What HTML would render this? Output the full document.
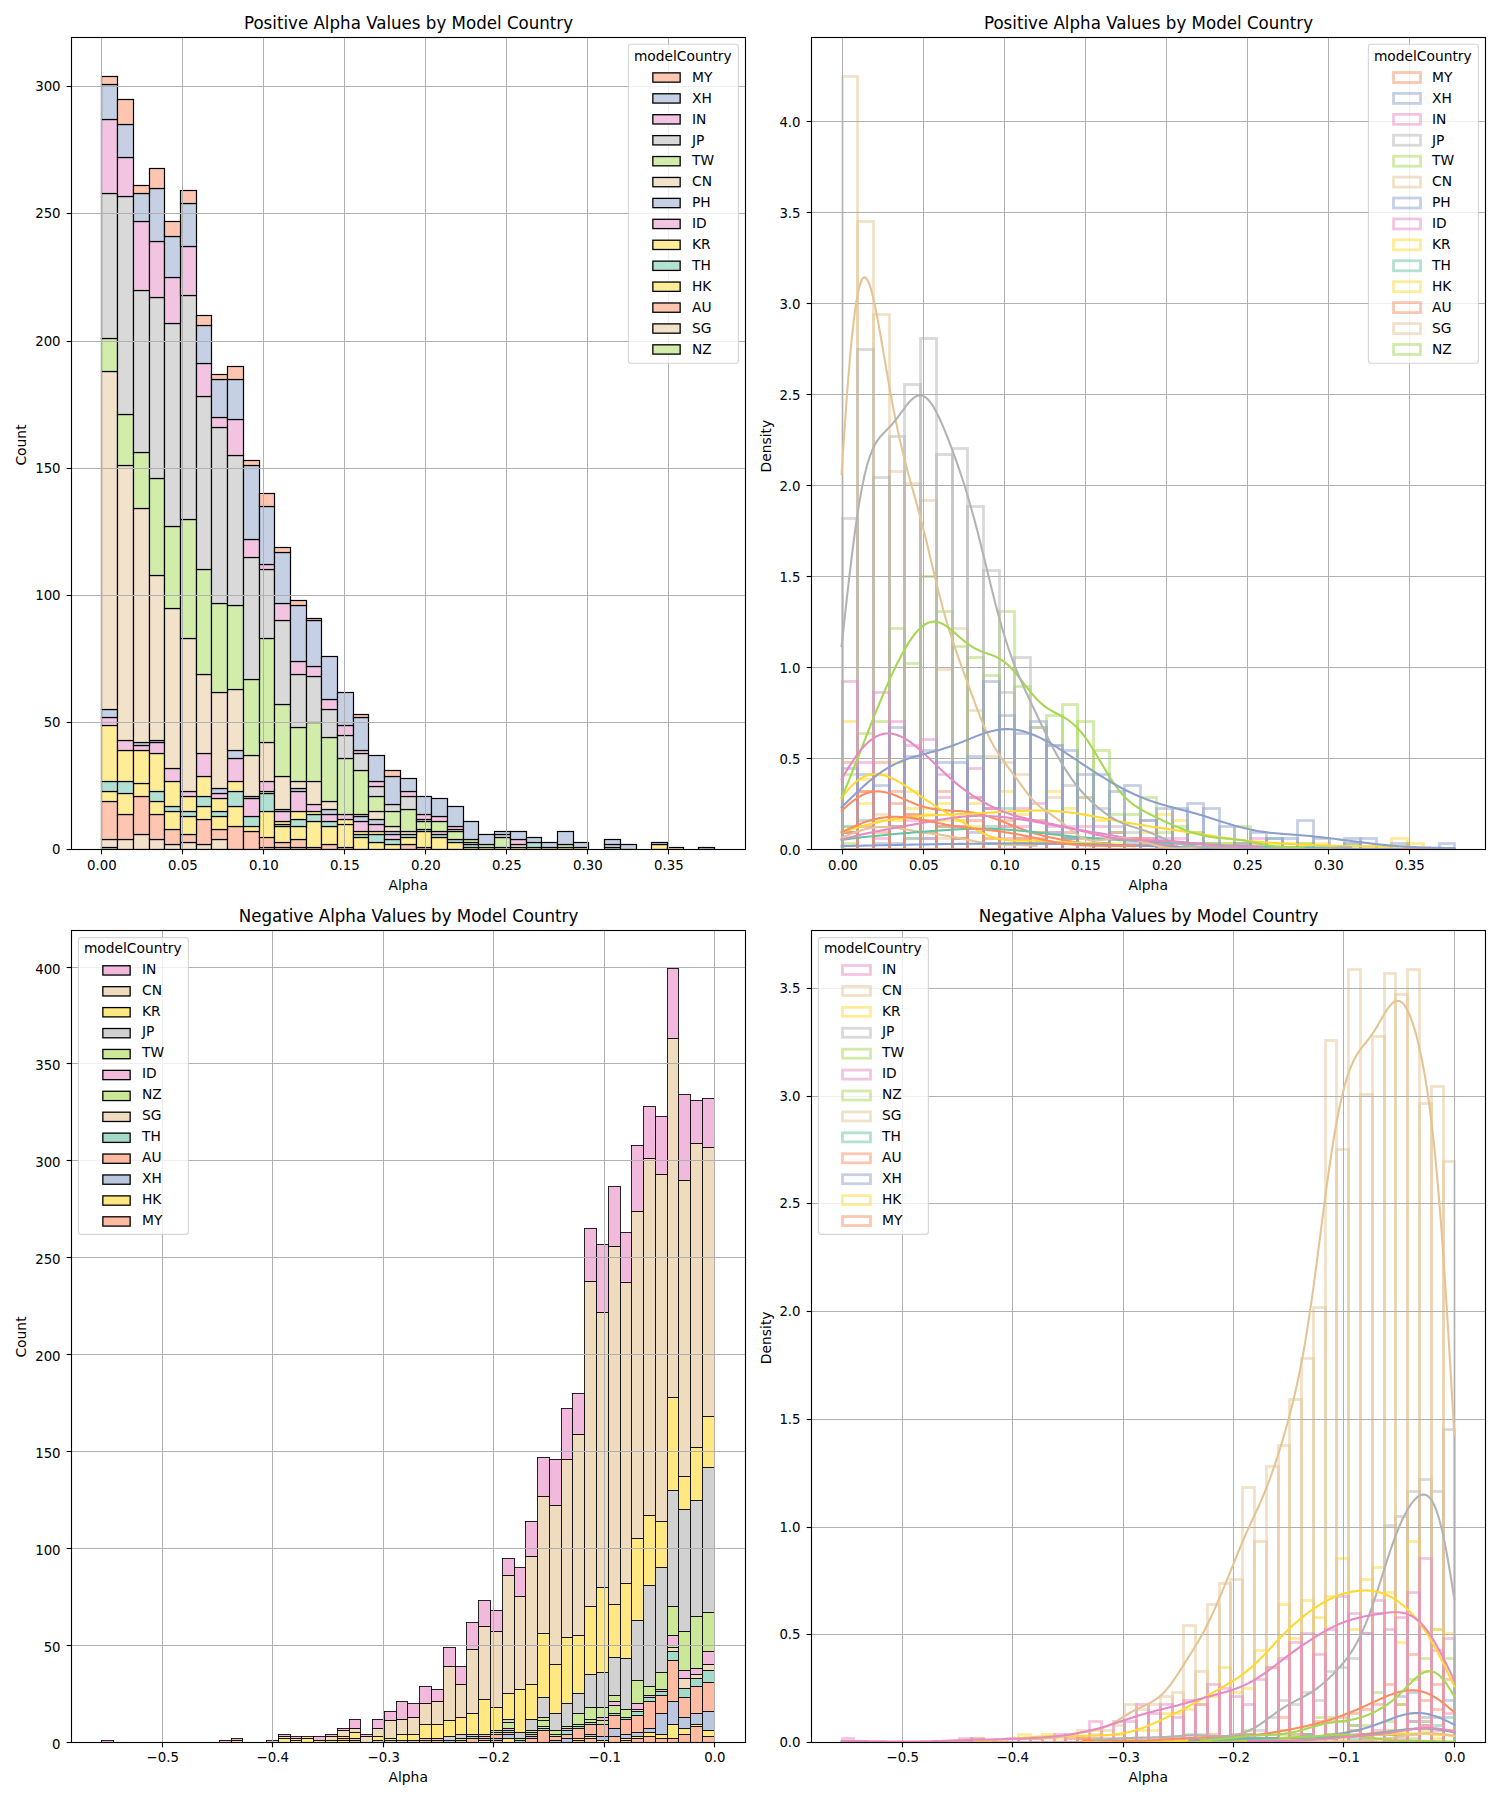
<!DOCTYPE html><html><head><meta charset="utf-8"><title>Alpha Values by Model Country</title><style>html,body{margin:0;padding:0;background:#fff}svg{display:block}</style></head><body><svg width="1500" height="1800" viewBox="0 0 1500 1800"><rect width="1500" height="1800" fill="#fff"/><clipPath id="clipTL"><rect x="71.5" y="37.5" width="674.0" height="812.0"/></clipPath>
<g clip-path="url(#clipTL)">
<g stroke="#000" stroke-width="1.2" stroke-linejoin="miter">
<g fill="#d2ecaa"><rect x="101.5" y="847.5" width="16" height="2"/><rect x="117.5" y="849.5" width="16" height="0"/><rect x="133.5" y="849.5" width="16" height="0"/><rect x="149.5" y="849.5" width="15" height="0"/><rect x="164.5" y="849.5" width="16" height="0"/><rect x="180.5" y="849.5" width="16" height="0"/><rect x="196.5" y="849.5" width="15" height="0"/><rect x="211.5" y="849.5" width="16" height="0"/><rect x="227.5" y="849.5" width="16" height="0"/><rect x="243.5" y="849.5" width="16" height="0"/><rect x="259.5" y="849.5" width="15" height="0"/><rect x="274.5" y="849.5" width="16" height="0"/><rect x="290.5" y="849.5" width="16" height="0"/><rect x="306.5" y="849.5" width="15" height="0"/><rect x="321.5" y="849.5" width="16" height="0"/><rect x="337.5" y="849.5" width="16" height="0"/><rect x="353.5" y="849.5" width="15" height="0"/><rect x="368.5" y="849.5" width="16" height="0"/><rect x="384.5" y="849.5" width="16" height="0"/><rect x="400.5" y="849.5" width="16" height="0"/><rect x="416.5" y="849.5" width="15" height="0"/><rect x="431.5" y="849.5" width="16" height="0"/><rect x="447.5" y="849.5" width="16" height="0"/><rect x="463.5" y="849.5" width="15" height="0"/><rect x="478.5" y="849.5" width="16" height="0"/><rect x="494.5" y="849.5" width="16" height="0"/><rect x="510.5" y="849.5" width="16" height="0"/><rect x="526.5" y="849.5" width="15" height="0"/><rect x="541.5" y="849.5" width="16" height="0"/><rect x="557.5" y="849.5" width="16" height="0"/><rect x="573.5" y="849.5" width="15" height="0"/><rect x="588.5" y="849.5" width="16" height="0"/><rect x="604.5" y="849.5" width="16" height="0"/><rect x="620.5" y="849.5" width="16" height="0"/><rect x="636.5" y="849.5" width="15" height="0"/><rect x="651.5" y="849.5" width="16" height="0"/><rect x="667.5" y="849.5" width="16" height="0"/><rect x="683.5" y="849.5" width="15" height="0"/><rect x="698.5" y="849.5" width="16" height="0"/></g>
<g fill="#f2e2ca"><rect x="101.5" y="839.5" width="16" height="8"/><rect x="117.5" y="839.5" width="16" height="10"/><rect x="133.5" y="834.5" width="16" height="15"/><rect x="149.5" y="839.5" width="15" height="10"/><rect x="164.5" y="844.5" width="16" height="5"/><rect x="180.5" y="842.5" width="16" height="7"/><rect x="196.5" y="844.5" width="15" height="5"/><rect x="211.5" y="839.5" width="16" height="10"/><rect x="227.5" y="849.5" width="16" height="0"/><rect x="243.5" y="849.5" width="16" height="0"/><rect x="259.5" y="847.5" width="15" height="2"/><rect x="274.5" y="847.5" width="16" height="2"/><rect x="290.5" y="847.5" width="16" height="2"/><rect x="306.5" y="849.5" width="15" height="0"/><rect x="321.5" y="849.5" width="16" height="0"/><rect x="337.5" y="849.5" width="16" height="0"/><rect x="353.5" y="849.5" width="15" height="0"/><rect x="368.5" y="849.5" width="16" height="0"/><rect x="384.5" y="849.5" width="16" height="0"/><rect x="400.5" y="849.5" width="16" height="0"/><rect x="416.5" y="849.5" width="15" height="0"/><rect x="431.5" y="849.5" width="16" height="0"/><rect x="447.5" y="849.5" width="16" height="0"/><rect x="463.5" y="849.5" width="15" height="0"/><rect x="478.5" y="849.5" width="16" height="0"/><rect x="494.5" y="849.5" width="16" height="0"/><rect x="510.5" y="849.5" width="16" height="0"/><rect x="526.5" y="849.5" width="15" height="0"/><rect x="541.5" y="849.5" width="16" height="0"/><rect x="557.5" y="849.5" width="16" height="0"/><rect x="573.5" y="849.5" width="15" height="0"/><rect x="588.5" y="849.5" width="16" height="0"/><rect x="604.5" y="849.5" width="16" height="0"/><rect x="620.5" y="849.5" width="16" height="0"/><rect x="636.5" y="849.5" width="15" height="0"/><rect x="651.5" y="849.5" width="16" height="0"/><rect x="667.5" y="849.5" width="16" height="0"/><rect x="683.5" y="849.5" width="15" height="0"/><rect x="698.5" y="849.5" width="16" height="0"/></g>
<g fill="#fec6b0"><rect x="101.5" y="801.5" width="16" height="38"/><rect x="117.5" y="814.5" width="16" height="25"/><rect x="133.5" y="796.5" width="16" height="38"/><rect x="149.5" y="814.5" width="15" height="25"/><rect x="164.5" y="829.5" width="16" height="15"/><rect x="180.5" y="834.5" width="16" height="8"/><rect x="196.5" y="819.5" width="15" height="25"/><rect x="211.5" y="829.5" width="16" height="10"/><rect x="227.5" y="826.5" width="16" height="23"/><rect x="243.5" y="831.5" width="16" height="18"/><rect x="259.5" y="837.5" width="15" height="10"/><rect x="274.5" y="842.5" width="16" height="5"/><rect x="290.5" y="839.5" width="16" height="8"/><rect x="306.5" y="847.5" width="15" height="2"/><rect x="321.5" y="844.5" width="16" height="5"/><rect x="337.5" y="847.5" width="16" height="2"/><rect x="353.5" y="849.5" width="15" height="0"/><rect x="368.5" y="849.5" width="16" height="0"/><rect x="384.5" y="849.5" width="16" height="0"/><rect x="400.5" y="844.5" width="16" height="5"/><rect x="416.5" y="847.5" width="15" height="2"/><rect x="431.5" y="849.5" width="16" height="0"/><rect x="447.5" y="849.5" width="16" height="0"/><rect x="463.5" y="849.5" width="15" height="0"/><rect x="478.5" y="849.5" width="16" height="0"/><rect x="494.5" y="849.5" width="16" height="0"/><rect x="510.5" y="849.5" width="16" height="0"/><rect x="526.5" y="849.5" width="15" height="0"/><rect x="541.5" y="849.5" width="16" height="0"/><rect x="557.5" y="849.5" width="16" height="0"/><rect x="573.5" y="849.5" width="15" height="0"/><rect x="588.5" y="849.5" width="16" height="0"/><rect x="604.5" y="849.5" width="16" height="0"/><rect x="620.5" y="849.5" width="16" height="0"/><rect x="636.5" y="849.5" width="15" height="0"/><rect x="651.5" y="849.5" width="16" height="0"/><rect x="667.5" y="849.5" width="16" height="0"/><rect x="683.5" y="849.5" width="15" height="0"/><rect x="698.5" y="849.5" width="16" height="0"/></g>
<g fill="#ffec97"><rect x="101.5" y="791.5" width="16" height="10"/><rect x="117.5" y="793.5" width="16" height="21"/><rect x="133.5" y="783.5" width="16" height="13"/><rect x="149.5" y="801.5" width="15" height="13"/><rect x="164.5" y="811.5" width="16" height="18"/><rect x="180.5" y="816.5" width="16" height="18"/><rect x="196.5" y="806.5" width="15" height="13"/><rect x="211.5" y="816.5" width="16" height="13"/><rect x="227.5" y="806.5" width="16" height="20"/><rect x="243.5" y="826.5" width="16" height="5"/><rect x="259.5" y="811.5" width="15" height="26"/><rect x="274.5" y="826.5" width="16" height="16"/><rect x="290.5" y="826.5" width="16" height="13"/><rect x="306.5" y="821.5" width="15" height="26"/><rect x="321.5" y="826.5" width="16" height="18"/><rect x="337.5" y="824.5" width="16" height="23"/><rect x="353.5" y="837.5" width="15" height="12"/><rect x="368.5" y="842.5" width="16" height="7"/><rect x="384.5" y="844.5" width="16" height="5"/><rect x="400.5" y="837.5" width="16" height="7"/><rect x="416.5" y="831.5" width="15" height="16"/><rect x="431.5" y="837.5" width="16" height="12"/><rect x="447.5" y="842.5" width="16" height="7"/><rect x="463.5" y="847.5" width="15" height="2"/><rect x="478.5" y="847.5" width="16" height="2"/><rect x="494.5" y="847.5" width="16" height="2"/><rect x="510.5" y="847.5" width="16" height="2"/><rect x="526.5" y="847.5" width="15" height="2"/><rect x="541.5" y="847.5" width="16" height="2"/><rect x="557.5" y="847.5" width="16" height="2"/><rect x="573.5" y="847.5" width="15" height="2"/><rect x="588.5" y="849.5" width="16" height="0"/><rect x="604.5" y="849.5" width="16" height="0"/><rect x="620.5" y="849.5" width="16" height="0"/><rect x="636.5" y="849.5" width="15" height="0"/><rect x="651.5" y="844.5" width="16" height="5"/><rect x="667.5" y="847.5" width="16" height="2"/><rect x="683.5" y="849.5" width="15" height="0"/><rect x="698.5" y="849.5" width="16" height="0"/></g>
<g fill="#b2e0d2"><rect x="101.5" y="781.5" width="16" height="10"/><rect x="117.5" y="781.5" width="16" height="12"/><rect x="133.5" y="783.5" width="16" height="0"/><rect x="149.5" y="791.5" width="15" height="10"/><rect x="164.5" y="806.5" width="16" height="5"/><rect x="180.5" y="811.5" width="16" height="5"/><rect x="196.5" y="796.5" width="15" height="10"/><rect x="211.5" y="811.5" width="16" height="5"/><rect x="227.5" y="791.5" width="16" height="15"/><rect x="243.5" y="816.5" width="16" height="10"/><rect x="259.5" y="793.5" width="15" height="18"/><rect x="274.5" y="824.5" width="16" height="2"/><rect x="290.5" y="819.5" width="16" height="7"/><rect x="306.5" y="814.5" width="15" height="7"/><rect x="321.5" y="821.5" width="16" height="5"/><rect x="337.5" y="824.5" width="16" height="0"/><rect x="353.5" y="834.5" width="15" height="3"/><rect x="368.5" y="834.5" width="16" height="8"/><rect x="384.5" y="839.5" width="16" height="5"/><rect x="400.5" y="834.5" width="16" height="3"/><rect x="416.5" y="829.5" width="15" height="2"/><rect x="431.5" y="834.5" width="16" height="3"/><rect x="447.5" y="839.5" width="16" height="3"/><rect x="463.5" y="844.5" width="15" height="3"/><rect x="478.5" y="847.5" width="16" height="0"/><rect x="494.5" y="847.5" width="16" height="0"/><rect x="510.5" y="847.5" width="16" height="0"/><rect x="526.5" y="842.5" width="15" height="5"/><rect x="541.5" y="847.5" width="16" height="0"/><rect x="557.5" y="847.5" width="16" height="0"/><rect x="573.5" y="847.5" width="15" height="0"/><rect x="588.5" y="849.5" width="16" height="0"/><rect x="604.5" y="847.5" width="16" height="2"/><rect x="620.5" y="849.5" width="16" height="0"/><rect x="636.5" y="849.5" width="15" height="0"/><rect x="651.5" y="844.5" width="16" height="0"/><rect x="667.5" y="847.5" width="16" height="0"/><rect x="683.5" y="849.5" width="15" height="0"/><rect x="698.5" y="849.5" width="16" height="0"/></g>
<g fill="#ffec97"><rect x="101.5" y="725.5" width="16" height="56"/><rect x="117.5" y="750.5" width="16" height="31"/><rect x="133.5" y="750.5" width="16" height="33"/><rect x="149.5" y="753.5" width="15" height="38"/><rect x="164.5" y="781.5" width="16" height="25"/><rect x="180.5" y="796.5" width="16" height="15"/><rect x="196.5" y="776.5" width="15" height="20"/><rect x="211.5" y="798.5" width="16" height="13"/><rect x="227.5" y="781.5" width="16" height="10"/><rect x="243.5" y="816.5" width="16" height="0"/><rect x="259.5" y="791.5" width="15" height="2"/><rect x="274.5" y="821.5" width="16" height="3"/><rect x="290.5" y="811.5" width="16" height="8"/><rect x="306.5" y="811.5" width="15" height="3"/><rect x="321.5" y="821.5" width="16" height="0"/><rect x="337.5" y="819.5" width="16" height="5"/><rect x="353.5" y="831.5" width="15" height="3"/><rect x="368.5" y="831.5" width="16" height="3"/><rect x="384.5" y="839.5" width="16" height="0"/><rect x="400.5" y="834.5" width="16" height="0"/><rect x="416.5" y="829.5" width="15" height="0"/><rect x="431.5" y="834.5" width="16" height="0"/><rect x="447.5" y="839.5" width="16" height="0"/><rect x="463.5" y="844.5" width="15" height="0"/><rect x="478.5" y="847.5" width="16" height="0"/><rect x="494.5" y="847.5" width="16" height="0"/><rect x="510.5" y="847.5" width="16" height="0"/><rect x="526.5" y="842.5" width="15" height="0"/><rect x="541.5" y="847.5" width="16" height="0"/><rect x="557.5" y="847.5" width="16" height="0"/><rect x="573.5" y="847.5" width="15" height="0"/><rect x="588.5" y="849.5" width="16" height="0"/><rect x="604.5" y="847.5" width="16" height="0"/><rect x="620.5" y="849.5" width="16" height="0"/><rect x="636.5" y="849.5" width="15" height="0"/><rect x="651.5" y="844.5" width="16" height="0"/><rect x="667.5" y="847.5" width="16" height="0"/><rect x="683.5" y="849.5" width="15" height="0"/><rect x="698.5" y="849.5" width="16" height="0"/></g>
<g fill="#f3c4e1"><rect x="101.5" y="717.5" width="16" height="8"/><rect x="117.5" y="740.5" width="16" height="10"/><rect x="133.5" y="745.5" width="16" height="5"/><rect x="149.5" y="742.5" width="15" height="11"/><rect x="164.5" y="768.5" width="16" height="13"/><rect x="180.5" y="791.5" width="16" height="5"/><rect x="196.5" y="753.5" width="15" height="23"/><rect x="211.5" y="793.5" width="16" height="5"/><rect x="227.5" y="758.5" width="16" height="23"/><rect x="243.5" y="798.5" width="16" height="18"/><rect x="259.5" y="781.5" width="15" height="10"/><rect x="274.5" y="811.5" width="16" height="10"/><rect x="290.5" y="791.5" width="16" height="20"/><rect x="306.5" y="804.5" width="15" height="7"/><rect x="321.5" y="814.5" width="16" height="7"/><rect x="337.5" y="814.5" width="16" height="5"/><rect x="353.5" y="821.5" width="15" height="10"/><rect x="368.5" y="824.5" width="16" height="7"/><rect x="384.5" y="834.5" width="16" height="5"/><rect x="400.5" y="834.5" width="16" height="0"/><rect x="416.5" y="829.5" width="15" height="0"/><rect x="431.5" y="831.5" width="16" height="3"/><rect x="447.5" y="839.5" width="16" height="0"/><rect x="463.5" y="844.5" width="15" height="0"/><rect x="478.5" y="847.5" width="16" height="0"/><rect x="494.5" y="847.5" width="16" height="0"/><rect x="510.5" y="847.5" width="16" height="0"/><rect x="526.5" y="842.5" width="15" height="0"/><rect x="541.5" y="847.5" width="16" height="0"/><rect x="557.5" y="847.5" width="16" height="0"/><rect x="573.5" y="847.5" width="15" height="0"/><rect x="588.5" y="849.5" width="16" height="0"/><rect x="604.5" y="847.5" width="16" height="0"/><rect x="620.5" y="849.5" width="16" height="0"/><rect x="636.5" y="849.5" width="15" height="0"/><rect x="651.5" y="844.5" width="16" height="0"/><rect x="667.5" y="847.5" width="16" height="0"/><rect x="683.5" y="849.5" width="15" height="0"/><rect x="698.5" y="849.5" width="16" height="0"/></g>
<g fill="#c6d0e5"><rect x="101.5" y="709.5" width="16" height="8"/><rect x="117.5" y="740.5" width="16" height="0"/><rect x="133.5" y="742.5" width="16" height="3"/><rect x="149.5" y="740.5" width="15" height="2"/><rect x="164.5" y="768.5" width="16" height="0"/><rect x="180.5" y="791.5" width="16" height="0"/><rect x="196.5" y="753.5" width="15" height="0"/><rect x="211.5" y="788.5" width="16" height="5"/><rect x="227.5" y="750.5" width="16" height="8"/><rect x="243.5" y="796.5" width="16" height="2"/><rect x="259.5" y="781.5" width="15" height="0"/><rect x="274.5" y="809.5" width="16" height="2"/><rect x="290.5" y="788.5" width="16" height="3"/><rect x="306.5" y="804.5" width="15" height="0"/><rect x="321.5" y="809.5" width="16" height="5"/><rect x="337.5" y="814.5" width="16" height="0"/><rect x="353.5" y="816.5" width="15" height="5"/><rect x="368.5" y="819.5" width="16" height="5"/><rect x="384.5" y="831.5" width="16" height="3"/><rect x="400.5" y="834.5" width="16" height="0"/><rect x="416.5" y="829.5" width="15" height="0"/><rect x="431.5" y="831.5" width="16" height="0"/><rect x="447.5" y="839.5" width="16" height="0"/><rect x="463.5" y="844.5" width="15" height="0"/><rect x="478.5" y="847.5" width="16" height="0"/><rect x="494.5" y="847.5" width="16" height="0"/><rect x="510.5" y="847.5" width="16" height="0"/><rect x="526.5" y="842.5" width="15" height="0"/><rect x="541.5" y="847.5" width="16" height="0"/><rect x="557.5" y="847.5" width="16" height="0"/><rect x="573.5" y="847.5" width="15" height="0"/><rect x="588.5" y="849.5" width="16" height="0"/><rect x="604.5" y="847.5" width="16" height="0"/><rect x="620.5" y="849.5" width="16" height="0"/><rect x="636.5" y="849.5" width="15" height="0"/><rect x="651.5" y="842.5" width="16" height="2"/><rect x="667.5" y="847.5" width="16" height="0"/><rect x="683.5" y="849.5" width="15" height="0"/><rect x="698.5" y="849.5" width="16" height="0"/></g>
<g fill="#f2e2ca"><rect x="101.5" y="371.5" width="16" height="338"/><rect x="117.5" y="465.5" width="16" height="275"/><rect x="133.5" y="508.5" width="16" height="234"/><rect x="149.5" y="575.5" width="15" height="165"/><rect x="164.5" y="608.5" width="16" height="160"/><rect x="180.5" y="638.5" width="16" height="153"/><rect x="196.5" y="674.5" width="15" height="79"/><rect x="211.5" y="692.5" width="16" height="96"/><rect x="227.5" y="689.5" width="16" height="61"/><rect x="243.5" y="755.5" width="16" height="41"/><rect x="259.5" y="742.5" width="15" height="39"/><rect x="274.5" y="776.5" width="16" height="33"/><rect x="290.5" y="781.5" width="16" height="7"/><rect x="306.5" y="781.5" width="15" height="23"/><rect x="321.5" y="801.5" width="16" height="8"/><rect x="337.5" y="814.5" width="16" height="0"/><rect x="353.5" y="814.5" width="15" height="2"/><rect x="368.5" y="811.5" width="16" height="8"/><rect x="384.5" y="826.5" width="16" height="5"/><rect x="400.5" y="831.5" width="16" height="3"/><rect x="416.5" y="829.5" width="15" height="0"/><rect x="431.5" y="831.5" width="16" height="0"/><rect x="447.5" y="839.5" width="16" height="0"/><rect x="463.5" y="842.5" width="15" height="2"/><rect x="478.5" y="847.5" width="16" height="0"/><rect x="494.5" y="847.5" width="16" height="0"/><rect x="510.5" y="844.5" width="16" height="3"/><rect x="526.5" y="842.5" width="15" height="0"/><rect x="541.5" y="847.5" width="16" height="0"/><rect x="557.5" y="847.5" width="16" height="0"/><rect x="573.5" y="847.5" width="15" height="0"/><rect x="588.5" y="849.5" width="16" height="0"/><rect x="604.5" y="847.5" width="16" height="0"/><rect x="620.5" y="849.5" width="16" height="0"/><rect x="636.5" y="849.5" width="15" height="0"/><rect x="651.5" y="842.5" width="16" height="0"/><rect x="667.5" y="847.5" width="16" height="0"/><rect x="683.5" y="849.5" width="15" height="0"/><rect x="698.5" y="849.5" width="16" height="0"/></g>
<g fill="#d2ecaa"><rect x="101.5" y="338.5" width="16" height="33"/><rect x="117.5" y="414.5" width="16" height="51"/><rect x="133.5" y="452.5" width="16" height="56"/><rect x="149.5" y="478.5" width="15" height="97"/><rect x="164.5" y="526.5" width="16" height="82"/><rect x="180.5" y="519.5" width="16" height="119"/><rect x="196.5" y="569.5" width="15" height="105"/><rect x="211.5" y="603.5" width="16" height="89"/><rect x="227.5" y="605.5" width="16" height="84"/><rect x="243.5" y="679.5" width="16" height="76"/><rect x="259.5" y="638.5" width="15" height="104"/><rect x="274.5" y="704.5" width="16" height="72"/><rect x="290.5" y="727.5" width="16" height="54"/><rect x="306.5" y="722.5" width="15" height="59"/><rect x="321.5" y="737.5" width="16" height="64"/><rect x="337.5" y="758.5" width="16" height="56"/><rect x="353.5" y="770.5" width="15" height="44"/><rect x="368.5" y="796.5" width="16" height="15"/><rect x="384.5" y="811.5" width="16" height="15"/><rect x="400.5" y="809.5" width="16" height="22"/><rect x="416.5" y="821.5" width="15" height="8"/><rect x="431.5" y="821.5" width="16" height="10"/><rect x="447.5" y="831.5" width="16" height="8"/><rect x="463.5" y="839.5" width="15" height="3"/><rect x="478.5" y="844.5" width="16" height="3"/><rect x="494.5" y="837.5" width="16" height="10"/><rect x="510.5" y="844.5" width="16" height="0"/><rect x="526.5" y="842.5" width="15" height="0"/><rect x="541.5" y="847.5" width="16" height="0"/><rect x="557.5" y="844.5" width="16" height="3"/><rect x="573.5" y="847.5" width="15" height="0"/><rect x="588.5" y="849.5" width="16" height="0"/><rect x="604.5" y="847.5" width="16" height="0"/><rect x="620.5" y="849.5" width="16" height="0"/><rect x="636.5" y="849.5" width="15" height="0"/><rect x="651.5" y="842.5" width="16" height="0"/><rect x="667.5" y="847.5" width="16" height="0"/><rect x="683.5" y="849.5" width="15" height="0"/><rect x="698.5" y="849.5" width="16" height="0"/></g>
<g fill="#d9d9d9"><rect x="101.5" y="193.5" width="16" height="145"/><rect x="117.5" y="196.5" width="16" height="218"/><rect x="133.5" y="290.5" width="16" height="162"/><rect x="149.5" y="297.5" width="15" height="181"/><rect x="164.5" y="323.5" width="16" height="203"/><rect x="180.5" y="295.5" width="16" height="224"/><rect x="196.5" y="396.5" width="15" height="173"/><rect x="211.5" y="427.5" width="16" height="176"/><rect x="227.5" y="455.5" width="16" height="150"/><rect x="243.5" y="557.5" width="16" height="122"/><rect x="259.5" y="569.5" width="15" height="69"/><rect x="274.5" y="620.5" width="16" height="84"/><rect x="290.5" y="674.5" width="16" height="53"/><rect x="306.5" y="676.5" width="15" height="46"/><rect x="321.5" y="709.5" width="16" height="28"/><rect x="337.5" y="735.5" width="16" height="23"/><rect x="353.5" y="753.5" width="15" height="17"/><rect x="368.5" y="786.5" width="16" height="10"/><rect x="384.5" y="804.5" width="16" height="7"/><rect x="400.5" y="796.5" width="16" height="13"/><rect x="416.5" y="819.5" width="15" height="2"/><rect x="431.5" y="821.5" width="16" height="0"/><rect x="447.5" y="829.5" width="16" height="2"/><rect x="463.5" y="839.5" width="15" height="0"/><rect x="478.5" y="844.5" width="16" height="0"/><rect x="494.5" y="834.5" width="16" height="3"/><rect x="510.5" y="844.5" width="16" height="0"/><rect x="526.5" y="842.5" width="15" height="0"/><rect x="541.5" y="847.5" width="16" height="0"/><rect x="557.5" y="844.5" width="16" height="0"/><rect x="573.5" y="847.5" width="15" height="0"/><rect x="588.5" y="849.5" width="16" height="0"/><rect x="604.5" y="844.5" width="16" height="3"/><rect x="620.5" y="849.5" width="16" height="0"/><rect x="636.5" y="849.5" width="15" height="0"/><rect x="651.5" y="842.5" width="16" height="0"/><rect x="667.5" y="847.5" width="16" height="0"/><rect x="683.5" y="849.5" width="15" height="0"/><rect x="698.5" y="849.5" width="16" height="0"/></g>
<g fill="#f3c4e1"><rect x="101.5" y="119.5" width="16" height="74"/><rect x="117.5" y="157.5" width="16" height="39"/><rect x="133.5" y="221.5" width="16" height="69"/><rect x="149.5" y="241.5" width="15" height="56"/><rect x="164.5" y="277.5" width="16" height="46"/><rect x="180.5" y="246.5" width="16" height="49"/><rect x="196.5" y="363.5" width="15" height="33"/><rect x="211.5" y="417.5" width="16" height="10"/><rect x="227.5" y="419.5" width="16" height="36"/><rect x="243.5" y="539.5" width="16" height="18"/><rect x="259.5" y="564.5" width="15" height="5"/><rect x="274.5" y="603.5" width="16" height="17"/><rect x="290.5" y="661.5" width="16" height="13"/><rect x="306.5" y="666.5" width="15" height="10"/><rect x="321.5" y="699.5" width="16" height="10"/><rect x="337.5" y="725.5" width="16" height="10"/><rect x="353.5" y="750.5" width="15" height="3"/><rect x="368.5" y="781.5" width="16" height="5"/><rect x="384.5" y="804.5" width="16" height="0"/><rect x="400.5" y="791.5" width="16" height="5"/><rect x="416.5" y="814.5" width="15" height="5"/><rect x="431.5" y="816.5" width="16" height="5"/><rect x="447.5" y="826.5" width="16" height="3"/><rect x="463.5" y="839.5" width="15" height="0"/><rect x="478.5" y="844.5" width="16" height="0"/><rect x="494.5" y="834.5" width="16" height="0"/><rect x="510.5" y="839.5" width="16" height="5"/><rect x="526.5" y="842.5" width="15" height="0"/><rect x="541.5" y="847.5" width="16" height="0"/><rect x="557.5" y="844.5" width="16" height="0"/><rect x="573.5" y="847.5" width="15" height="0"/><rect x="588.5" y="849.5" width="16" height="0"/><rect x="604.5" y="844.5" width="16" height="0"/><rect x="620.5" y="849.5" width="16" height="0"/><rect x="636.5" y="849.5" width="15" height="0"/><rect x="651.5" y="842.5" width="16" height="0"/><rect x="667.5" y="847.5" width="16" height="0"/><rect x="683.5" y="849.5" width="15" height="0"/><rect x="698.5" y="849.5" width="16" height="0"/></g>
<g fill="#c6d0e5"><rect x="101.5" y="84.5" width="16" height="35"/><rect x="117.5" y="124.5" width="16" height="33"/><rect x="133.5" y="193.5" width="16" height="28"/><rect x="149.5" y="188.5" width="15" height="53"/><rect x="164.5" y="236.5" width="16" height="41"/><rect x="180.5" y="203.5" width="16" height="43"/><rect x="196.5" y="325.5" width="15" height="38"/><rect x="211.5" y="379.5" width="16" height="38"/><rect x="227.5" y="379.5" width="16" height="40"/><rect x="243.5" y="465.5" width="16" height="74"/><rect x="259.5" y="506.5" width="15" height="58"/><rect x="274.5" y="552.5" width="16" height="51"/><rect x="290.5" y="605.5" width="16" height="56"/><rect x="306.5" y="620.5" width="15" height="46"/><rect x="321.5" y="656.5" width="16" height="43"/><rect x="337.5" y="692.5" width="16" height="33"/><rect x="353.5" y="717.5" width="15" height="33"/><rect x="368.5" y="755.5" width="16" height="26"/><rect x="384.5" y="776.5" width="16" height="28"/><rect x="400.5" y="778.5" width="16" height="13"/><rect x="416.5" y="796.5" width="15" height="18"/><rect x="431.5" y="798.5" width="16" height="18"/><rect x="447.5" y="806.5" width="16" height="20"/><rect x="463.5" y="821.5" width="15" height="18"/><rect x="478.5" y="834.5" width="16" height="10"/><rect x="494.5" y="831.5" width="16" height="3"/><rect x="510.5" y="831.5" width="16" height="8"/><rect x="526.5" y="837.5" width="15" height="5"/><rect x="541.5" y="842.5" width="16" height="5"/><rect x="557.5" y="831.5" width="16" height="13"/><rect x="573.5" y="842.5" width="15" height="5"/><rect x="588.5" y="849.5" width="16" height="0"/><rect x="604.5" y="839.5" width="16" height="5"/><rect x="620.5" y="844.5" width="16" height="5"/><rect x="636.5" y="849.5" width="15" height="0"/><rect x="651.5" y="842.5" width="16" height="0"/><rect x="667.5" y="847.5" width="16" height="0"/><rect x="683.5" y="849.5" width="15" height="0"/><rect x="698.5" y="847.5" width="16" height="2"/></g>
<g fill="#fec6b0"><rect x="101.5" y="76.5" width="16" height="8"/><rect x="117.5" y="99.5" width="16" height="25"/><rect x="133.5" y="185.5" width="16" height="8"/><rect x="149.5" y="168.5" width="15" height="20"/><rect x="164.5" y="221.5" width="16" height="15"/><rect x="180.5" y="190.5" width="16" height="13"/><rect x="196.5" y="315.5" width="15" height="10"/><rect x="211.5" y="374.5" width="16" height="5"/><rect x="227.5" y="366.5" width="16" height="13"/><rect x="243.5" y="460.5" width="16" height="5"/><rect x="259.5" y="493.5" width="15" height="13"/><rect x="274.5" y="547.5" width="16" height="5"/><rect x="290.5" y="600.5" width="16" height="5"/><rect x="306.5" y="618.5" width="15" height="2"/><rect x="321.5" y="656.5" width="16" height="0"/><rect x="337.5" y="692.5" width="16" height="0"/><rect x="353.5" y="714.5" width="15" height="3"/><rect x="368.5" y="755.5" width="16" height="0"/><rect x="384.5" y="770.5" width="16" height="6"/><rect x="400.5" y="778.5" width="16" height="0"/><rect x="416.5" y="796.5" width="15" height="0"/><rect x="431.5" y="798.5" width="16" height="0"/><rect x="447.5" y="806.5" width="16" height="0"/><rect x="463.5" y="821.5" width="15" height="0"/><rect x="478.5" y="834.5" width="16" height="0"/><rect x="494.5" y="831.5" width="16" height="0"/><rect x="510.5" y="831.5" width="16" height="0"/><rect x="526.5" y="837.5" width="15" height="0"/><rect x="541.5" y="842.5" width="16" height="0"/><rect x="557.5" y="831.5" width="16" height="0"/><rect x="573.5" y="842.5" width="15" height="0"/><rect x="588.5" y="849.5" width="16" height="0"/><rect x="604.5" y="839.5" width="16" height="0"/><rect x="620.5" y="844.5" width="16" height="0"/><rect x="636.5" y="849.5" width="15" height="0"/><rect x="651.5" y="842.5" width="16" height="0"/><rect x="667.5" y="847.5" width="16" height="0"/><rect x="683.5" y="849.5" width="15" height="0"/><rect x="698.5" y="847.5" width="16" height="0"/></g>
</g>
<g stroke="#b0b0b0" stroke-width="1">
<line x1="101.5" x2="101.5" y1="37.5" y2="849.5"/>
<line x1="182.5" x2="182.5" y1="37.5" y2="849.5"/>
<line x1="263.5" x2="263.5" y1="37.5" y2="849.5"/>
<line x1="344.5" x2="344.5" y1="37.5" y2="849.5"/>
<line x1="425.5" x2="425.5" y1="37.5" y2="849.5"/>
<line x1="506.5" x2="506.5" y1="37.5" y2="849.5"/>
<line x1="587.5" x2="587.5" y1="37.5" y2="849.5"/>
<line x1="668.5" x2="668.5" y1="37.5" y2="849.5"/>
<line x1="71.5" x2="745.5" y1="849.5" y2="849.5"/>
<line x1="71.5" x2="745.5" y1="722.5" y2="722.5"/>
<line x1="71.5" x2="745.5" y1="595.5" y2="595.5"/>
<line x1="71.5" x2="745.5" y1="468.5" y2="468.5"/>
<line x1="71.5" x2="745.5" y1="341.5" y2="341.5"/>
<line x1="71.5" x2="745.5" y1="213.5" y2="213.5"/>
<line x1="71.5" x2="745.5" y1="86.5" y2="86.5"/>
</g>
</g>
<rect x="71.5" y="37.5" width="674.0" height="812.0" fill="none" stroke="#000" stroke-width="1.11"/>
<g stroke="#000" stroke-width="1.11">
<line x1="101.5" x2="101.5" y1="849.5" y2="854.36"/>
<line x1="182.5" x2="182.5" y1="849.5" y2="854.36"/>
<line x1="263.5" x2="263.5" y1="849.5" y2="854.36"/>
<line x1="344.5" x2="344.5" y1="849.5" y2="854.36"/>
<line x1="425.5" x2="425.5" y1="849.5" y2="854.36"/>
<line x1="506.5" x2="506.5" y1="849.5" y2="854.36"/>
<line x1="587.5" x2="587.5" y1="849.5" y2="854.36"/>
<line x1="668.5" x2="668.5" y1="849.5" y2="854.36"/>
<line x1="66.64" x2="71.5" y1="849.5" y2="849.5"/>
<line x1="66.64" x2="71.5" y1="722.5" y2="722.5"/>
<line x1="66.64" x2="71.5" y1="595.5" y2="595.5"/>
<line x1="66.64" x2="71.5" y1="468.5" y2="468.5"/>
<line x1="66.64" x2="71.5" y1="341.5" y2="341.5"/>
<line x1="66.64" x2="71.5" y1="213.5" y2="213.5"/>
<line x1="66.64" x2="71.5" y1="86.5" y2="86.5"/>
</g>
<g font-family="'DejaVu Sans','Liberation Sans',sans-serif" font-size="13.89" fill="#000">
<text transform="translate(101.8,869.8) scale(0.96,1)" text-anchor="middle">0.00</text>
<text transform="translate(182.8,869.8) scale(0.96,1)" text-anchor="middle">0.05</text>
<text transform="translate(263.8,869.8) scale(0.96,1)" text-anchor="middle">0.10</text>
<text transform="translate(344.8,869.8) scale(0.96,1)" text-anchor="middle">0.15</text>
<text transform="translate(425.8,869.8) scale(0.96,1)" text-anchor="middle">0.20</text>
<text transform="translate(506.8,869.8) scale(0.96,1)" text-anchor="middle">0.25</text>
<text transform="translate(587.8,869.8) scale(0.96,1)" text-anchor="middle">0.30</text>
<text transform="translate(668.8,869.8) scale(0.96,1)" text-anchor="middle">0.35</text>
<text transform="translate(60.6,854.3) scale(0.96,1)" text-anchor="end">0</text>
<text transform="translate(60.6,727.3) scale(0.96,1)" text-anchor="end">50</text>
<text transform="translate(60.6,600.3) scale(0.96,1)" text-anchor="end">100</text>
<text transform="translate(60.6,473.3) scale(0.96,1)" text-anchor="end">150</text>
<text transform="translate(60.6,346.3) scale(0.96,1)" text-anchor="end">200</text>
<text transform="translate(60.6,218.3) scale(0.96,1)" text-anchor="end">250</text>
<text transform="translate(60.6,91.3) scale(0.96,1)" text-anchor="end">300</text>
<text x="408.2" y="889.5" text-anchor="middle">Alpha</text>
<text transform="translate(26,445.0) rotate(-90)" text-anchor="middle">Count</text>
</g>
<text transform="translate(408.5,29.2) scale(1,1.07)" text-anchor="middle" font-family="'DejaVu Sans','Liberation Sans',sans-serif" font-size="16.67" fill="#000">Positive Alpha Values by Model Country</text>
<rect x="628.4" y="44.3" width="110.0" height="319" rx="2.8" fill="#fff" fill-opacity="0.8" stroke="#ccc" stroke-opacity="0.8" stroke-width="1.11"/>
<g font-family="'DejaVu Sans','Liberation Sans',sans-serif" font-size="13.8" fill="#000">
<text x="633.9" y="60.9">modelCountry</text>
<rect x="652.85" y="72.85" width="27.3" height="9.3" fill="#fec6b0" stroke="#000" stroke-width="1.3"/>
<text x="692" y="81.8">MY</text>
<rect x="652.85" y="93.77" width="27.3" height="9.3" fill="#c6d0e5" stroke="#000" stroke-width="1.3"/>
<text x="692" y="102.72">XH</text>
<rect x="652.85" y="114.69" width="27.3" height="9.3" fill="#f3c4e1" stroke="#000" stroke-width="1.3"/>
<text x="692" y="123.64">IN</text>
<rect x="652.85" y="135.61" width="27.3" height="9.3" fill="#d9d9d9" stroke="#000" stroke-width="1.3"/>
<text x="692" y="144.56">JP</text>
<rect x="652.85" y="156.53" width="27.3" height="9.3" fill="#d2ecaa" stroke="#000" stroke-width="1.3"/>
<text x="692" y="165.48">TW</text>
<rect x="652.85" y="177.45" width="27.3" height="9.3" fill="#f2e2ca" stroke="#000" stroke-width="1.3"/>
<text x="692" y="186.4">CN</text>
<rect x="652.85" y="198.37" width="27.3" height="9.3" fill="#c6d0e5" stroke="#000" stroke-width="1.3"/>
<text x="692" y="207.32">PH</text>
<rect x="652.85" y="219.29" width="27.3" height="9.3" fill="#f3c4e1" stroke="#000" stroke-width="1.3"/>
<text x="692" y="228.24">ID</text>
<rect x="652.85" y="240.21" width="27.3" height="9.3" fill="#ffec97" stroke="#000" stroke-width="1.3"/>
<text x="692" y="249.16">KR</text>
<rect x="652.85" y="261.13" width="27.3" height="9.3" fill="#b2e0d2" stroke="#000" stroke-width="1.3"/>
<text x="692" y="270.08">TH</text>
<rect x="652.85" y="282.05" width="27.3" height="9.3" fill="#ffec97" stroke="#000" stroke-width="1.3"/>
<text x="692" y="291">HK</text>
<rect x="652.85" y="302.97" width="27.3" height="9.3" fill="#fec6b0" stroke="#000" stroke-width="1.3"/>
<text x="692" y="311.92">AU</text>
<rect x="652.85" y="323.89" width="27.3" height="9.3" fill="#f2e2ca" stroke="#000" stroke-width="1.3"/>
<text x="692" y="332.84">SG</text>
<rect x="652.85" y="344.81" width="27.3" height="9.3" fill="#d2ecaa" stroke="#000" stroke-width="1.3"/>
<text x="692" y="353.76">NZ</text>
</g>
<clipPath id="clipTR"><rect x="811.5" y="37.5" width="674.0" height="812.0"/></clipPath>
<g clip-path="url(#clipTR)">
<g fill="none" stroke-width="2.78" stroke-opacity="0.5">
<g stroke="#a6d854"><rect x="842.5" y="843.5" width="15" height="6"/><line x1="857.5" y1="849.5" x2="873.5" y2="849.5" stroke-linecap="square"/><line x1="873.5" y1="849.5" x2="889.5" y2="849.5" stroke-linecap="square"/><line x1="889.5" y1="849.5" x2="904.5" y2="849.5" stroke-linecap="square"/><line x1="904.5" y1="849.5" x2="920.5" y2="849.5" stroke-linecap="square"/><line x1="920.5" y1="849.5" x2="936.5" y2="849.5" stroke-linecap="square"/><line x1="936.5" y1="849.5" x2="952.5" y2="849.5" stroke-linecap="square"/><line x1="952.5" y1="849.5" x2="967.5" y2="849.5" stroke-linecap="square"/><line x1="967.5" y1="849.5" x2="983.5" y2="849.5" stroke-linecap="square"/><line x1="983.5" y1="849.5" x2="999.5" y2="849.5" stroke-linecap="square"/><line x1="999.5" y1="849.5" x2="1014.5" y2="849.5" stroke-linecap="square"/><line x1="1014.5" y1="849.5" x2="1030.5" y2="849.5" stroke-linecap="square"/><line x1="1030.5" y1="849.5" x2="1046.5" y2="849.5" stroke-linecap="square"/><line x1="1046.5" y1="849.5" x2="1062.5" y2="849.5" stroke-linecap="square"/><line x1="1062.5" y1="849.5" x2="1077.5" y2="849.5" stroke-linecap="square"/><line x1="1077.5" y1="849.5" x2="1093.5" y2="849.5" stroke-linecap="square"/><line x1="1093.5" y1="849.5" x2="1109.5" y2="849.5" stroke-linecap="square"/><line x1="1109.5" y1="849.5" x2="1124.5" y2="849.5" stroke-linecap="square"/><line x1="1124.5" y1="849.5" x2="1140.5" y2="849.5" stroke-linecap="square"/><line x1="1140.5" y1="849.5" x2="1156.5" y2="849.5" stroke-linecap="square"/><line x1="1156.5" y1="849.5" x2="1172.5" y2="849.5" stroke-linecap="square"/><line x1="1172.5" y1="849.5" x2="1187.5" y2="849.5" stroke-linecap="square"/><line x1="1187.5" y1="849.5" x2="1203.5" y2="849.5" stroke-linecap="square"/><line x1="1203.5" y1="849.5" x2="1219.5" y2="849.5" stroke-linecap="square"/><line x1="1219.5" y1="849.5" x2="1234.5" y2="849.5" stroke-linecap="square"/><line x1="1234.5" y1="849.5" x2="1250.5" y2="849.5" stroke-linecap="square"/><line x1="1250.5" y1="849.5" x2="1266.5" y2="849.5" stroke-linecap="square"/><line x1="1266.5" y1="849.5" x2="1282.5" y2="849.5" stroke-linecap="square"/><line x1="1282.5" y1="849.5" x2="1297.5" y2="849.5" stroke-linecap="square"/><line x1="1297.5" y1="849.5" x2="1313.5" y2="849.5" stroke-linecap="square"/><line x1="1313.5" y1="849.5" x2="1329.5" y2="849.5" stroke-linecap="square"/><line x1="1329.5" y1="849.5" x2="1344.5" y2="849.5" stroke-linecap="square"/><line x1="1344.5" y1="849.5" x2="1360.5" y2="849.5" stroke-linecap="square"/><line x1="1360.5" y1="849.5" x2="1376.5" y2="849.5" stroke-linecap="square"/><line x1="1376.5" y1="849.5" x2="1391.5" y2="849.5" stroke-linecap="square"/><line x1="1391.5" y1="849.5" x2="1407.5" y2="849.5" stroke-linecap="square"/><line x1="1407.5" y1="849.5" x2="1423.5" y2="849.5" stroke-linecap="square"/><line x1="1423.5" y1="849.5" x2="1439.5" y2="849.5" stroke-linecap="square"/><line x1="1439.5" y1="849.5" x2="1454.5" y2="849.5" stroke-linecap="square"/></g>
<g stroke="#e5c494"><rect x="842.5" y="832.5" width="15" height="17"/><rect x="857.5" y="826.5" width="16" height="23"/><rect x="873.5" y="814.5" width="16" height="35"/><rect x="889.5" y="826.5" width="15" height="23"/><rect x="904.5" y="838.5" width="16" height="11"/><rect x="920.5" y="832.5" width="16" height="17"/><rect x="936.5" y="838.5" width="16" height="11"/><rect x="952.5" y="826.5" width="15" height="23"/><line x1="967.5" y1="849.5" x2="983.5" y2="849.5" stroke-linecap="square"/><line x1="983.5" y1="849.5" x2="999.5" y2="849.5" stroke-linecap="square"/><rect x="999.5" y="843.5" width="15" height="6"/><rect x="1014.5" y="843.5" width="16" height="6"/><rect x="1030.5" y="843.5" width="16" height="6"/><line x1="1046.5" y1="849.5" x2="1062.5" y2="849.5" stroke-linecap="square"/><line x1="1062.5" y1="849.5" x2="1077.5" y2="849.5" stroke-linecap="square"/><line x1="1077.5" y1="849.5" x2="1093.5" y2="849.5" stroke-linecap="square"/><line x1="1093.5" y1="849.5" x2="1109.5" y2="849.5" stroke-linecap="square"/><line x1="1109.5" y1="849.5" x2="1124.5" y2="849.5" stroke-linecap="square"/><line x1="1124.5" y1="849.5" x2="1140.5" y2="849.5" stroke-linecap="square"/><line x1="1140.5" y1="849.5" x2="1156.5" y2="849.5" stroke-linecap="square"/><line x1="1156.5" y1="849.5" x2="1172.5" y2="849.5" stroke-linecap="square"/><line x1="1172.5" y1="849.5" x2="1187.5" y2="849.5" stroke-linecap="square"/><line x1="1187.5" y1="849.5" x2="1203.5" y2="849.5" stroke-linecap="square"/><line x1="1203.5" y1="849.5" x2="1219.5" y2="849.5" stroke-linecap="square"/><line x1="1219.5" y1="849.5" x2="1234.5" y2="849.5" stroke-linecap="square"/><line x1="1234.5" y1="849.5" x2="1250.5" y2="849.5" stroke-linecap="square"/><line x1="1250.5" y1="849.5" x2="1266.5" y2="849.5" stroke-linecap="square"/><line x1="1266.5" y1="849.5" x2="1282.5" y2="849.5" stroke-linecap="square"/><line x1="1282.5" y1="849.5" x2="1297.5" y2="849.5" stroke-linecap="square"/><line x1="1297.5" y1="849.5" x2="1313.5" y2="849.5" stroke-linecap="square"/><line x1="1313.5" y1="849.5" x2="1329.5" y2="849.5" stroke-linecap="square"/><line x1="1329.5" y1="849.5" x2="1344.5" y2="849.5" stroke-linecap="square"/><line x1="1344.5" y1="849.5" x2="1360.5" y2="849.5" stroke-linecap="square"/><line x1="1360.5" y1="849.5" x2="1376.5" y2="849.5" stroke-linecap="square"/><line x1="1376.5" y1="849.5" x2="1391.5" y2="849.5" stroke-linecap="square"/><line x1="1391.5" y1="849.5" x2="1407.5" y2="849.5" stroke-linecap="square"/><line x1="1407.5" y1="849.5" x2="1423.5" y2="849.5" stroke-linecap="square"/><line x1="1423.5" y1="849.5" x2="1439.5" y2="849.5" stroke-linecap="square"/><line x1="1439.5" y1="849.5" x2="1454.5" y2="849.5" stroke-linecap="square"/></g>
<g stroke="#fc8d62"><rect x="842.5" y="762.5" width="15" height="87"/><rect x="857.5" y="791.5" width="16" height="58"/><rect x="873.5" y="762.5" width="16" height="87"/><rect x="889.5" y="791.5" width="15" height="58"/><rect x="904.5" y="814.5" width="16" height="35"/><rect x="920.5" y="832.5" width="16" height="17"/><rect x="936.5" y="791.5" width="16" height="58"/><rect x="952.5" y="826.5" width="15" height="23"/><rect x="967.5" y="797.5" width="16" height="52"/><rect x="983.5" y="808.5" width="16" height="41"/><rect x="999.5" y="826.5" width="15" height="23"/><rect x="1014.5" y="838.5" width="16" height="11"/><rect x="1030.5" y="832.5" width="16" height="17"/><rect x="1046.5" y="843.5" width="16" height="6"/><rect x="1062.5" y="838.5" width="15" height="11"/><rect x="1077.5" y="843.5" width="16" height="6"/><line x1="1093.5" y1="849.5" x2="1109.5" y2="849.5" stroke-linecap="square"/><line x1="1109.5" y1="849.5" x2="1124.5" y2="849.5" stroke-linecap="square"/><line x1="1124.5" y1="849.5" x2="1140.5" y2="849.5" stroke-linecap="square"/><rect x="1140.5" y="838.5" width="16" height="11"/><rect x="1156.5" y="843.5" width="16" height="6"/><line x1="1172.5" y1="849.5" x2="1187.5" y2="849.5" stroke-linecap="square"/><line x1="1187.5" y1="849.5" x2="1203.5" y2="849.5" stroke-linecap="square"/><line x1="1203.5" y1="849.5" x2="1219.5" y2="849.5" stroke-linecap="square"/><line x1="1219.5" y1="849.5" x2="1234.5" y2="849.5" stroke-linecap="square"/><line x1="1234.5" y1="849.5" x2="1250.5" y2="849.5" stroke-linecap="square"/><line x1="1250.5" y1="849.5" x2="1266.5" y2="849.5" stroke-linecap="square"/><line x1="1266.5" y1="849.5" x2="1282.5" y2="849.5" stroke-linecap="square"/><line x1="1282.5" y1="849.5" x2="1297.5" y2="849.5" stroke-linecap="square"/><line x1="1297.5" y1="849.5" x2="1313.5" y2="849.5" stroke-linecap="square"/><line x1="1313.5" y1="849.5" x2="1329.5" y2="849.5" stroke-linecap="square"/><line x1="1329.5" y1="849.5" x2="1344.5" y2="849.5" stroke-linecap="square"/><line x1="1344.5" y1="849.5" x2="1360.5" y2="849.5" stroke-linecap="square"/><line x1="1360.5" y1="849.5" x2="1376.5" y2="849.5" stroke-linecap="square"/><line x1="1376.5" y1="849.5" x2="1391.5" y2="849.5" stroke-linecap="square"/><line x1="1391.5" y1="849.5" x2="1407.5" y2="849.5" stroke-linecap="square"/><line x1="1407.5" y1="849.5" x2="1423.5" y2="849.5" stroke-linecap="square"/><line x1="1423.5" y1="849.5" x2="1439.5" y2="849.5" stroke-linecap="square"/><line x1="1439.5" y1="849.5" x2="1454.5" y2="849.5" stroke-linecap="square"/></g>
<g stroke="#ffd92f"><rect x="842.5" y="826.5" width="15" height="23"/><rect x="857.5" y="803.5" width="16" height="46"/><rect x="873.5" y="820.5" width="16" height="29"/><rect x="889.5" y="820.5" width="15" height="29"/><rect x="904.5" y="808.5" width="16" height="41"/><rect x="920.5" y="808.5" width="16" height="41"/><rect x="936.5" y="820.5" width="16" height="29"/><rect x="952.5" y="820.5" width="15" height="29"/><rect x="967.5" y="803.5" width="16" height="46"/><rect x="983.5" y="838.5" width="16" height="11"/><rect x="999.5" y="791.5" width="15" height="58"/><rect x="1014.5" y="814.5" width="16" height="35"/><rect x="1030.5" y="820.5" width="16" height="29"/><rect x="1046.5" y="791.5" width="16" height="58"/><rect x="1062.5" y="808.5" width="15" height="41"/><rect x="1077.5" y="797.5" width="16" height="52"/><rect x="1093.5" y="820.5" width="16" height="29"/><rect x="1109.5" y="832.5" width="15" height="17"/><rect x="1124.5" y="838.5" width="16" height="11"/><rect x="1140.5" y="832.5" width="16" height="17"/><rect x="1156.5" y="814.5" width="16" height="35"/><rect x="1172.5" y="820.5" width="15" height="29"/><rect x="1187.5" y="832.5" width="16" height="17"/><rect x="1203.5" y="843.5" width="16" height="6"/><rect x="1219.5" y="843.5" width="15" height="6"/><rect x="1234.5" y="843.5" width="16" height="6"/><rect x="1250.5" y="843.5" width="16" height="6"/><rect x="1266.5" y="843.5" width="16" height="6"/><rect x="1282.5" y="843.5" width="15" height="6"/><rect x="1297.5" y="843.5" width="16" height="6"/><rect x="1313.5" y="843.5" width="16" height="6"/><line x1="1329.5" y1="849.5" x2="1344.5" y2="849.5" stroke-linecap="square"/><line x1="1344.5" y1="849.5" x2="1360.5" y2="849.5" stroke-linecap="square"/><line x1="1360.5" y1="849.5" x2="1376.5" y2="849.5" stroke-linecap="square"/><line x1="1376.5" y1="849.5" x2="1391.5" y2="849.5" stroke-linecap="square"/><rect x="1391.5" y="838.5" width="16" height="11"/><rect x="1407.5" y="843.5" width="16" height="6"/><line x1="1423.5" y1="849.5" x2="1439.5" y2="849.5" stroke-linecap="square"/><line x1="1439.5" y1="849.5" x2="1454.5" y2="849.5" stroke-linecap="square"/></g>
<g stroke="#66c2a5"><rect x="842.5" y="826.5" width="15" height="23"/><rect x="857.5" y="820.5" width="16" height="29"/><line x1="873.5" y1="849.5" x2="889.5" y2="849.5" stroke-linecap="square"/><rect x="889.5" y="826.5" width="15" height="23"/><rect x="904.5" y="838.5" width="16" height="11"/><rect x="920.5" y="838.5" width="16" height="11"/><rect x="936.5" y="826.5" width="16" height="23"/><rect x="952.5" y="838.5" width="15" height="11"/><rect x="967.5" y="814.5" width="16" height="35"/><rect x="983.5" y="826.5" width="16" height="23"/><rect x="999.5" y="808.5" width="15" height="41"/><rect x="1014.5" y="843.5" width="16" height="6"/><rect x="1030.5" y="832.5" width="16" height="17"/><rect x="1046.5" y="832.5" width="16" height="17"/><rect x="1062.5" y="838.5" width="15" height="11"/><line x1="1077.5" y1="849.5" x2="1093.5" y2="849.5" stroke-linecap="square"/><rect x="1093.5" y="843.5" width="16" height="6"/><rect x="1109.5" y="832.5" width="15" height="17"/><rect x="1124.5" y="838.5" width="16" height="11"/><rect x="1140.5" y="843.5" width="16" height="6"/><rect x="1156.5" y="843.5" width="16" height="6"/><rect x="1172.5" y="843.5" width="15" height="6"/><rect x="1187.5" y="843.5" width="16" height="6"/><rect x="1203.5" y="843.5" width="16" height="6"/><line x1="1219.5" y1="849.5" x2="1234.5" y2="849.5" stroke-linecap="square"/><line x1="1234.5" y1="849.5" x2="1250.5" y2="849.5" stroke-linecap="square"/><line x1="1250.5" y1="849.5" x2="1266.5" y2="849.5" stroke-linecap="square"/><rect x="1266.5" y="838.5" width="16" height="11"/><line x1="1282.5" y1="849.5" x2="1297.5" y2="849.5" stroke-linecap="square"/><line x1="1297.5" y1="849.5" x2="1313.5" y2="849.5" stroke-linecap="square"/><line x1="1313.5" y1="849.5" x2="1329.5" y2="849.5" stroke-linecap="square"/><line x1="1329.5" y1="849.5" x2="1344.5" y2="849.5" stroke-linecap="square"/><rect x="1344.5" y="843.5" width="16" height="6"/><line x1="1360.5" y1="849.5" x2="1376.5" y2="849.5" stroke-linecap="square"/><line x1="1376.5" y1="849.5" x2="1391.5" y2="849.5" stroke-linecap="square"/><line x1="1391.5" y1="849.5" x2="1407.5" y2="849.5" stroke-linecap="square"/><line x1="1407.5" y1="849.5" x2="1423.5" y2="849.5" stroke-linecap="square"/><line x1="1423.5" y1="849.5" x2="1439.5" y2="849.5" stroke-linecap="square"/><line x1="1439.5" y1="849.5" x2="1454.5" y2="849.5" stroke-linecap="square"/></g>
<g stroke="#ffd92f"><rect x="842.5" y="721.5" width="15" height="128"/><rect x="857.5" y="779.5" width="16" height="70"/><rect x="873.5" y="774.5" width="16" height="75"/><rect x="889.5" y="762.5" width="15" height="87"/><rect x="904.5" y="791.5" width="16" height="58"/><rect x="920.5" y="814.5" width="16" height="35"/><rect x="936.5" y="803.5" width="16" height="46"/><rect x="952.5" y="820.5" width="15" height="29"/><rect x="967.5" y="826.5" width="16" height="23"/><line x1="983.5" y1="849.5" x2="999.5" y2="849.5" stroke-linecap="square"/><rect x="999.5" y="843.5" width="15" height="6"/><rect x="1014.5" y="843.5" width="16" height="6"/><rect x="1030.5" y="832.5" width="16" height="17"/><rect x="1046.5" y="843.5" width="16" height="6"/><line x1="1062.5" y1="849.5" x2="1077.5" y2="849.5" stroke-linecap="square"/><rect x="1077.5" y="838.5" width="16" height="11"/><rect x="1093.5" y="843.5" width="16" height="6"/><rect x="1109.5" y="843.5" width="15" height="6"/><line x1="1124.5" y1="849.5" x2="1140.5" y2="849.5" stroke-linecap="square"/><line x1="1140.5" y1="849.5" x2="1156.5" y2="849.5" stroke-linecap="square"/><line x1="1156.5" y1="849.5" x2="1172.5" y2="849.5" stroke-linecap="square"/><line x1="1172.5" y1="849.5" x2="1187.5" y2="849.5" stroke-linecap="square"/><line x1="1187.5" y1="849.5" x2="1203.5" y2="849.5" stroke-linecap="square"/><line x1="1203.5" y1="849.5" x2="1219.5" y2="849.5" stroke-linecap="square"/><line x1="1219.5" y1="849.5" x2="1234.5" y2="849.5" stroke-linecap="square"/><line x1="1234.5" y1="849.5" x2="1250.5" y2="849.5" stroke-linecap="square"/><line x1="1250.5" y1="849.5" x2="1266.5" y2="849.5" stroke-linecap="square"/><line x1="1266.5" y1="849.5" x2="1282.5" y2="849.5" stroke-linecap="square"/><line x1="1282.5" y1="849.5" x2="1297.5" y2="849.5" stroke-linecap="square"/><line x1="1297.5" y1="849.5" x2="1313.5" y2="849.5" stroke-linecap="square"/><line x1="1313.5" y1="849.5" x2="1329.5" y2="849.5" stroke-linecap="square"/><line x1="1329.5" y1="849.5" x2="1344.5" y2="849.5" stroke-linecap="square"/><line x1="1344.5" y1="849.5" x2="1360.5" y2="849.5" stroke-linecap="square"/><line x1="1360.5" y1="849.5" x2="1376.5" y2="849.5" stroke-linecap="square"/><line x1="1376.5" y1="849.5" x2="1391.5" y2="849.5" stroke-linecap="square"/><line x1="1391.5" y1="849.5" x2="1407.5" y2="849.5" stroke-linecap="square"/><line x1="1407.5" y1="849.5" x2="1423.5" y2="849.5" stroke-linecap="square"/><line x1="1423.5" y1="849.5" x2="1439.5" y2="849.5" stroke-linecap="square"/><line x1="1439.5" y1="849.5" x2="1454.5" y2="849.5" stroke-linecap="square"/></g>
<g stroke="#e78ac3"><rect x="842.5" y="832.5" width="15" height="17"/><rect x="857.5" y="826.5" width="16" height="23"/><rect x="873.5" y="838.5" width="16" height="11"/><rect x="889.5" y="826.5" width="15" height="23"/><rect x="904.5" y="820.5" width="16" height="29"/><rect x="920.5" y="838.5" width="16" height="11"/><rect x="936.5" y="797.5" width="16" height="52"/><rect x="952.5" y="838.5" width="15" height="11"/><rect x="967.5" y="797.5" width="16" height="52"/><rect x="983.5" y="808.5" width="16" height="41"/><rect x="999.5" y="826.5" width="15" height="23"/><rect x="1014.5" y="826.5" width="16" height="23"/><rect x="1030.5" y="803.5" width="16" height="46"/><rect x="1046.5" y="832.5" width="16" height="17"/><rect x="1062.5" y="832.5" width="15" height="17"/><rect x="1077.5" y="838.5" width="16" height="11"/><rect x="1093.5" y="826.5" width="16" height="23"/><rect x="1109.5" y="832.5" width="15" height="17"/><rect x="1124.5" y="838.5" width="16" height="11"/><line x1="1140.5" y1="849.5" x2="1156.5" y2="849.5" stroke-linecap="square"/><line x1="1156.5" y1="849.5" x2="1172.5" y2="849.5" stroke-linecap="square"/><rect x="1172.5" y="843.5" width="15" height="6"/><line x1="1187.5" y1="849.5" x2="1203.5" y2="849.5" stroke-linecap="square"/><line x1="1203.5" y1="849.5" x2="1219.5" y2="849.5" stroke-linecap="square"/><line x1="1219.5" y1="849.5" x2="1234.5" y2="849.5" stroke-linecap="square"/><line x1="1234.5" y1="849.5" x2="1250.5" y2="849.5" stroke-linecap="square"/><line x1="1250.5" y1="849.5" x2="1266.5" y2="849.5" stroke-linecap="square"/><line x1="1266.5" y1="849.5" x2="1282.5" y2="849.5" stroke-linecap="square"/><line x1="1282.5" y1="849.5" x2="1297.5" y2="849.5" stroke-linecap="square"/><line x1="1297.5" y1="849.5" x2="1313.5" y2="849.5" stroke-linecap="square"/><line x1="1313.5" y1="849.5" x2="1329.5" y2="849.5" stroke-linecap="square"/><line x1="1329.5" y1="849.5" x2="1344.5" y2="849.5" stroke-linecap="square"/><line x1="1344.5" y1="849.5" x2="1360.5" y2="849.5" stroke-linecap="square"/><line x1="1360.5" y1="849.5" x2="1376.5" y2="849.5" stroke-linecap="square"/><line x1="1376.5" y1="849.5" x2="1391.5" y2="849.5" stroke-linecap="square"/><line x1="1391.5" y1="849.5" x2="1407.5" y2="849.5" stroke-linecap="square"/><line x1="1407.5" y1="849.5" x2="1423.5" y2="849.5" stroke-linecap="square"/><line x1="1423.5" y1="849.5" x2="1439.5" y2="849.5" stroke-linecap="square"/><line x1="1439.5" y1="849.5" x2="1454.5" y2="849.5" stroke-linecap="square"/></g>
<g stroke="#8da0cb"><rect x="842.5" y="832.5" width="15" height="17"/><line x1="857.5" y1="849.5" x2="873.5" y2="849.5" stroke-linecap="square"/><rect x="873.5" y="843.5" width="16" height="6"/><rect x="889.5" y="843.5" width="15" height="6"/><line x1="904.5" y1="849.5" x2="920.5" y2="849.5" stroke-linecap="square"/><line x1="920.5" y1="849.5" x2="936.5" y2="849.5" stroke-linecap="square"/><line x1="936.5" y1="849.5" x2="952.5" y2="849.5" stroke-linecap="square"/><rect x="952.5" y="838.5" width="15" height="11"/><rect x="967.5" y="832.5" width="16" height="17"/><rect x="983.5" y="843.5" width="16" height="6"/><line x1="999.5" y1="849.5" x2="1014.5" y2="849.5" stroke-linecap="square"/><rect x="1014.5" y="843.5" width="16" height="6"/><rect x="1030.5" y="843.5" width="16" height="6"/><line x1="1046.5" y1="849.5" x2="1062.5" y2="849.5" stroke-linecap="square"/><rect x="1062.5" y="838.5" width="15" height="11"/><line x1="1077.5" y1="849.5" x2="1093.5" y2="849.5" stroke-linecap="square"/><rect x="1093.5" y="838.5" width="16" height="11"/><rect x="1109.5" y="838.5" width="15" height="11"/><rect x="1124.5" y="843.5" width="16" height="6"/><line x1="1140.5" y1="849.5" x2="1156.5" y2="849.5" stroke-linecap="square"/><line x1="1156.5" y1="849.5" x2="1172.5" y2="849.5" stroke-linecap="square"/><line x1="1172.5" y1="849.5" x2="1187.5" y2="849.5" stroke-linecap="square"/><line x1="1187.5" y1="849.5" x2="1203.5" y2="849.5" stroke-linecap="square"/><line x1="1203.5" y1="849.5" x2="1219.5" y2="849.5" stroke-linecap="square"/><line x1="1219.5" y1="849.5" x2="1234.5" y2="849.5" stroke-linecap="square"/><line x1="1234.5" y1="849.5" x2="1250.5" y2="849.5" stroke-linecap="square"/><line x1="1250.5" y1="849.5" x2="1266.5" y2="849.5" stroke-linecap="square"/><line x1="1266.5" y1="849.5" x2="1282.5" y2="849.5" stroke-linecap="square"/><line x1="1282.5" y1="849.5" x2="1297.5" y2="849.5" stroke-linecap="square"/><line x1="1297.5" y1="849.5" x2="1313.5" y2="849.5" stroke-linecap="square"/><line x1="1313.5" y1="849.5" x2="1329.5" y2="849.5" stroke-linecap="square"/><line x1="1329.5" y1="849.5" x2="1344.5" y2="849.5" stroke-linecap="square"/><line x1="1344.5" y1="849.5" x2="1360.5" y2="849.5" stroke-linecap="square"/><line x1="1360.5" y1="849.5" x2="1376.5" y2="849.5" stroke-linecap="square"/><line x1="1376.5" y1="849.5" x2="1391.5" y2="849.5" stroke-linecap="square"/><rect x="1391.5" y="843.5" width="16" height="6"/><line x1="1407.5" y1="849.5" x2="1423.5" y2="849.5" stroke-linecap="square"/><line x1="1423.5" y1="849.5" x2="1439.5" y2="849.5" stroke-linecap="square"/><line x1="1439.5" y1="849.5" x2="1454.5" y2="849.5" stroke-linecap="square"/></g>
<g stroke="#e5c494"><rect x="842.5" y="76.5" width="15" height="773"/><rect x="857.5" y="221.5" width="16" height="628"/><rect x="873.5" y="314.5" width="16" height="535"/><rect x="889.5" y="471.5" width="15" height="378"/><rect x="904.5" y="483.5" width="16" height="366"/><rect x="920.5" y="500.5" width="16" height="349"/><rect x="936.5" y="669.5" width="16" height="180"/><rect x="952.5" y="628.5" width="15" height="221"/><rect x="967.5" y="710.5" width="16" height="139"/><rect x="983.5" y="756.5" width="16" height="93"/><rect x="999.5" y="762.5" width="15" height="87"/><rect x="1014.5" y="774.5" width="16" height="75"/><rect x="1030.5" y="832.5" width="16" height="17"/><rect x="1046.5" y="797.5" width="16" height="52"/><rect x="1062.5" y="832.5" width="15" height="17"/><line x1="1077.5" y1="849.5" x2="1093.5" y2="849.5" stroke-linecap="square"/><rect x="1093.5" y="843.5" width="16" height="6"/><rect x="1109.5" y="832.5" width="15" height="17"/><rect x="1124.5" y="838.5" width="16" height="11"/><rect x="1140.5" y="843.5" width="16" height="6"/><line x1="1156.5" y1="849.5" x2="1172.5" y2="849.5" stroke-linecap="square"/><line x1="1172.5" y1="849.5" x2="1187.5" y2="849.5" stroke-linecap="square"/><line x1="1187.5" y1="849.5" x2="1203.5" y2="849.5" stroke-linecap="square"/><rect x="1203.5" y="843.5" width="16" height="6"/><line x1="1219.5" y1="849.5" x2="1234.5" y2="849.5" stroke-linecap="square"/><line x1="1234.5" y1="849.5" x2="1250.5" y2="849.5" stroke-linecap="square"/><rect x="1250.5" y="843.5" width="16" height="6"/><line x1="1266.5" y1="849.5" x2="1282.5" y2="849.5" stroke-linecap="square"/><line x1="1282.5" y1="849.5" x2="1297.5" y2="849.5" stroke-linecap="square"/><line x1="1297.5" y1="849.5" x2="1313.5" y2="849.5" stroke-linecap="square"/><line x1="1313.5" y1="849.5" x2="1329.5" y2="849.5" stroke-linecap="square"/><line x1="1329.5" y1="849.5" x2="1344.5" y2="849.5" stroke-linecap="square"/><line x1="1344.5" y1="849.5" x2="1360.5" y2="849.5" stroke-linecap="square"/><line x1="1360.5" y1="849.5" x2="1376.5" y2="849.5" stroke-linecap="square"/><line x1="1376.5" y1="849.5" x2="1391.5" y2="849.5" stroke-linecap="square"/><line x1="1391.5" y1="849.5" x2="1407.5" y2="849.5" stroke-linecap="square"/><line x1="1407.5" y1="849.5" x2="1423.5" y2="849.5" stroke-linecap="square"/><line x1="1423.5" y1="849.5" x2="1439.5" y2="849.5" stroke-linecap="square"/><line x1="1439.5" y1="849.5" x2="1454.5" y2="849.5" stroke-linecap="square"/></g>
<g stroke="#a6d854"><rect x="842.5" y="774.5" width="15" height="75"/><rect x="857.5" y="733.5" width="16" height="116"/><rect x="873.5" y="721.5" width="16" height="128"/><rect x="889.5" y="628.5" width="15" height="221"/><rect x="904.5" y="663.5" width="16" height="186"/><rect x="920.5" y="576.5" width="16" height="273"/><rect x="936.5" y="611.5" width="16" height="238"/><rect x="952.5" y="646.5" width="15" height="203"/><rect x="967.5" y="657.5" width="16" height="192"/><rect x="983.5" y="675.5" width="16" height="174"/><rect x="999.5" y="611.5" width="15" height="238"/><rect x="1014.5" y="686.5" width="16" height="163"/><rect x="1030.5" y="727.5" width="16" height="122"/><rect x="1046.5" y="715.5" width="16" height="134"/><rect x="1062.5" y="704.5" width="15" height="145"/><rect x="1077.5" y="721.5" width="16" height="128"/><rect x="1093.5" y="750.5" width="16" height="99"/><rect x="1109.5" y="814.5" width="15" height="35"/><rect x="1124.5" y="814.5" width="16" height="35"/><rect x="1140.5" y="797.5" width="16" height="52"/><rect x="1156.5" y="832.5" width="16" height="17"/><rect x="1172.5" y="826.5" width="15" height="23"/><rect x="1187.5" y="832.5" width="16" height="17"/><rect x="1203.5" y="843.5" width="16" height="6"/><rect x="1219.5" y="843.5" width="15" height="6"/><rect x="1234.5" y="826.5" width="16" height="23"/><line x1="1250.5" y1="849.5" x2="1266.5" y2="849.5" stroke-linecap="square"/><line x1="1266.5" y1="849.5" x2="1282.5" y2="849.5" stroke-linecap="square"/><line x1="1282.5" y1="849.5" x2="1297.5" y2="849.5" stroke-linecap="square"/><rect x="1297.5" y="843.5" width="16" height="6"/><line x1="1313.5" y1="849.5" x2="1329.5" y2="849.5" stroke-linecap="square"/><line x1="1329.5" y1="849.5" x2="1344.5" y2="849.5" stroke-linecap="square"/><line x1="1344.5" y1="849.5" x2="1360.5" y2="849.5" stroke-linecap="square"/><line x1="1360.5" y1="849.5" x2="1376.5" y2="849.5" stroke-linecap="square"/><line x1="1376.5" y1="849.5" x2="1391.5" y2="849.5" stroke-linecap="square"/><line x1="1391.5" y1="849.5" x2="1407.5" y2="849.5" stroke-linecap="square"/><line x1="1407.5" y1="849.5" x2="1423.5" y2="849.5" stroke-linecap="square"/><line x1="1423.5" y1="849.5" x2="1439.5" y2="849.5" stroke-linecap="square"/><line x1="1439.5" y1="849.5" x2="1454.5" y2="849.5" stroke-linecap="square"/></g>
<g stroke="#b3b3b3"><rect x="842.5" y="518.5" width="15" height="331"/><rect x="857.5" y="349.5" width="16" height="500"/><rect x="873.5" y="477.5" width="16" height="372"/><rect x="889.5" y="436.5" width="15" height="413"/><rect x="904.5" y="384.5" width="16" height="465"/><rect x="920.5" y="338.5" width="16" height="511"/><rect x="936.5" y="454.5" width="16" height="395"/><rect x="952.5" y="448.5" width="15" height="401"/><rect x="967.5" y="506.5" width="16" height="343"/><rect x="983.5" y="570.5" width="16" height="279"/><rect x="999.5" y="692.5" width="15" height="157"/><rect x="1014.5" y="657.5" width="16" height="192"/><rect x="1030.5" y="727.5" width="16" height="122"/><rect x="1046.5" y="745.5" width="16" height="104"/><rect x="1062.5" y="785.5" width="15" height="64"/><rect x="1077.5" y="797.5" width="16" height="52"/><rect x="1093.5" y="808.5" width="16" height="41"/><rect x="1109.5" y="826.5" width="15" height="23"/><rect x="1124.5" y="832.5" width="16" height="17"/><rect x="1140.5" y="820.5" width="16" height="29"/><rect x="1156.5" y="843.5" width="16" height="6"/><line x1="1172.5" y1="849.5" x2="1187.5" y2="849.5" stroke-linecap="square"/><rect x="1187.5" y="843.5" width="16" height="6"/><line x1="1203.5" y1="849.5" x2="1219.5" y2="849.5" stroke-linecap="square"/><line x1="1219.5" y1="849.5" x2="1234.5" y2="849.5" stroke-linecap="square"/><rect x="1234.5" y="843.5" width="16" height="6"/><line x1="1250.5" y1="849.5" x2="1266.5" y2="849.5" stroke-linecap="square"/><line x1="1266.5" y1="849.5" x2="1282.5" y2="849.5" stroke-linecap="square"/><line x1="1282.5" y1="849.5" x2="1297.5" y2="849.5" stroke-linecap="square"/><line x1="1297.5" y1="849.5" x2="1313.5" y2="849.5" stroke-linecap="square"/><line x1="1313.5" y1="849.5" x2="1329.5" y2="849.5" stroke-linecap="square"/><line x1="1329.5" y1="849.5" x2="1344.5" y2="849.5" stroke-linecap="square"/><rect x="1344.5" y="843.5" width="16" height="6"/><line x1="1360.5" y1="849.5" x2="1376.5" y2="849.5" stroke-linecap="square"/><line x1="1376.5" y1="849.5" x2="1391.5" y2="849.5" stroke-linecap="square"/><line x1="1391.5" y1="849.5" x2="1407.5" y2="849.5" stroke-linecap="square"/><line x1="1407.5" y1="849.5" x2="1423.5" y2="849.5" stroke-linecap="square"/><line x1="1423.5" y1="849.5" x2="1439.5" y2="849.5" stroke-linecap="square"/><line x1="1439.5" y1="849.5" x2="1454.5" y2="849.5" stroke-linecap="square"/></g>
<g stroke="#e78ac3"><rect x="842.5" y="681.5" width="15" height="168"/><rect x="857.5" y="762.5" width="16" height="87"/><rect x="873.5" y="692.5" width="16" height="157"/><rect x="889.5" y="721.5" width="15" height="128"/><rect x="904.5" y="745.5" width="16" height="104"/><rect x="920.5" y="739.5" width="16" height="110"/><rect x="936.5" y="774.5" width="16" height="75"/><rect x="952.5" y="826.5" width="15" height="23"/><rect x="967.5" y="768.5" width="16" height="81"/><rect x="983.5" y="808.5" width="16" height="41"/><rect x="999.5" y="838.5" width="15" height="11"/><rect x="1014.5" y="808.5" width="16" height="41"/><rect x="1030.5" y="820.5" width="16" height="29"/><rect x="1046.5" y="826.5" width="16" height="23"/><rect x="1062.5" y="826.5" width="15" height="23"/><rect x="1077.5" y="826.5" width="16" height="23"/><rect x="1093.5" y="843.5" width="16" height="6"/><rect x="1109.5" y="838.5" width="15" height="11"/><line x1="1124.5" y1="849.5" x2="1140.5" y2="849.5" stroke-linecap="square"/><rect x="1140.5" y="838.5" width="16" height="11"/><rect x="1156.5" y="838.5" width="16" height="11"/><rect x="1172.5" y="838.5" width="15" height="11"/><rect x="1187.5" y="843.5" width="16" height="6"/><line x1="1203.5" y1="849.5" x2="1219.5" y2="849.5" stroke-linecap="square"/><line x1="1219.5" y1="849.5" x2="1234.5" y2="849.5" stroke-linecap="square"/><line x1="1234.5" y1="849.5" x2="1250.5" y2="849.5" stroke-linecap="square"/><rect x="1250.5" y="838.5" width="16" height="11"/><line x1="1266.5" y1="849.5" x2="1282.5" y2="849.5" stroke-linecap="square"/><line x1="1282.5" y1="849.5" x2="1297.5" y2="849.5" stroke-linecap="square"/><line x1="1297.5" y1="849.5" x2="1313.5" y2="849.5" stroke-linecap="square"/><line x1="1313.5" y1="849.5" x2="1329.5" y2="849.5" stroke-linecap="square"/><line x1="1329.5" y1="849.5" x2="1344.5" y2="849.5" stroke-linecap="square"/><line x1="1344.5" y1="849.5" x2="1360.5" y2="849.5" stroke-linecap="square"/><line x1="1360.5" y1="849.5" x2="1376.5" y2="849.5" stroke-linecap="square"/><line x1="1376.5" y1="849.5" x2="1391.5" y2="849.5" stroke-linecap="square"/><line x1="1391.5" y1="849.5" x2="1407.5" y2="849.5" stroke-linecap="square"/><line x1="1407.5" y1="849.5" x2="1423.5" y2="849.5" stroke-linecap="square"/><line x1="1423.5" y1="849.5" x2="1439.5" y2="849.5" stroke-linecap="square"/><line x1="1439.5" y1="849.5" x2="1454.5" y2="849.5" stroke-linecap="square"/></g>
<g stroke="#8da0cb"><rect x="842.5" y="768.5" width="15" height="81"/><rect x="857.5" y="774.5" width="16" height="75"/><rect x="873.5" y="785.5" width="16" height="64"/><rect x="889.5" y="727.5" width="15" height="122"/><rect x="904.5" y="756.5" width="16" height="93"/><rect x="920.5" y="750.5" width="16" height="99"/><rect x="936.5" y="762.5" width="16" height="87"/><rect x="952.5" y="762.5" width="15" height="87"/><rect x="967.5" y="756.5" width="16" height="93"/><rect x="983.5" y="681.5" width="16" height="168"/><rect x="999.5" y="715.5" width="15" height="134"/><rect x="1014.5" y="733.5" width="16" height="116"/><rect x="1030.5" y="721.5" width="16" height="128"/><rect x="1046.5" y="745.5" width="16" height="104"/><rect x="1062.5" y="750.5" width="15" height="99"/><rect x="1077.5" y="774.5" width="16" height="75"/><rect x="1093.5" y="774.5" width="16" height="75"/><rect x="1109.5" y="791.5" width="15" height="58"/><rect x="1124.5" y="785.5" width="16" height="64"/><rect x="1140.5" y="820.5" width="16" height="29"/><rect x="1156.5" y="808.5" width="16" height="41"/><rect x="1172.5" y="808.5" width="15" height="41"/><rect x="1187.5" y="803.5" width="16" height="46"/><rect x="1203.5" y="808.5" width="16" height="41"/><rect x="1219.5" y="826.5" width="15" height="23"/><rect x="1234.5" y="843.5" width="16" height="6"/><rect x="1250.5" y="832.5" width="16" height="17"/><rect x="1266.5" y="838.5" width="16" height="11"/><rect x="1282.5" y="838.5" width="15" height="11"/><rect x="1297.5" y="820.5" width="16" height="29"/><rect x="1313.5" y="838.5" width="16" height="11"/><line x1="1329.5" y1="849.5" x2="1344.5" y2="849.5" stroke-linecap="square"/><rect x="1344.5" y="838.5" width="16" height="11"/><rect x="1360.5" y="838.5" width="16" height="11"/><line x1="1376.5" y1="849.5" x2="1391.5" y2="849.5" stroke-linecap="square"/><line x1="1391.5" y1="849.5" x2="1407.5" y2="849.5" stroke-linecap="square"/><line x1="1407.5" y1="849.5" x2="1423.5" y2="849.5" stroke-linecap="square"/><line x1="1423.5" y1="849.5" x2="1439.5" y2="849.5" stroke-linecap="square"/><rect x="1439.5" y="843.5" width="15" height="6"/></g>
<g stroke="#fc8d62"><rect x="842.5" y="832.5" width="15" height="17"/><rect x="857.5" y="791.5" width="16" height="58"/><rect x="873.5" y="832.5" width="16" height="17"/><rect x="889.5" y="803.5" width="15" height="46"/><rect x="904.5" y="814.5" width="16" height="35"/><rect x="920.5" y="820.5" width="16" height="29"/><rect x="936.5" y="826.5" width="16" height="23"/><rect x="952.5" y="838.5" width="15" height="11"/><rect x="967.5" y="820.5" width="16" height="29"/><rect x="983.5" y="838.5" width="16" height="11"/><rect x="999.5" y="820.5" width="15" height="29"/><rect x="1014.5" y="838.5" width="16" height="11"/><rect x="1030.5" y="838.5" width="16" height="11"/><rect x="1046.5" y="843.5" width="16" height="6"/><line x1="1062.5" y1="849.5" x2="1077.5" y2="849.5" stroke-linecap="square"/><line x1="1077.5" y1="849.5" x2="1093.5" y2="849.5" stroke-linecap="square"/><rect x="1093.5" y="843.5" width="16" height="6"/><line x1="1109.5" y1="849.5" x2="1124.5" y2="849.5" stroke-linecap="square"/><rect x="1124.5" y="838.5" width="16" height="11"/><line x1="1140.5" y1="849.5" x2="1156.5" y2="849.5" stroke-linecap="square"/><line x1="1156.5" y1="849.5" x2="1172.5" y2="849.5" stroke-linecap="square"/><line x1="1172.5" y1="849.5" x2="1187.5" y2="849.5" stroke-linecap="square"/><line x1="1187.5" y1="849.5" x2="1203.5" y2="849.5" stroke-linecap="square"/><line x1="1203.5" y1="849.5" x2="1219.5" y2="849.5" stroke-linecap="square"/><line x1="1219.5" y1="849.5" x2="1234.5" y2="849.5" stroke-linecap="square"/><line x1="1234.5" y1="849.5" x2="1250.5" y2="849.5" stroke-linecap="square"/><line x1="1250.5" y1="849.5" x2="1266.5" y2="849.5" stroke-linecap="square"/><line x1="1266.5" y1="849.5" x2="1282.5" y2="849.5" stroke-linecap="square"/><line x1="1282.5" y1="849.5" x2="1297.5" y2="849.5" stroke-linecap="square"/><line x1="1297.5" y1="849.5" x2="1313.5" y2="849.5" stroke-linecap="square"/><line x1="1313.5" y1="849.5" x2="1329.5" y2="849.5" stroke-linecap="square"/><line x1="1329.5" y1="849.5" x2="1344.5" y2="849.5" stroke-linecap="square"/><line x1="1344.5" y1="849.5" x2="1360.5" y2="849.5" stroke-linecap="square"/><line x1="1360.5" y1="849.5" x2="1376.5" y2="849.5" stroke-linecap="square"/><line x1="1376.5" y1="849.5" x2="1391.5" y2="849.5" stroke-linecap="square"/><line x1="1391.5" y1="849.5" x2="1407.5" y2="849.5" stroke-linecap="square"/><line x1="1407.5" y1="849.5" x2="1423.5" y2="849.5" stroke-linecap="square"/><line x1="1423.5" y1="849.5" x2="1439.5" y2="849.5" stroke-linecap="square"/><line x1="1439.5" y1="849.5" x2="1454.5" y2="849.5" stroke-linecap="square"/></g>
</g>
<g stroke="#b0b0b0" stroke-width="1">
<line x1="842.5" x2="842.5" y1="37.5" y2="849.5"/>
<line x1="923.5" x2="923.5" y1="37.5" y2="849.5"/>
<line x1="1004.5" x2="1004.5" y1="37.5" y2="849.5"/>
<line x1="1085.5" x2="1085.5" y1="37.5" y2="849.5"/>
<line x1="1166.5" x2="1166.5" y1="37.5" y2="849.5"/>
<line x1="1247.5" x2="1247.5" y1="37.5" y2="849.5"/>
<line x1="1328.5" x2="1328.5" y1="37.5" y2="849.5"/>
<line x1="1409.5" x2="1409.5" y1="37.5" y2="849.5"/>
<line x1="811.5" x2="1485.5" y1="849.5" y2="849.5"/>
<line x1="811.5" x2="1485.5" y1="758.5" y2="758.5"/>
<line x1="811.5" x2="1485.5" y1="667.5" y2="667.5"/>
<line x1="811.5" x2="1485.5" y1="576.5" y2="576.5"/>
<line x1="811.5" x2="1485.5" y1="485.5" y2="485.5"/>
<line x1="811.5" x2="1485.5" y1="394.5" y2="394.5"/>
<line x1="811.5" x2="1485.5" y1="303.5" y2="303.5"/>
<line x1="811.5" x2="1485.5" y1="212.5" y2="212.5"/>
<line x1="811.5" x2="1485.5" y1="121.5" y2="121.5"/>
</g>
<g fill="none" stroke-width="2.08" stroke-linecap="square" stroke-linejoin="round">
<polyline stroke="#e5c494" points="841.6,837.68 842.58,837.29 843.56,836.9 844.53,836.51 845.51,836.12 846.49,835.73 847.47,835.34 848.45,834.95 849.43,834.56 850.41,834.18 851.39,833.8 852.37,833.42 853.35,833.05 854.33,832.69 855.31,832.33 856.29,831.98 857.27,831.64 858.25,831.3 859.23,830.98 860.21,830.66 861.19,830.36 862.16,830.06 863.14,829.78 864.12,829.5 865.1,829.24 866.08,829 867.06,828.76 868.04,828.54 869.02,828.33 870,828.14 870.98,827.95 871.96,827.79 872.94,827.64 873.92,827.5 874.9,827.37 875.88,827.27 876.86,827.17 877.84,827.09 878.82,827.02 879.8,826.97 880.77,826.94 881.75,826.91 882.73,826.9 883.71,826.9 884.69,826.92 885.67,826.95 886.65,826.99 887.63,827.04 888.61,827.1 889.59,827.18 890.57,827.26 891.55,827.35 892.53,827.46 893.51,827.57 894.49,827.69 895.47,827.81 896.45,827.95 897.43,828.09 898.4,828.23 899.38,828.38 900.36,828.54 901.34,828.7 902.32,828.86 903.3,829.02 904.28,829.19 905.26,829.36 906.24,829.53 907.22,829.7 908.2,829.88 909.18,830.05 910.16,830.22 911.14,830.39 912.12,830.56 913.1,830.73 914.08,830.9 915.06,831.07 916.04,831.23 917.01,831.4 917.99,831.56 918.97,831.71 919.95,831.87 920.93,832.03 921.91,832.18 922.89,832.33 923.87,832.47 924.85,832.62 925.83,832.76 926.81,832.91 927.79,833.05 928.77,833.19 929.75,833.32 930.73,833.46 931.71,833.6 932.69,833.74 933.67,833.87 934.64,834.01 935.62,834.15 936.6,834.28 937.58,834.42 938.56,834.56 939.54,834.7 940.52,834.85 941.5,834.99 942.48,835.14 943.46,835.29 944.44,835.44 945.42,835.6 946.4,835.75 947.38,835.91 948.36,836.08 949.34,836.25 950.32,836.42 951.3,836.59 952.28,836.77 953.25,836.95 954.23,837.13 955.21,837.32 956.19,837.51 957.17,837.7 958.15,837.89 959.13,838.09 960.11,838.29 961.09,838.49 962.07,838.69 963.05,838.89 964.03,839.09 965.01,839.3 965.99,839.5 966.97,839.71 967.95,839.91 968.93,840.11 969.91,840.32 970.88,840.52 971.86,840.71 972.84,840.91 973.82,841.1 974.8,841.29 975.78,841.48 976.76,841.66 977.74,841.84 978.72,842.01 979.7,842.18 980.68,842.34 981.66,842.5 982.64,842.65 983.62,842.8 984.6,842.94 985.58,843.08 986.56,843.21 987.54,843.33 988.52,843.45 989.49,843.56 990.47,843.67 991.45,843.77 992.43,843.86 993.41,843.95 994.39,844.03 995.37,844.11 996.35,844.18 997.33,844.24 998.31,844.31 999.29,844.36 1000.27,844.42 1001.25,844.46 1002.23,844.51 1003.21,844.55 1004.19,844.59 1005.17,844.62 1006.15,844.66 1007.12,844.69 1008.1,844.72 1009.08,844.74 1010.06,844.77 1011.04,844.8 1012.02,844.82 1013,844.84 1013.98,844.87 1014.96,844.89 1015.94,844.92 1016.92,844.94 1017.9,844.97 1018.88,845 1019.86,845.03 1020.84,845.06 1021.82,845.09 1022.8,845.13 1023.78,845.16 1024.75,845.2 1025.73,845.24 1026.71,845.29 1027.69,845.33 1028.67,845.38 1029.65,845.43 1030.63,845.48 1031.61,845.54 1032.59,845.6 1033.57,845.66 1034.55,845.72 1035.53,845.78 1036.51,845.85"/>
<polyline stroke="#fc8d62" points="841.6,810.91 843.21,809.39 844.82,807.9 846.43,806.45 848.04,805.03 849.65,803.66 851.26,802.34 852.87,801.08 854.48,799.88 856.1,798.75 857.71,797.69 859.32,796.7 860.93,795.8 862.54,794.97 864.15,794.23 865.76,793.57 867.37,792.99 868.98,792.51 870.6,792.11 872.21,791.8 873.82,791.57 875.43,791.43 877.04,791.37 878.65,791.39 880.26,791.49 881.87,791.67 883.48,791.91 885.09,792.22 886.71,792.59 888.32,793.02 889.93,793.5 891.54,794.03 893.15,794.59 894.76,795.2 896.37,795.84 897.98,796.5 899.59,797.18 901.21,797.88 902.82,798.59 904.43,799.3 906.04,800.02 907.65,800.72 909.26,801.42 910.87,802.11 912.48,802.78 914.09,803.42 915.7,804.05 917.32,804.65 918.93,805.22 920.54,805.76 922.15,806.27 923.76,806.75 925.37,807.2 926.98,807.61 928.59,807.99 930.2,808.34 931.82,808.65 933.43,808.94 935.04,809.2 936.65,809.43 938.26,809.64 939.87,809.82 941.48,809.98 943.09,810.12 944.7,810.25 946.31,810.37 947.93,810.47 949.54,810.57 951.15,810.66 952.76,810.76 954.37,810.85 955.98,810.94 957.59,811.04 959.2,811.15 960.81,811.27 962.43,811.4 964.04,811.55 965.65,811.71 967.26,811.89 968.87,812.09 970.48,812.32 972.09,812.56 973.7,812.83 975.31,813.13 976.92,813.45 978.54,813.79 980.15,814.16 981.76,814.55 983.37,814.97 984.98,815.42 986.59,815.88 988.2,816.37 989.81,816.89 991.42,817.42 993.04,817.97 994.65,818.54 996.26,819.13 997.87,819.73 999.48,820.34 1001.09,820.96 1002.7,821.59 1004.31,822.23 1005.92,822.87 1007.53,823.52 1009.15,824.16 1010.76,824.81 1012.37,825.45 1013.98,826.08 1015.59,826.72 1017.2,827.34 1018.81,827.96 1020.42,828.56 1022.03,829.15 1023.65,829.74 1025.26,830.31 1026.87,830.86 1028.48,831.4 1030.09,831.93 1031.7,832.44 1033.31,832.94 1034.92,833.43 1036.53,833.9 1038.14,834.35 1039.76,834.79 1041.37,835.22 1042.98,835.64 1044.59,836.04 1046.2,836.43 1047.81,836.81 1049.42,837.18 1051.03,837.54 1052.64,837.89 1054.26,838.23 1055.87,838.56 1057.48,838.88 1059.09,839.2 1060.7,839.51 1062.31,839.81 1063.92,840.11 1065.53,840.41 1067.14,840.69 1068.75,840.97 1070.37,841.25 1071.98,841.52 1073.59,841.79 1075.2,842.05 1076.81,842.31 1078.42,842.56 1080.03,842.81 1081.64,843.04 1083.25,843.28 1084.87,843.5 1086.48,843.72 1088.09,843.93 1089.7,844.13 1091.31,844.33 1092.92,844.51 1094.53,844.68 1096.14,844.85 1097.75,845 1099.37,845.14 1100.98,845.27 1102.59,845.39 1104.2,845.5 1105.81,845.59 1107.42,845.67 1109.03,845.74 1110.64,845.8 1112.25,845.85 1113.86,845.88 1115.48,845.9 1117.09,845.92 1118.7,845.92 1120.31,845.92 1121.92,845.9 1123.53,845.88 1125.14,845.85 1126.75,845.82 1128.36,845.78 1129.98,845.74 1131.59,845.7 1133.2,845.65 1134.81,845.61 1136.42,845.57 1138.03,845.53 1139.64,845.49 1141.25,845.46 1142.86,845.43 1144.47,845.4 1146.09,845.39 1147.7,845.38 1149.31,845.38 1150.92,845.39 1152.53,845.4 1154.14,845.43 1155.75,845.46 1157.36,845.5 1158.97,845.55 1160.59,845.61 1162.2,845.68"/>
<polyline stroke="#ffd92f" points="841.6,832.25 844.47,831.39 847.34,830.52 850.22,829.66 853.09,828.8 855.97,827.96 858.84,827.13 861.72,826.32 864.59,825.53 867.46,824.77 870.34,824.03 873.21,823.31 876.09,822.62 878.96,821.97 881.84,821.34 884.71,820.75 887.58,820.19 890.46,819.67 893.33,819.17 896.21,818.71 899.08,818.29 901.96,817.89 904.83,817.52 907.7,817.19 910.58,816.88 913.45,816.59 916.33,816.34 919.2,816.1 922.08,815.89 924.95,815.69 927.82,815.51 930.7,815.35 933.57,815.2 936.45,815.06 939.32,814.93 942.19,814.81 945.07,814.69 947.94,814.58 950.82,814.47 953.69,814.36 956.57,814.24 959.44,814.13 962.31,814.01 965.19,813.89 968.06,813.76 970.94,813.63 973.81,813.49 976.69,813.35 979.56,813.2 982.43,813.04 985.31,812.88 988.18,812.71 991.06,812.54 993.93,812.37 996.81,812.19 999.68,812.02 1002.55,811.84 1005.43,811.67 1008.3,811.5 1011.18,811.34 1014.05,811.18 1016.93,811.04 1019.8,810.91 1022.67,810.79 1025.55,810.69 1028.42,810.6 1031.3,810.54 1034.17,810.5 1037.05,810.49 1039.92,810.5 1042.79,810.54 1045.67,810.61 1048.54,810.71 1051.42,810.84 1054.29,811.01 1057.16,811.2 1060.04,811.44 1062.91,811.7 1065.79,812 1068.66,812.32 1071.54,812.68 1074.41,813.07 1077.28,813.49 1080.16,813.93 1083.03,814.39 1085.91,814.88 1088.78,815.39 1091.66,815.91 1094.53,816.44 1097.4,816.99 1100.28,817.54 1103.15,818.1 1106.03,818.66 1108.9,819.22 1111.78,819.77 1114.65,820.33 1117.52,820.87 1120.4,821.41 1123.27,821.94 1126.15,822.46 1129.02,822.97 1131.9,823.47 1134.77,823.95 1137.64,824.43 1140.52,824.9 1143.39,825.36 1146.27,825.8 1149.14,826.25 1152.01,826.68 1154.89,827.12 1157.76,827.54 1160.64,827.97 1163.51,828.4 1166.39,828.83 1169.26,829.25 1172.13,829.69 1175.01,830.12 1177.88,830.56 1180.76,831 1183.63,831.45 1186.51,831.91 1189.38,832.36 1192.25,832.82 1195.13,833.28 1198,833.75 1200.88,834.21 1203.75,834.68 1206.63,835.14 1209.5,835.6 1212.37,836.05 1215.25,836.5 1218.12,836.94 1221,837.38 1223.87,837.8 1226.75,838.21 1229.62,838.61 1232.49,839 1235.37,839.37 1238.24,839.73 1241.12,840.07 1243.99,840.4 1246.87,840.72 1249.74,841.02 1252.61,841.31 1255.49,841.58 1258.36,841.84 1261.24,842.09 1264.11,842.32 1266.98,842.55 1269.86,842.76 1272.73,842.96 1275.61,843.16 1278.48,843.34 1281.36,843.52 1284.23,843.69 1287.1,843.85 1289.98,844.01 1292.85,844.16 1295.73,844.31 1298.6,844.45 1301.48,844.59 1304.35,844.72 1307.22,844.85 1310.1,844.98 1312.97,845.1 1315.85,845.21 1318.72,845.32 1321.6,845.43 1324.47,845.53 1327.34,845.63 1330.22,845.72 1333.09,845.8 1335.97,845.88 1338.84,845.95 1341.72,846.02 1344.59,846.08 1347.46,846.13 1350.34,846.18 1353.21,846.22 1356.09,846.26 1358.96,846.29 1361.83,846.31 1364.71,846.34 1367.58,846.35 1370.46,846.37 1373.33,846.38 1376.21,846.39 1379.08,846.41 1381.95,846.42 1384.83,846.43 1387.7,846.44 1390.58,846.46 1393.45,846.48 1396.33,846.5 1399.2,846.53 1402.07,846.56 1404.95,846.6 1407.82,846.64 1410.7,846.69 1413.57,846.74"/>
<polyline stroke="#66c2a5" points="841.6,839.83 844.15,839.5 846.71,839.17 849.27,838.85 851.83,838.53 854.39,838.22 856.95,837.91 859.51,837.61 862.06,837.31 864.62,837.02 867.18,836.74 869.74,836.47 872.3,836.19 874.86,835.93 877.41,835.67 879.97,835.42 882.53,835.17 885.09,834.93 887.65,834.7 890.21,834.47 892.77,834.24 895.32,834.01 897.88,833.79 900.44,833.58 903,833.36 905.56,833.15 908.12,832.94 910.67,832.73 913.23,832.52 915.79,832.32 918.35,832.11 920.91,831.91 923.47,831.7 926.03,831.5 928.58,831.31 931.14,831.11 933.7,830.92 936.26,830.73 938.82,830.54 941.38,830.36 943.93,830.18 946.49,830.01 949.05,829.85 951.61,829.69 954.17,829.55 956.73,829.41 959.28,829.28 961.84,829.16 964.4,829.06 966.96,828.97 969.52,828.89 972.08,828.83 974.64,828.78 977.19,828.74 979.75,828.73 982.31,828.73 984.87,828.75 987.43,828.78 989.99,828.83 992.54,828.9 995.1,828.99 997.66,829.1 1000.22,829.22 1002.78,829.36 1005.34,829.51 1007.9,829.69 1010.45,829.87 1013.01,830.08 1015.57,830.29 1018.13,830.52 1020.69,830.76 1023.25,831.01 1025.8,831.27 1028.36,831.54 1030.92,831.82 1033.48,832.1 1036.04,832.39 1038.6,832.69 1041.16,832.98 1043.71,833.28 1046.27,833.58 1048.83,833.88 1051.39,834.18 1053.95,834.48 1056.51,834.77 1059.06,835.06 1061.62,835.35 1064.18,835.63 1066.74,835.9 1069.3,836.17 1071.86,836.43 1074.42,836.69 1076.97,836.93 1079.53,837.17 1082.09,837.41 1084.65,837.63 1087.21,837.85 1089.77,838.06 1092.32,838.26 1094.88,838.45 1097.44,838.64 1100,838.82 1102.56,839 1105.12,839.17 1107.67,839.33 1110.23,839.49 1112.79,839.65 1115.35,839.8 1117.91,839.95 1120.47,840.09 1123.03,840.24 1125.58,840.38 1128.14,840.52 1130.7,840.65 1133.26,840.79 1135.82,840.93 1138.38,841.06 1140.93,841.2 1143.49,841.33 1146.05,841.47 1148.61,841.6 1151.17,841.74 1153.73,841.88 1156.29,842.01 1158.84,842.15 1161.4,842.29 1163.96,842.43 1166.52,842.57 1169.08,842.71 1171.64,842.85 1174.19,842.99 1176.75,843.13 1179.31,843.26 1181.87,843.4 1184.43,843.54 1186.99,843.68 1189.55,843.81 1192.1,843.94 1194.66,844.07 1197.22,844.2 1199.78,844.33 1202.34,844.46 1204.9,844.58 1207.45,844.7 1210.01,844.81 1212.57,844.93 1215.13,845.04 1217.69,845.14 1220.25,845.25 1222.81,845.35 1225.36,845.45 1227.92,845.54 1230.48,845.63 1233.04,845.72 1235.6,845.8 1238.16,845.88 1240.71,845.96 1243.27,846.04 1245.83,846.11 1248.39,846.18 1250.95,846.25 1253.51,846.31 1256.06,846.37 1258.62,846.44 1261.18,846.49 1263.74,846.55 1266.3,846.61 1268.86,846.66 1271.42,846.71 1273.97,846.76 1276.53,846.81 1279.09,846.86 1281.65,846.91 1284.21,846.95 1286.77,847 1289.32,847.05 1291.88,847.09 1294.44,847.14 1297,847.18 1299.56,847.22 1302.12,847.27 1304.68,847.31 1307.23,847.35 1309.79,847.39 1312.35,847.43 1314.91,847.47 1317.47,847.51 1320.03,847.55 1322.58,847.59 1325.14,847.63 1327.7,847.67 1330.26,847.71 1332.82,847.75 1335.38,847.79 1337.94,847.83 1340.49,847.87 1343.05,847.91 1345.61,847.94 1348.17,847.98 1350.73,848.02"/>
<polyline stroke="#ffd92f" points="841.6,798.13 842.97,796.28 844.34,794.48 845.72,792.73 847.09,791.04 848.47,789.42 849.84,787.86 851.22,786.38 852.59,784.98 853.96,783.66 855.34,782.43 856.71,781.28 858.09,780.21 859.46,779.24 860.84,778.36 862.21,777.56 863.58,776.85 864.96,776.23 866.33,775.7 867.71,775.24 869.08,774.87 870.45,774.58 871.83,774.36 873.2,774.22 874.58,774.14 875.95,774.14 877.33,774.2 878.7,774.33 880.07,774.51 881.45,774.75 882.82,775.05 884.2,775.4 885.57,775.8 886.95,776.25 888.32,776.74 889.69,777.28 891.07,777.86 892.44,778.47 893.82,779.13 895.19,779.82 896.56,780.54 897.94,781.3 899.31,782.08 900.69,782.89 902.06,783.72 903.44,784.58 904.81,785.45 906.18,786.34 907.56,787.25 908.93,788.17 910.31,789.11 911.68,790.05 913.06,790.99 914.43,791.95 915.8,792.9 917.18,793.85 918.55,794.81 919.93,795.76 921.3,796.7 922.67,797.64 924.05,798.57 925.42,799.5 926.8,800.42 928.17,801.33 929.55,802.22 930.92,803.11 932.29,804 933.67,804.87 935.04,805.73 936.42,806.58 937.79,807.43 939.16,808.27 940.54,809.1 941.91,809.93 943.29,810.75 944.66,811.57 946.04,812.39 947.41,813.2 948.78,814.02 950.16,814.83 951.53,815.64 952.91,816.45 954.28,817.26 955.66,818.08 957.03,818.89 958.4,819.7 959.78,820.52 961.15,821.33 962.53,822.14 963.9,822.95 965.27,823.75 966.65,824.55 968.02,825.35 969.4,826.14 970.77,826.92 972.15,827.69 973.52,828.45 974.89,829.2 976.27,829.94 977.64,830.65 979.02,831.35 980.39,832.03 981.77,832.69 983.14,833.33 984.51,833.95 985.89,834.54 987.26,835.1 988.64,835.64 990.01,836.15 991.38,836.63 992.76,837.08 994.13,837.5 995.51,837.9 996.88,838.26 998.26,838.59 999.63,838.9 1001,839.18 1002.38,839.43 1003.75,839.65 1005.13,839.85 1006.5,840.02 1007.88,840.17 1009.25,840.3 1010.62,840.41 1012,840.5 1013.37,840.57 1014.75,840.63 1016.12,840.68 1017.49,840.71 1018.87,840.74 1020.24,840.75 1021.62,840.76 1022.99,840.77 1024.37,840.77 1025.74,840.77 1027.11,840.77 1028.49,840.77 1029.86,840.78 1031.24,840.79 1032.61,840.8 1033.99,840.81 1035.36,840.83 1036.73,840.86 1038.11,840.9 1039.48,840.94 1040.86,840.98 1042.23,841.03 1043.6,841.09 1044.98,841.15 1046.35,841.22 1047.73,841.29 1049.1,841.37 1050.48,841.45 1051.85,841.53 1053.22,841.61 1054.6,841.7 1055.97,841.78 1057.35,841.86 1058.72,841.94 1060.1,842.02 1061.47,842.1 1062.84,842.17 1064.22,842.24 1065.59,842.31 1066.97,842.38 1068.34,842.44 1069.71,842.49 1071.09,842.55 1072.46,842.59 1073.84,842.64 1075.21,842.68 1076.59,842.73 1077.96,842.77 1079.33,842.8 1080.71,842.84 1082.08,842.88 1083.46,842.92 1084.83,842.96 1086.2,843 1087.58,843.05 1088.95,843.1 1090.33,843.15 1091.7,843.2 1093.08,843.27 1094.45,843.33 1095.82,843.41 1097.2,843.49 1098.57,843.57 1099.95,843.66 1101.32,843.76 1102.7,843.87 1104.07,843.98 1105.44,844.1 1106.82,844.22 1108.19,844.35 1109.57,844.48 1110.94,844.62 1112.31,844.76 1113.69,844.91 1115.06,845.06"/>
<polyline stroke="#e78ac3" points="841.6,839.39 843.29,838.98 844.98,838.56 846.67,838.15 848.36,837.73 850.05,837.32 851.74,836.91 853.43,836.5 855.12,836.09 856.81,835.69 858.5,835.29 860.19,834.9 861.88,834.51 863.57,834.13 865.26,833.75 866.95,833.38 868.64,833.01 870.33,832.65 872.02,832.3 873.71,831.95 875.4,831.6 877.09,831.26 878.78,830.93 880.47,830.6 882.16,830.27 883.85,829.95 885.54,829.63 887.23,829.31 888.92,829 890.61,828.69 892.3,828.38 893.99,828.07 895.68,827.77 897.37,827.46 899.06,827.15 900.75,826.85 902.44,826.54 904.13,826.24 905.82,825.93 907.51,825.62 909.2,825.32 910.89,825.01 912.58,824.7 914.27,824.39 915.96,824.08 917.65,823.77 919.34,823.45 921.03,823.14 922.72,822.83 924.41,822.52 926.1,822.21 927.79,821.9 929.48,821.59 931.17,821.28 932.86,820.98 934.55,820.67 936.24,820.37 937.93,820.08 939.62,819.79 941.31,819.5 943,819.23 944.69,818.95 946.38,818.69 948.07,818.43 949.76,818.18 951.45,817.94 953.14,817.71 954.83,817.49 956.52,817.28 958.21,817.09 959.9,816.9 961.59,816.73 963.28,816.58 964.97,816.43 966.66,816.31 968.35,816.19 970.04,816.09 971.73,816.01 973.42,815.94 975.11,815.89 976.8,815.85 978.49,815.83 980.18,815.83 981.87,815.84 983.56,815.86 985.25,815.9 986.94,815.96 988.63,816.02 990.32,816.1 992.01,816.2 993.7,816.31 995.39,816.43 997.08,816.56 998.77,816.7 1000.46,816.85 1002.15,817.02 1003.84,817.19 1005.53,817.37 1007.22,817.56 1008.91,817.76 1010.6,817.97 1012.29,818.19 1013.98,818.41 1015.67,818.64 1017.36,818.88 1019.05,819.12 1020.74,819.37 1022.43,819.63 1024.12,819.89 1025.81,820.16 1027.5,820.43 1029.19,820.71 1030.88,821 1032.57,821.29 1034.26,821.58 1035.95,821.89 1037.64,822.19 1039.33,822.5 1041.02,822.81 1042.71,823.13 1044.4,823.45 1046.09,823.77 1047.78,824.1 1049.47,824.42 1051.16,824.75 1052.85,825.08 1054.54,825.41 1056.23,825.73 1057.92,826.06 1059.61,826.38 1061.3,826.71 1062.99,827.03 1064.68,827.34 1066.37,827.66 1068.06,827.97 1069.75,828.27 1071.44,828.58 1073.13,828.87 1074.82,829.17 1076.51,829.46 1078.2,829.75 1079.89,830.03 1081.58,830.31 1083.27,830.59 1084.96,830.87 1086.65,831.14 1088.34,831.41 1090.03,831.68 1091.72,831.95 1093.41,832.22 1095.1,832.5 1096.79,832.77 1098.48,833.05 1100.17,833.32 1101.86,833.6 1103.55,833.89 1105.24,834.18 1106.93,834.47 1108.62,834.77 1110.31,835.07 1112,835.38 1113.69,835.69 1115.38,836 1117.07,836.32 1118.76,836.65 1120.45,836.98 1122.14,837.31 1123.83,837.64 1125.52,837.98 1127.21,838.32 1128.9,838.66 1130.59,839 1132.28,839.35 1133.97,839.69 1135.66,840.03 1137.35,840.36 1139.04,840.7 1140.73,841.03 1142.42,841.35 1144.11,841.68 1145.8,841.99 1147.49,842.3 1149.18,842.6 1150.87,842.9 1152.56,843.18 1154.25,843.46 1155.94,843.73 1157.63,843.99 1159.32,844.24 1161.01,844.49 1162.7,844.72 1164.39,844.94 1166.08,845.16 1167.77,845.36 1169.46,845.56 1171.15,845.75 1172.84,845.93 1174.53,846.1 1176.22,846.27 1177.91,846.42"/>
<polyline stroke="#8da0cb" points="841.6,846.19 844.39,846.12 847.19,846.05 849.98,845.97 852.78,845.9 855.57,845.83 858.37,845.76 861.16,845.7 863.96,845.63 866.75,845.56 869.55,845.5 872.34,845.43 875.14,845.37 877.94,845.31 880.73,845.25 883.53,845.19 886.32,845.13 889.12,845.07 891.91,845.01 894.71,844.95 897.5,844.9 900.3,844.84 903.09,844.79 905.89,844.74 908.68,844.68 911.48,844.63 914.27,844.58 917.07,844.53 919.86,844.48 922.66,844.43 925.46,844.39 928.25,844.34 931.05,844.29 933.84,844.25 936.64,844.21 939.43,844.16 942.23,844.12 945.02,844.08 947.82,844.04 950.61,844.01 953.41,843.97 956.2,843.93 959,843.9 961.79,843.87 964.59,843.84 967.38,843.81 970.18,843.78 972.98,843.75 975.77,843.73 978.57,843.7 981.36,843.68 984.16,843.66 986.95,843.64 989.75,843.63 992.54,843.61 995.34,843.6 998.13,843.59 1000.93,843.58 1003.72,843.57 1006.52,843.56 1009.31,843.56 1012.11,843.55 1014.9,843.55 1017.7,843.55 1020.5,843.55 1023.29,843.56 1026.09,843.56 1028.88,843.57 1031.68,843.58 1034.47,843.59 1037.27,843.6 1040.06,843.62 1042.86,843.64 1045.65,843.66 1048.45,843.68 1051.24,843.7 1054.04,843.73 1056.83,843.75 1059.63,843.78 1062.42,843.82 1065.22,843.85 1068.02,843.89 1070.81,843.93 1073.61,843.97 1076.4,844.01 1079.2,844.06 1081.99,844.11 1084.79,844.17 1087.58,844.22 1090.38,844.28 1093.17,844.34 1095.97,844.4 1098.76,844.47 1101.56,844.54 1104.35,844.61 1107.15,844.69 1109.94,844.76 1112.74,844.84 1115.54,844.93 1118.33,845.01 1121.13,845.1 1123.92,845.18 1126.72,845.27 1129.51,845.37 1132.31,845.46 1135.1,845.56 1137.9,845.65 1140.69,845.75 1143.49,845.85 1146.28,845.95 1149.08,846.05 1151.87,846.15 1154.67,846.25 1157.46,846.35 1160.26,846.45 1163.06,846.55 1165.85,846.65 1168.65,846.75 1171.44,846.85 1174.24,846.94 1177.03,847.04 1179.83,847.13 1182.62,847.22 1185.42,847.31 1188.21,847.4 1191.01,847.49 1193.8,847.57 1196.6,847.66 1199.39,847.74 1202.19,847.81 1204.98,847.89 1207.78,847.96 1210.58,848.03 1213.37,848.09 1216.17,848.16 1218.96,848.22 1221.76,848.28 1224.55,848.33 1227.35,848.39 1230.14,848.44 1232.94,848.48 1235.73,848.53 1238.53,848.57 1241.32,848.61 1244.12,848.64 1246.91,848.68 1249.71,848.71 1252.51,848.74 1255.3,848.77 1258.1,848.79 1260.89,848.81 1263.69,848.83 1266.48,848.85 1269.28,848.86 1272.07,848.88 1274.87,848.89 1277.66,848.9 1280.46,848.91 1283.25,848.91 1286.05,848.92 1288.84,848.92 1291.64,848.92 1294.43,848.93 1297.23,848.92 1300.03,848.92 1302.82,848.92 1305.62,848.92 1308.41,848.91 1311.21,848.91 1314,848.9 1316.8,848.89 1319.59,848.88 1322.39,848.88 1325.18,848.87 1327.98,848.86 1330.77,848.85 1333.57,848.84 1336.36,848.83 1339.16,848.82 1341.95,848.81 1344.75,848.8 1347.55,848.79 1350.34,848.78 1353.14,848.77 1355.93,848.76 1358.73,848.75 1361.52,848.74 1364.32,848.73 1367.11,848.72 1369.91,848.71 1372.7,848.71 1375.5,848.7 1378.29,848.7 1381.09,848.69 1383.88,848.69 1386.68,848.68 1389.47,848.68 1392.27,848.68 1395.07,848.68 1397.86,848.68"/>
<polyline stroke="#e5c494" points="841.6,474.07 843.68,442.02 845.77,411.72 847.85,383.71 849.94,358.47 852.02,336.4 854.1,317.74 856.19,302.65 858.27,291.16 860.36,283.2 862.44,278.6 864.53,277.14 866.61,278.51 868.7,282.4 870.78,288.45 872.87,296.3 874.95,305.63 877.04,316.09 879.12,327.38 881.21,339.24 883.29,351.4 885.38,363.65 887.46,375.81 889.55,387.72 891.63,399.26 893.72,410.34 895.8,420.9 897.88,430.91 899.97,440.37 902.05,449.31 904.14,457.79 906.22,465.87 908.31,473.65 910.39,481.22 912.48,488.68 914.56,496.13 916.65,503.65 918.73,511.31 920.82,519.16 922.9,527.24 924.99,535.53 927.07,544.02 929.16,552.66 931.24,561.4 933.33,570.15 935.41,578.84 937.49,587.38 939.58,595.71 941.66,603.76 943.75,611.5 945.83,618.89 947.92,625.95 950,632.69 952.09,639.15 954.17,645.36 956.26,651.39 958.34,657.28 960.43,663.08 962.51,668.85 964.6,674.6 966.68,680.35 968.77,686.11 970.85,691.87 972.94,697.59 975.02,703.25 977.11,708.82 979.19,714.25 981.27,719.5 983.36,724.53 985.44,729.34 987.53,733.88 989.61,738.17 991.7,742.18 993.78,745.95 995.87,749.48 997.95,752.81 1000.04,755.96 1002.12,758.98 1004.21,761.89 1006.29,764.74 1008.38,767.55 1010.46,770.35 1012.55,773.17 1014.63,776 1016.72,778.86 1018.8,781.73 1020.88,784.61 1022.97,787.46 1025.05,790.26 1027.14,792.99 1029.22,795.61 1031.31,798.1 1033.39,800.43 1035.48,802.6 1037.56,804.61 1039.65,806.45 1041.73,808.14 1043.82,809.71 1045.9,811.19 1047.99,812.6 1050.07,813.98 1052.16,815.37 1054.24,816.79 1056.33,818.25 1058.41,819.79 1060.5,821.38 1062.58,823.05 1064.66,824.76 1066.75,826.51 1068.83,828.26 1070.92,829.98 1073,831.65 1075.09,833.24 1077.17,834.71 1079.26,836.05 1081.34,837.23 1083.43,838.23 1085.51,839.06 1087.6,839.7 1089.68,840.16 1091.77,840.46 1093.85,840.6 1095.94,840.6 1098.02,840.49 1100.11,840.28 1102.19,840 1104.28,839.68 1106.36,839.34 1108.44,839 1110.53,838.68 1112.61,838.39 1114.7,838.16 1116.78,838 1118.87,837.91 1120.95,837.89 1123.04,837.96 1125.12,838.11 1127.21,838.33 1129.29,838.63 1131.38,838.99 1133.46,839.41 1135.55,839.89 1137.63,840.41 1139.72,840.96 1141.8,841.53 1143.89,842.13 1145.97,842.72 1148.05,843.32 1150.14,843.91 1152.22,844.48 1154.31,845.03 1156.39,845.55 1158.48,846.03 1160.56,846.47 1162.65,846.87 1164.73,847.23 1166.82,847.53 1168.9,847.79 1170.99,848 1173.07,848.17 1175.16,848.28 1177.24,848.35 1179.33,848.38 1181.41,848.37 1183.5,848.33 1185.58,848.25 1187.67,848.15 1189.75,848.02 1191.83,847.88 1193.92,847.73 1196,847.58 1198.09,847.43 1200.17,847.29 1202.26,847.17 1204.34,847.08 1206.43,847.01 1208.51,846.97 1210.6,846.96 1212.68,846.98 1214.77,847.02 1216.85,847.09 1218.94,847.17 1221.02,847.26 1223.11,847.35 1225.19,847.44 1227.28,847.51 1229.36,847.57 1231.44,847.6 1233.53,847.6 1235.61,847.58 1237.7,847.54 1239.78,847.47 1241.87,847.39 1243.95,847.3 1246.04,847.21 1248.12,847.12 1250.21,847.05 1252.29,846.99 1254.38,846.96 1256.46,846.96"/>
<polyline stroke="#a6d854" points="841.6,797.52 843.92,792.22 846.24,786.75 848.56,781.13 850.88,775.4 853.2,769.58 855.53,763.7 857.85,757.77 860.17,751.83 862.49,745.88 864.81,739.93 867.13,734 869.46,728.11 871.78,722.25 874.1,716.44 876.42,710.69 878.74,705 881.06,699.39 883.39,693.87 885.71,688.45 888.03,683.14 890.35,677.95 892.67,672.89 894.99,667.99 897.31,663.24 899.64,658.67 901.96,654.29 904.28,650.1 906.6,646.14 908.92,642.4 911.24,638.92 913.57,635.7 915.89,632.77 918.21,630.14 920.53,627.84 922.85,625.89 925.17,624.28 927.5,623.05 929.82,622.19 932.14,621.71 934.46,621.6 936.78,621.84 939.1,622.43 941.43,623.33 943.75,624.52 946.07,625.96 948.39,627.61 950.71,629.43 953.03,631.37 955.35,633.38 957.68,635.43 960,637.48 962.32,639.47 964.64,641.39 966.96,643.2 969.28,644.88 971.61,646.42 973.93,647.81 976.25,649.06 978.57,650.17 980.89,651.16 983.21,652.06 985.54,652.89 987.86,653.69 990.18,654.51 992.5,655.37 994.82,656.32 997.14,657.4 999.47,658.65 1001.79,660.08 1004.11,661.72 1006.43,663.59 1008.75,665.68 1011.07,668 1013.39,670.51 1015.72,673.2 1018.04,676.04 1020.36,678.99 1022.68,681.99 1025,685.02 1027.32,688.02 1029.65,690.94 1031.97,693.76 1034.29,696.44 1036.61,698.95 1038.93,701.27 1041.25,703.4 1043.58,705.34 1045.9,707.1 1048.22,708.69 1050.54,710.13 1052.86,711.46 1055.18,712.72 1057.51,713.93 1059.83,715.14 1062.15,716.38 1064.47,717.71 1066.79,719.14 1069.11,720.72 1071.43,722.48 1073.76,724.43 1076.08,726.6 1078.4,729 1080.72,731.63 1083.04,734.49 1085.36,737.57 1087.69,740.87 1090.01,744.35 1092.33,748 1094.65,751.78 1096.97,755.66 1099.29,759.61 1101.62,763.57 1103.94,767.52 1106.26,771.42 1108.58,775.22 1110.9,778.89 1113.22,782.41 1115.55,785.75 1117.87,788.89 1120.19,791.82 1122.51,794.53 1124.83,797.02 1127.15,799.31 1129.47,801.4 1131.8,803.3 1134.12,805.04 1136.44,806.64 1138.76,808.13 1141.08,809.51 1143.4,810.82 1145.73,812.07 1148.05,813.27 1150.37,814.45 1152.69,815.6 1155.01,816.74 1157.33,817.87 1159.66,818.99 1161.98,820.1 1164.3,821.19 1166.62,822.27 1168.94,823.34 1171.26,824.38 1173.59,825.39 1175.91,826.38 1178.23,827.34 1180.55,828.27 1182.87,829.17 1185.19,830.04 1187.51,830.87 1189.84,831.67 1192.16,832.44 1194.48,833.16 1196.8,833.85 1199.12,834.49 1201.44,835.08 1203.77,835.62 1206.09,836.12 1208.41,836.56 1210.73,836.96 1213.05,837.3 1215.37,837.6 1217.7,837.86 1220.02,838.08 1222.34,838.28 1224.66,838.46 1226.98,838.64 1229.3,838.81 1231.63,839 1233.95,839.22 1236.27,839.46 1238.59,839.73 1240.91,840.04 1243.23,840.4 1245.55,840.79 1247.88,841.22 1250.2,841.67 1252.52,842.16 1254.84,842.66 1257.16,843.16 1259.48,843.66 1261.81,844.15 1264.13,844.62 1266.45,845.06 1268.77,845.46 1271.09,845.83 1273.41,846.14 1275.74,846.42 1278.06,846.65 1280.38,846.83 1282.7,846.98 1285.02,847.09 1287.34,847.17 1289.67,847.22 1291.99,847.26 1294.31,847.29 1296.63,847.31 1298.95,847.33 1301.27,847.35 1303.59,847.39"/>
<polyline stroke="#b3b3b3" points="841.6,646.17 844.15,622.79 846.71,599.64 849.27,577.16 851.83,555.77 854.39,535.82 856.95,517.62 859.51,501.36 862.06,487.16 864.62,475.04 867.18,464.93 869.74,456.66 872.3,450.03 874.86,444.76 877.41,440.57 879.97,437.16 882.53,434.26 885.09,431.61 887.65,429.02 890.21,426.34 892.77,423.46 895.32,420.36 897.88,417.05 900.44,413.59 903,410.08 905.56,406.64 908.12,403.42 910.67,400.56 913.23,398.21 915.79,396.5 918.35,395.52 920.91,395.37 923.47,396.07 926.03,397.65 928.58,400.08 931.14,403.31 933.7,407.27 936.26,411.87 938.82,417.02 941.38,422.62 943.93,428.59 946.49,434.85 949.05,441.37 951.61,448.1 954.17,455.04 956.73,462.2 959.28,469.6 961.84,477.26 964.4,485.23 966.96,493.54 969.52,502.2 972.08,511.23 974.64,520.63 977.19,530.36 979.75,540.38 982.31,550.64 984.87,561.06 987.43,571.55 989.99,582 992.54,592.32 995.1,602.4 997.66,612.16 1000.22,621.53 1002.78,630.44 1005.34,638.86 1007.9,646.78 1010.45,654.23 1013.01,661.22 1015.57,667.82 1018.13,674.09 1020.69,680.08 1023.25,685.86 1025.8,691.5 1028.36,697.03 1030.92,702.5 1033.48,707.93 1036.04,713.32 1038.6,718.68 1041.16,724.01 1043.71,729.28 1046.27,734.49 1048.83,739.61 1051.39,744.62 1053.95,749.5 1056.51,754.25 1059.06,758.84 1061.62,763.26 1064.18,767.5 1066.74,771.56 1069.3,775.43 1071.86,779.1 1074.42,782.59 1076.97,785.89 1079.53,789.02 1082.09,791.98 1084.65,794.79 1087.21,797.47 1089.77,800.01 1092.32,802.45 1094.88,804.78 1097.44,807.01 1100,809.14 1102.56,811.17 1105.12,813.11 1107.67,814.94 1110.23,816.65 1112.79,818.25 1115.35,819.73 1117.91,821.08 1120.47,822.31 1123.03,823.42 1125.58,824.43 1128.14,825.35 1130.7,826.19 1133.26,826.99 1135.82,827.77 1138.38,828.55 1140.93,829.35 1143.49,830.19 1146.05,831.09 1148.61,832.04 1151.17,833.06 1153.73,834.13 1156.29,835.25 1158.84,836.38 1161.4,837.52 1163.96,838.64 1166.52,839.72 1169.08,840.74 1171.64,841.67 1174.19,842.52 1176.75,843.28 1179.31,843.94 1181.87,844.5 1184.43,844.98 1186.99,845.39 1189.55,845.74 1192.1,846.03 1194.66,846.29 1197.22,846.51 1199.78,846.71 1202.34,846.88 1204.9,847.03 1207.45,847.16 1210.01,847.27 1212.57,847.35 1215.13,847.4 1217.69,847.42 1220.25,847.42 1222.81,847.39 1225.36,847.35 1227.92,847.29 1230.48,847.24 1233.04,847.19 1235.6,847.15 1238.16,847.14 1240.71,847.15 1243.27,847.19 1245.83,847.26 1248.39,847.36 1250.95,847.49 1253.51,847.63 1256.06,847.79 1258.62,847.96 1261.18,848.13 1263.74,848.29 1266.3,848.44 1268.86,848.58 1271.42,848.7 1273.97,848.81 1276.53,848.9 1279.09,848.97 1281.65,849.03 1284.21,849.07 1286.77,849.11 1289.32,849.13 1291.88,849.15 1294.44,849.15 1297,849.15 1299.56,849.15 1302.12,849.13 1304.68,849.11 1307.23,849.07 1309.79,849.03 1312.35,848.97 1314.91,848.9 1317.47,848.81 1320.03,848.7 1322.58,848.58 1325.14,848.44 1327.7,848.29 1330.26,848.13 1332.82,847.97 1335.38,847.8 1337.94,847.65 1340.49,847.51 1343.05,847.39 1345.61,847.3 1348.17,847.24 1350.73,847.23"/>
<polyline stroke="#e78ac3" points="841.6,779.24 843.7,775.63 845.81,772.08 847.92,768.61 850.02,765.23 852.13,761.96 854.24,758.83 856.35,755.84 858.45,753 860.56,750.34 862.67,747.85 864.77,745.55 866.88,743.44 868.99,741.53 871.09,739.83 873.2,738.33 875.31,737.03 877.42,735.94 879.52,735.06 881.63,734.37 883.74,733.88 885.84,733.58 887.95,733.47 890.06,733.54 892.16,733.79 894.27,734.2 896.38,734.78 898.49,735.51 900.59,736.38 902.7,737.39 904.81,738.53 906.91,739.79 909.02,741.16 911.13,742.64 913.23,744.21 915.34,745.87 917.45,747.61 919.56,749.41 921.66,751.28 923.77,753.19 925.88,755.15 927.98,757.14 930.09,759.16 932.2,761.19 934.3,763.23 936.41,765.28 938.52,767.31 940.63,769.33 942.73,771.33 944.84,773.31 946.95,775.25 949.05,777.16 951.16,779.04 953.27,780.86 955.37,782.65 957.48,784.39 959.59,786.08 961.7,787.72 963.8,789.32 965.91,790.87 968.02,792.38 970.12,793.83 972.23,795.25 974.34,796.62 976.44,797.95 978.55,799.24 980.66,800.49 982.77,801.71 984.87,802.88 986.98,804.02 989.09,805.12 991.19,806.19 993.3,807.21 995.41,808.21 997.51,809.16 999.62,810.08 1001.73,810.96 1003.84,811.8 1005.94,812.6 1008.05,813.37 1010.16,814.1 1012.26,814.8 1014.37,815.46 1016.48,816.09 1018.58,816.69 1020.69,817.26 1022.8,817.81 1024.91,818.33 1027.01,818.83 1029.12,819.31 1031.23,819.77 1033.33,820.22 1035.44,820.66 1037.55,821.1 1039.65,821.52 1041.76,821.95 1043.87,822.37 1045.98,822.79 1048.08,823.22 1050.19,823.65 1052.3,824.08 1054.4,824.52 1056.51,824.97 1058.62,825.43 1060.72,825.9 1062.83,826.38 1064.94,826.86 1067.05,827.35 1069.15,827.85 1071.26,828.36 1073.37,828.88 1075.47,829.4 1077.58,829.93 1079.69,830.46 1081.79,831 1083.9,831.53 1086.01,832.06 1088.12,832.59 1090.22,833.12 1092.33,833.64 1094.44,834.15 1096.54,834.64 1098.65,835.13 1100.76,835.6 1102.86,836.05 1104.97,836.49 1107.08,836.9 1109.19,837.29 1111.29,837.66 1113.4,838.01 1115.51,838.33 1117.61,838.62 1119.72,838.89 1121.83,839.13 1123.93,839.34 1126.04,839.53 1128.15,839.7 1130.26,839.84 1132.36,839.97 1134.47,840.07 1136.58,840.16 1138.68,840.23 1140.79,840.28 1142.9,840.33 1145,840.37 1147.11,840.4 1149.22,840.43 1151.33,840.47 1153.43,840.5 1155.54,840.54 1157.65,840.58 1159.75,840.64 1161.86,840.71 1163.97,840.78 1166.07,840.88 1168.18,840.98 1170.29,841.11 1172.4,841.24 1174.5,841.4 1176.61,841.57 1178.72,841.75 1180.82,841.95 1182.93,842.15 1185.04,842.37 1187.14,842.6 1189.25,842.84 1191.36,843.08 1193.47,843.32 1195.57,843.57 1197.68,843.81 1199.79,844.05 1201.89,844.29 1204,844.51 1206.11,844.73 1208.22,844.94 1210.32,845.13 1212.43,845.31 1214.54,845.48 1216.64,845.63 1218.75,845.76 1220.86,845.88 1222.96,845.99 1225.07,846.07 1227.18,846.15 1229.29,846.21 1231.39,846.26 1233.5,846.3 1235.61,846.33 1237.71,846.35 1239.82,846.37 1241.93,846.39 1244.03,846.4 1246.14,846.41 1248.25,846.42 1250.36,846.44 1252.46,846.46 1254.57,846.49 1256.68,846.52 1258.78,846.56 1260.89,846.61"/>
<polyline stroke="#8da0cb" points="841.6,807.3 844.68,804.29 847.75,801.27 850.83,798.26 853.91,795.27 856.99,792.32 860.07,789.42 863.15,786.6 866.23,783.87 869.31,781.23 872.39,778.71 875.47,776.3 878.54,774.02 881.62,771.86 884.7,769.85 887.78,767.96 890.86,766.22 893.94,764.6 897.02,763.11 900.1,761.74 903.18,760.49 906.26,759.34 909.34,758.28 912.41,757.3 915.49,756.38 918.57,755.52 921.65,754.7 924.73,753.9 927.81,753.1 930.89,752.3 933.97,751.49 937.05,750.64 940.13,749.75 943.2,748.82 946.28,747.83 949.36,746.79 952.44,745.7 955.52,744.55 958.6,743.36 961.68,742.13 964.76,740.88 967.84,739.61 970.92,738.34 973.99,737.09 977.07,735.87 980.15,734.71 983.23,733.61 986.31,732.6 989.39,731.7 992.47,730.91 995.55,730.25 998.63,729.73 1001.71,729.36 1004.79,729.15 1007.86,729.1 1010.94,729.21 1014.02,729.49 1017.1,729.94 1020.18,730.54 1023.26,731.29 1026.34,732.2 1029.42,733.24 1032.5,734.42 1035.58,735.71 1038.65,737.13 1041.73,738.64 1044.81,740.25 1047.89,741.94 1050.97,743.7 1054.05,745.53 1057.13,747.42 1060.21,749.35 1063.29,751.32 1066.37,753.32 1069.44,755.34 1072.52,757.38 1075.6,759.43 1078.68,761.49 1081.76,763.54 1084.84,765.59 1087.92,767.62 1091,769.64 1094.08,771.64 1097.16,773.62 1100.24,775.56 1103.31,777.48 1106.39,779.36 1109.47,781.2 1112.55,783 1115.63,784.76 1118.71,786.47 1121.79,788.13 1124.87,789.73 1127.95,791.28 1131.03,792.77 1134.1,794.2 1137.18,795.57 1140.26,796.88 1143.34,798.13 1146.42,799.31 1149.5,800.44 1152.58,801.51 1155.66,802.52 1158.74,803.49 1161.82,804.42 1164.89,805.3 1167.97,806.16 1171.05,806.99 1174.13,807.8 1177.21,808.6 1180.29,809.4 1183.37,810.2 1186.45,811.01 1189.53,811.84 1192.61,812.68 1195.68,813.54 1198.76,814.43 1201.84,815.34 1204.92,816.28 1208,817.23 1211.08,818.2 1214.16,819.18 1217.24,820.17 1220.32,821.17 1223.4,822.15 1226.48,823.13 1229.55,824.08 1232.63,825.01 1235.71,825.91 1238.79,826.77 1241.87,827.59 1244.95,828.36 1248.03,829.07 1251.11,829.74 1254.19,830.35 1257.27,830.91 1260.34,831.42 1263.42,831.88 1266.5,832.29 1269.58,832.66 1272.66,833 1275.74,833.3 1278.82,833.58 1281.9,833.84 1284.98,834.08 1288.06,834.31 1291.13,834.54 1294.21,834.78 1297.29,835.01 1300.37,835.26 1303.45,835.51 1306.53,835.78 1309.61,836.07 1312.69,836.37 1315.77,836.68 1318.85,837.01 1321.93,837.36 1325,837.71 1328.08,838.08 1331.16,838.46 1334.24,838.84 1337.32,839.24 1340.4,839.63 1343.48,840.03 1346.56,840.43 1349.64,840.83 1352.72,841.23 1355.79,841.62 1358.87,842.01 1361.95,842.4 1365.03,842.78 1368.11,843.15 1371.19,843.51 1374.27,843.87 1377.35,844.21 1380.43,844.54 1383.51,844.86 1386.58,845.16 1389.66,845.45 1392.74,845.72 1395.82,845.98 1398.9,846.21 1401.98,846.43 1405.06,846.62 1408.14,846.8 1411.22,846.97 1414.3,847.11 1417.38,847.24 1420.45,847.35 1423.53,847.45 1426.61,847.54 1429.69,847.62 1432.77,847.69 1435.85,847.75 1438.93,847.81 1442.01,847.87 1445.09,847.92 1448.17,847.97 1451.24,848.02 1454.32,848.07"/>
<polyline stroke="#fc8d62" points="841.6,832.28 843.07,831.58 844.55,830.89 846.02,830.19 847.5,829.49 848.97,828.8 850.45,828.12 851.92,827.45 853.4,826.78 854.88,826.13 856.35,825.49 857.83,824.87 859.3,824.26 860.78,823.68 862.25,823.11 863.73,822.56 865.2,822.03 866.68,821.52 868.15,821.04 869.63,820.59 871.1,820.15 872.58,819.74 874.06,819.36 875.53,819.01 877.01,818.68 878.48,818.38 879.96,818.1 881.43,817.85 882.91,817.63 884.38,817.43 885.86,817.26 887.33,817.12 888.81,817 890.28,816.91 891.76,816.84 893.24,816.8 894.71,816.78 896.19,816.78 897.66,816.81 899.14,816.86 900.61,816.93 902.09,817.01 903.56,817.12 905.04,817.25 906.51,817.4 907.99,817.56 909.47,817.74 910.94,817.93 912.42,818.14 913.89,818.37 915.37,818.6 916.84,818.85 918.32,819.1 919.79,819.37 921.27,819.65 922.74,819.93 924.22,820.22 925.69,820.51 927.17,820.81 928.65,821.11 930.12,821.42 931.6,821.72 933.07,822.03 934.55,822.34 936.02,822.64 937.5,822.94 938.97,823.24 940.45,823.54 941.92,823.83 943.4,824.12 944.87,824.4 946.35,824.68 947.83,824.95 949.3,825.21 950.78,825.46 952.25,825.71 953.73,825.95 955.2,826.18 956.68,826.41 958.15,826.63 959.63,826.84 961.1,827.04 962.58,827.24 964.06,827.43 965.53,827.61 967.01,827.79 968.48,827.96 969.96,828.12 971.43,828.29 972.91,828.44 974.38,828.6 975.86,828.75 977.33,828.9 978.81,829.05 980.28,829.2 981.76,829.34 983.24,829.49 984.71,829.64 986.19,829.79 987.66,829.95 989.14,830.11 990.61,830.27 992.09,830.43 993.56,830.6 995.04,830.78 996.51,830.96 997.99,831.15 999.46,831.34 1000.94,831.54 1002.42,831.75 1003.89,831.96 1005.37,832.18 1006.84,832.41 1008.32,832.65 1009.79,832.89 1011.27,833.15 1012.74,833.41 1014.22,833.67 1015.69,833.94 1017.17,834.22 1018.65,834.51 1020.12,834.8 1021.6,835.1 1023.07,835.4 1024.55,835.71 1026.02,836.02 1027.5,836.34 1028.97,836.65 1030.45,836.98 1031.92,837.3 1033.4,837.62 1034.87,837.95 1036.35,838.27 1037.83,838.59 1039.3,838.92 1040.78,839.24 1042.25,839.55 1043.73,839.87 1045.2,840.18 1046.68,840.48 1048.15,840.78 1049.63,841.08 1051.1,841.36 1052.58,841.65 1054.06,841.92 1055.53,842.18 1057.01,842.44 1058.48,842.69 1059.96,842.93 1061.43,843.16 1062.91,843.38 1064.38,843.59 1065.86,843.79 1067.33,843.98 1068.81,844.16 1070.28,844.33 1071.76,844.49 1073.24,844.63 1074.71,844.77 1076.19,844.9 1077.66,845.02 1079.14,845.12 1080.61,845.22 1082.09,845.31 1083.56,845.39 1085.04,845.46 1086.51,845.52 1087.99,845.58 1089.46,845.62 1090.94,845.66 1092.42,845.7 1093.89,845.72 1095.37,845.75 1096.84,845.77 1098.32,845.78 1099.79,845.79 1101.27,845.8 1102.74,845.8 1104.22,845.8 1105.69,845.81 1107.17,845.81 1108.65,845.81 1110.12,845.81 1111.6,845.81 1113.07,845.81 1114.55,845.82 1116.02,845.82 1117.5,845.83 1118.97,845.85 1120.45,845.86 1121.92,845.88 1123.4,845.9 1124.87,845.93 1126.35,845.95 1127.83,845.99 1129.3,846.03 1130.78,846.07 1132.25,846.11 1133.73,846.16 1135.2,846.22"/>
</g>
</g>
<rect x="811.5" y="37.5" width="674.0" height="812.0" fill="none" stroke="#000" stroke-width="1.11"/>
<g stroke="#000" stroke-width="1.11">
<line x1="842.5" x2="842.5" y1="849.5" y2="854.36"/>
<line x1="923.5" x2="923.5" y1="849.5" y2="854.36"/>
<line x1="1004.5" x2="1004.5" y1="849.5" y2="854.36"/>
<line x1="1085.5" x2="1085.5" y1="849.5" y2="854.36"/>
<line x1="1166.5" x2="1166.5" y1="849.5" y2="854.36"/>
<line x1="1247.5" x2="1247.5" y1="849.5" y2="854.36"/>
<line x1="1328.5" x2="1328.5" y1="849.5" y2="854.36"/>
<line x1="1409.5" x2="1409.5" y1="849.5" y2="854.36"/>
<line x1="806.64" x2="811.5" y1="849.5" y2="849.5"/>
<line x1="806.64" x2="811.5" y1="758.5" y2="758.5"/>
<line x1="806.64" x2="811.5" y1="667.5" y2="667.5"/>
<line x1="806.64" x2="811.5" y1="576.5" y2="576.5"/>
<line x1="806.64" x2="811.5" y1="485.5" y2="485.5"/>
<line x1="806.64" x2="811.5" y1="394.5" y2="394.5"/>
<line x1="806.64" x2="811.5" y1="303.5" y2="303.5"/>
<line x1="806.64" x2="811.5" y1="212.5" y2="212.5"/>
<line x1="806.64" x2="811.5" y1="121.5" y2="121.5"/>
</g>
<g font-family="'DejaVu Sans','Liberation Sans',sans-serif" font-size="13.89" fill="#000">
<text transform="translate(842.8,869.8) scale(0.96,1)" text-anchor="middle">0.00</text>
<text transform="translate(923.8,869.8) scale(0.96,1)" text-anchor="middle">0.05</text>
<text transform="translate(1004.8,869.8) scale(0.96,1)" text-anchor="middle">0.10</text>
<text transform="translate(1085.8,869.8) scale(0.96,1)" text-anchor="middle">0.15</text>
<text transform="translate(1166.8,869.8) scale(0.96,1)" text-anchor="middle">0.20</text>
<text transform="translate(1247.8,869.8) scale(0.96,1)" text-anchor="middle">0.25</text>
<text transform="translate(1328.8,869.8) scale(0.96,1)" text-anchor="middle">0.30</text>
<text transform="translate(1409.8,869.8) scale(0.96,1)" text-anchor="middle">0.35</text>
<text transform="translate(800.6,855.4) scale(0.96,1)" text-anchor="end">0.0</text>
<text transform="translate(800.6,764.4) scale(0.96,1)" text-anchor="end">0.5</text>
<text transform="translate(800.6,673.4) scale(0.96,1)" text-anchor="end">1.0</text>
<text transform="translate(800.6,582.4) scale(0.96,1)" text-anchor="end">1.5</text>
<text transform="translate(800.6,491.4) scale(0.96,1)" text-anchor="end">2.0</text>
<text transform="translate(800.6,400.4) scale(0.96,1)" text-anchor="end">2.5</text>
<text transform="translate(800.6,309.4) scale(0.96,1)" text-anchor="end">3.0</text>
<text transform="translate(800.6,218.4) scale(0.96,1)" text-anchor="end">3.5</text>
<text transform="translate(800.6,127.4) scale(0.96,1)" text-anchor="end">4.0</text>
<text x="1148.2" y="889.5" text-anchor="middle">Alpha</text>
<text transform="translate(771,446.1) rotate(-90)" text-anchor="middle">Density</text>
</g>
<text transform="translate(1148.5,29.2) scale(1,1.07)" text-anchor="middle" font-family="'DejaVu Sans','Liberation Sans',sans-serif" font-size="16.67" fill="#000">Positive Alpha Values by Model Country</text>
<rect x="1368.4" y="44.3" width="110.0" height="319" rx="2.8" fill="#fff" fill-opacity="0.8" stroke="#ccc" stroke-opacity="0.8" stroke-width="1.11"/>
<g font-family="'DejaVu Sans','Liberation Sans',sans-serif" font-size="13.8" fill="#000">
<text x="1373.9" y="60.9">modelCountry</text>
<rect x="1393.5" y="72.5" width="27" height="10" fill="none" stroke="#fc8d62" stroke-opacity="0.5" stroke-width="2.78"/>
<text x="1432" y="81.8">MY</text>
<rect x="1393.5" y="93.42" width="27" height="10" fill="none" stroke="#8da0cb" stroke-opacity="0.5" stroke-width="2.78"/>
<text x="1432" y="102.72">XH</text>
<rect x="1393.5" y="114.34" width="27" height="10" fill="none" stroke="#e78ac3" stroke-opacity="0.5" stroke-width="2.78"/>
<text x="1432" y="123.64">IN</text>
<rect x="1393.5" y="135.26" width="27" height="10" fill="none" stroke="#b3b3b3" stroke-opacity="0.5" stroke-width="2.78"/>
<text x="1432" y="144.56">JP</text>
<rect x="1393.5" y="156.18" width="27" height="10" fill="none" stroke="#a6d854" stroke-opacity="0.5" stroke-width="2.78"/>
<text x="1432" y="165.48">TW</text>
<rect x="1393.5" y="177.1" width="27" height="10" fill="none" stroke="#e5c494" stroke-opacity="0.5" stroke-width="2.78"/>
<text x="1432" y="186.4">CN</text>
<rect x="1393.5" y="198.02" width="27" height="10" fill="none" stroke="#8da0cb" stroke-opacity="0.5" stroke-width="2.78"/>
<text x="1432" y="207.32">PH</text>
<rect x="1393.5" y="218.94" width="27" height="10" fill="none" stroke="#e78ac3" stroke-opacity="0.5" stroke-width="2.78"/>
<text x="1432" y="228.24">ID</text>
<rect x="1393.5" y="239.86" width="27" height="10" fill="none" stroke="#ffd92f" stroke-opacity="0.5" stroke-width="2.78"/>
<text x="1432" y="249.16">KR</text>
<rect x="1393.5" y="260.78" width="27" height="10" fill="none" stroke="#66c2a5" stroke-opacity="0.5" stroke-width="2.78"/>
<text x="1432" y="270.08">TH</text>
<rect x="1393.5" y="281.7" width="27" height="10" fill="none" stroke="#ffd92f" stroke-opacity="0.5" stroke-width="2.78"/>
<text x="1432" y="291">HK</text>
<rect x="1393.5" y="302.62" width="27" height="10" fill="none" stroke="#fc8d62" stroke-opacity="0.5" stroke-width="2.78"/>
<text x="1432" y="311.92">AU</text>
<rect x="1393.5" y="323.54" width="27" height="10" fill="none" stroke="#e5c494" stroke-opacity="0.5" stroke-width="2.78"/>
<text x="1432" y="332.84">SG</text>
<rect x="1393.5" y="344.46" width="27" height="10" fill="none" stroke="#a6d854" stroke-opacity="0.5" stroke-width="2.78"/>
<text x="1432" y="353.76">NZ</text>
</g>
<clipPath id="clipBL"><rect x="71.5" y="930.5" width="674.0" height="812.0"/></clipPath>
<g clip-path="url(#clipBL)">
<g stroke="#000" stroke-width="0.85" stroke-linejoin="miter">
<g fill="#fdbba1"><rect x="101.5" y="1742.5" width="12" height="0"/><rect x="113.5" y="1742.5" width="12" height="0"/><rect x="125.5" y="1742.5" width="11" height="0"/><rect x="136.5" y="1742.5" width="12" height="0"/><rect x="148.5" y="1742.5" width="12" height="0"/><rect x="160.5" y="1742.5" width="12" height="0"/><rect x="172.5" y="1742.5" width="12" height="0"/><rect x="184.5" y="1742.5" width="11" height="0"/><rect x="195.5" y="1742.5" width="12" height="0"/><rect x="207.5" y="1742.5" width="12" height="0"/><rect x="219.5" y="1742.5" width="12" height="0"/><rect x="231.5" y="1742.5" width="11" height="0"/><rect x="242.5" y="1742.5" width="12" height="0"/><rect x="254.5" y="1742.5" width="12" height="0"/><rect x="266.5" y="1742.5" width="12" height="0"/><rect x="278.5" y="1742.5" width="12" height="0"/><rect x="290.5" y="1742.5" width="11" height="0"/><rect x="301.5" y="1742.5" width="12" height="0"/><rect x="313.5" y="1742.5" width="12" height="0"/><rect x="325.5" y="1742.5" width="12" height="0"/><rect x="337.5" y="1742.5" width="12" height="0"/><rect x="349.5" y="1742.5" width="11" height="0"/><rect x="360.5" y="1742.5" width="12" height="0"/><rect x="372.5" y="1742.5" width="12" height="0"/><rect x="384.5" y="1742.5" width="12" height="0"/><rect x="396.5" y="1742.5" width="11" height="0"/><rect x="407.5" y="1742.5" width="12" height="0"/><rect x="419.5" y="1742.5" width="12" height="0"/><rect x="431.5" y="1742.5" width="12" height="0"/><rect x="443.5" y="1742.5" width="12" height="0"/><rect x="455.5" y="1742.5" width="11" height="0"/><rect x="466.5" y="1742.5" width="12" height="0"/><rect x="478.5" y="1742.5" width="12" height="0"/><rect x="490.5" y="1740.5" width="12" height="2"/><rect x="502.5" y="1742.5" width="12" height="0"/><rect x="514.5" y="1742.5" width="11" height="0"/><rect x="525.5" y="1738.5" width="12" height="4"/><rect x="537.5" y="1742.5" width="12" height="0"/><rect x="549.5" y="1742.5" width="12" height="0"/><rect x="561.5" y="1742.5" width="11" height="0"/><rect x="572.5" y="1740.5" width="12" height="2"/><rect x="584.5" y="1738.5" width="12" height="4"/><rect x="596.5" y="1742.5" width="12" height="0"/><rect x="608.5" y="1736.5" width="12" height="6"/><rect x="620.5" y="1740.5" width="11" height="2"/><rect x="631.5" y="1738.5" width="12" height="4"/><rect x="643.5" y="1736.5" width="12" height="6"/><rect x="655.5" y="1738.5" width="12" height="4"/><rect x="667.5" y="1738.5" width="11" height="4"/><rect x="678.5" y="1734.5" width="12" height="8"/><rect x="690.5" y="1726.5" width="12" height="16"/><rect x="702.5" y="1736.5" width="12" height="6"/></g>
<g fill="#ffe882"><rect x="101.5" y="1742.5" width="12" height="0"/><rect x="113.5" y="1742.5" width="12" height="0"/><rect x="125.5" y="1742.5" width="11" height="0"/><rect x="136.5" y="1742.5" width="12" height="0"/><rect x="148.5" y="1742.5" width="12" height="0"/><rect x="160.5" y="1742.5" width="12" height="0"/><rect x="172.5" y="1742.5" width="12" height="0"/><rect x="184.5" y="1742.5" width="11" height="0"/><rect x="195.5" y="1742.5" width="12" height="0"/><rect x="207.5" y="1742.5" width="12" height="0"/><rect x="219.5" y="1742.5" width="12" height="0"/><rect x="231.5" y="1742.5" width="11" height="0"/><rect x="242.5" y="1742.5" width="12" height="0"/><rect x="254.5" y="1742.5" width="12" height="0"/><rect x="266.5" y="1742.5" width="12" height="0"/><rect x="278.5" y="1742.5" width="12" height="0"/><rect x="290.5" y="1742.5" width="11" height="0"/><rect x="301.5" y="1742.5" width="12" height="0"/><rect x="313.5" y="1742.5" width="12" height="0"/><rect x="325.5" y="1742.5" width="12" height="0"/><rect x="337.5" y="1740.5" width="12" height="2"/><rect x="349.5" y="1742.5" width="11" height="0"/><rect x="360.5" y="1742.5" width="12" height="0"/><rect x="372.5" y="1742.5" width="12" height="0"/><rect x="384.5" y="1742.5" width="12" height="0"/><rect x="396.5" y="1742.5" width="11" height="0"/><rect x="407.5" y="1742.5" width="12" height="0"/><rect x="419.5" y="1742.5" width="12" height="0"/><rect x="431.5" y="1742.5" width="12" height="0"/><rect x="443.5" y="1742.5" width="12" height="0"/><rect x="455.5" y="1742.5" width="11" height="0"/><rect x="466.5" y="1742.5" width="12" height="0"/><rect x="478.5" y="1740.5" width="12" height="2"/><rect x="490.5" y="1740.5" width="12" height="0"/><rect x="502.5" y="1738.5" width="12" height="4"/><rect x="514.5" y="1742.5" width="11" height="0"/><rect x="525.5" y="1738.5" width="12" height="0"/><rect x="537.5" y="1742.5" width="12" height="0"/><rect x="549.5" y="1742.5" width="12" height="0"/><rect x="561.5" y="1742.5" width="11" height="0"/><rect x="572.5" y="1738.5" width="12" height="2"/><rect x="584.5" y="1736.5" width="12" height="2"/><rect x="596.5" y="1740.5" width="12" height="2"/><rect x="608.5" y="1736.5" width="12" height="0"/><rect x="620.5" y="1738.5" width="11" height="2"/><rect x="631.5" y="1736.5" width="12" height="2"/><rect x="643.5" y="1732.5" width="12" height="4"/><rect x="655.5" y="1734.5" width="12" height="4"/><rect x="667.5" y="1724.5" width="11" height="14"/><rect x="678.5" y="1728.5" width="12" height="6"/><rect x="690.5" y="1724.5" width="12" height="2"/><rect x="702.5" y="1730.5" width="12" height="6"/></g>
<g fill="#bbc6e0"><rect x="101.5" y="1742.5" width="12" height="0"/><rect x="113.5" y="1742.5" width="12" height="0"/><rect x="125.5" y="1742.5" width="11" height="0"/><rect x="136.5" y="1742.5" width="12" height="0"/><rect x="148.5" y="1742.5" width="12" height="0"/><rect x="160.5" y="1742.5" width="12" height="0"/><rect x="172.5" y="1742.5" width="12" height="0"/><rect x="184.5" y="1742.5" width="11" height="0"/><rect x="195.5" y="1742.5" width="12" height="0"/><rect x="207.5" y="1742.5" width="12" height="0"/><rect x="219.5" y="1742.5" width="12" height="0"/><rect x="231.5" y="1742.5" width="11" height="0"/><rect x="242.5" y="1742.5" width="12" height="0"/><rect x="254.5" y="1742.5" width="12" height="0"/><rect x="266.5" y="1742.5" width="12" height="0"/><rect x="278.5" y="1742.5" width="12" height="0"/><rect x="290.5" y="1742.5" width="11" height="0"/><rect x="301.5" y="1742.5" width="12" height="0"/><rect x="313.5" y="1742.5" width="12" height="0"/><rect x="325.5" y="1742.5" width="12" height="0"/><rect x="337.5" y="1740.5" width="12" height="0"/><rect x="349.5" y="1742.5" width="11" height="0"/><rect x="360.5" y="1742.5" width="12" height="0"/><rect x="372.5" y="1742.5" width="12" height="0"/><rect x="384.5" y="1742.5" width="12" height="0"/><rect x="396.5" y="1742.5" width="11" height="0"/><rect x="407.5" y="1742.5" width="12" height="0"/><rect x="419.5" y="1742.5" width="12" height="0"/><rect x="431.5" y="1742.5" width="12" height="0"/><rect x="443.5" y="1740.5" width="12" height="2"/><rect x="455.5" y="1742.5" width="11" height="0"/><rect x="466.5" y="1742.5" width="12" height="0"/><rect x="478.5" y="1738.5" width="12" height="2"/><rect x="490.5" y="1738.5" width="12" height="2"/><rect x="502.5" y="1734.5" width="12" height="4"/><rect x="514.5" y="1742.5" width="11" height="0"/><rect x="525.5" y="1736.5" width="12" height="2"/><rect x="537.5" y="1742.5" width="12" height="0"/><rect x="549.5" y="1740.5" width="12" height="2"/><rect x="561.5" y="1738.5" width="11" height="4"/><rect x="572.5" y="1738.5" width="12" height="0"/><rect x="584.5" y="1734.5" width="12" height="2"/><rect x="596.5" y="1736.5" width="12" height="4"/><rect x="608.5" y="1728.5" width="12" height="8"/><rect x="620.5" y="1734.5" width="11" height="4"/><rect x="631.5" y="1732.5" width="12" height="4"/><rect x="643.5" y="1728.5" width="12" height="4"/><rect x="655.5" y="1713.5" width="12" height="21"/><rect x="667.5" y="1701.5" width="11" height="23"/><rect x="678.5" y="1717.5" width="12" height="11"/><rect x="690.5" y="1713.5" width="12" height="11"/><rect x="702.5" y="1711.5" width="12" height="19"/></g>
<g fill="#fdbba1"><rect x="101.5" y="1742.5" width="12" height="0"/><rect x="113.5" y="1742.5" width="12" height="0"/><rect x="125.5" y="1742.5" width="11" height="0"/><rect x="136.5" y="1742.5" width="12" height="0"/><rect x="148.5" y="1742.5" width="12" height="0"/><rect x="160.5" y="1742.5" width="12" height="0"/><rect x="172.5" y="1742.5" width="12" height="0"/><rect x="184.5" y="1742.5" width="11" height="0"/><rect x="195.5" y="1742.5" width="12" height="0"/><rect x="207.5" y="1742.5" width="12" height="0"/><rect x="219.5" y="1742.5" width="12" height="0"/><rect x="231.5" y="1742.5" width="11" height="0"/><rect x="242.5" y="1742.5" width="12" height="0"/><rect x="254.5" y="1742.5" width="12" height="0"/><rect x="266.5" y="1742.5" width="12" height="0"/><rect x="278.5" y="1742.5" width="12" height="0"/><rect x="290.5" y="1742.5" width="11" height="0"/><rect x="301.5" y="1742.5" width="12" height="0"/><rect x="313.5" y="1742.5" width="12" height="0"/><rect x="325.5" y="1742.5" width="12" height="0"/><rect x="337.5" y="1738.5" width="12" height="2"/><rect x="349.5" y="1740.5" width="11" height="2"/><rect x="360.5" y="1742.5" width="12" height="0"/><rect x="372.5" y="1742.5" width="12" height="0"/><rect x="384.5" y="1742.5" width="12" height="0"/><rect x="396.5" y="1742.5" width="11" height="0"/><rect x="407.5" y="1742.5" width="12" height="0"/><rect x="419.5" y="1740.5" width="12" height="2"/><rect x="431.5" y="1740.5" width="12" height="2"/><rect x="443.5" y="1740.5" width="12" height="0"/><rect x="455.5" y="1740.5" width="11" height="2"/><rect x="466.5" y="1738.5" width="12" height="4"/><rect x="478.5" y="1736.5" width="12" height="2"/><rect x="490.5" y="1734.5" width="12" height="4"/><rect x="502.5" y="1732.5" width="12" height="2"/><rect x="514.5" y="1742.5" width="11" height="0"/><rect x="525.5" y="1734.5" width="12" height="2"/><rect x="537.5" y="1730.5" width="12" height="12"/><rect x="549.5" y="1736.5" width="12" height="4"/><rect x="561.5" y="1734.5" width="11" height="4"/><rect x="572.5" y="1728.5" width="12" height="10"/><rect x="584.5" y="1724.5" width="12" height="10"/><rect x="596.5" y="1724.5" width="12" height="12"/><rect x="608.5" y="1715.5" width="12" height="13"/><rect x="620.5" y="1719.5" width="11" height="15"/><rect x="631.5" y="1715.5" width="12" height="17"/><rect x="643.5" y="1701.5" width="12" height="27"/><rect x="655.5" y="1695.5" width="12" height="18"/><rect x="667.5" y="1660.5" width="11" height="41"/><rect x="678.5" y="1697.5" width="12" height="20"/><rect x="690.5" y="1686.5" width="12" height="27"/><rect x="702.5" y="1682.5" width="12" height="29"/></g>
<g fill="#a3dac9"><rect x="101.5" y="1742.5" width="12" height="0"/><rect x="113.5" y="1742.5" width="12" height="0"/><rect x="125.5" y="1742.5" width="11" height="0"/><rect x="136.5" y="1742.5" width="12" height="0"/><rect x="148.5" y="1742.5" width="12" height="0"/><rect x="160.5" y="1742.5" width="12" height="0"/><rect x="172.5" y="1742.5" width="12" height="0"/><rect x="184.5" y="1742.5" width="11" height="0"/><rect x="195.5" y="1742.5" width="12" height="0"/><rect x="207.5" y="1742.5" width="12" height="0"/><rect x="219.5" y="1742.5" width="12" height="0"/><rect x="231.5" y="1742.5" width="11" height="0"/><rect x="242.5" y="1742.5" width="12" height="0"/><rect x="254.5" y="1742.5" width="12" height="0"/><rect x="266.5" y="1742.5" width="12" height="0"/><rect x="278.5" y="1742.5" width="12" height="0"/><rect x="290.5" y="1742.5" width="11" height="0"/><rect x="301.5" y="1742.5" width="12" height="0"/><rect x="313.5" y="1742.5" width="12" height="0"/><rect x="325.5" y="1742.5" width="12" height="0"/><rect x="337.5" y="1738.5" width="12" height="0"/><rect x="349.5" y="1740.5" width="11" height="0"/><rect x="360.5" y="1742.5" width="12" height="0"/><rect x="372.5" y="1742.5" width="12" height="0"/><rect x="384.5" y="1742.5" width="12" height="0"/><rect x="396.5" y="1742.5" width="11" height="0"/><rect x="407.5" y="1742.5" width="12" height="0"/><rect x="419.5" y="1740.5" width="12" height="0"/><rect x="431.5" y="1740.5" width="12" height="0"/><rect x="443.5" y="1740.5" width="12" height="0"/><rect x="455.5" y="1740.5" width="11" height="0"/><rect x="466.5" y="1736.5" width="12" height="2"/><rect x="478.5" y="1736.5" width="12" height="0"/><rect x="490.5" y="1734.5" width="12" height="0"/><rect x="502.5" y="1730.5" width="12" height="2"/><rect x="514.5" y="1740.5" width="11" height="2"/><rect x="525.5" y="1732.5" width="12" height="2"/><rect x="537.5" y="1728.5" width="12" height="2"/><rect x="549.5" y="1736.5" width="12" height="0"/><rect x="561.5" y="1730.5" width="11" height="4"/><rect x="572.5" y="1726.5" width="12" height="2"/><rect x="584.5" y="1722.5" width="12" height="2"/><rect x="596.5" y="1724.5" width="12" height="0"/><rect x="608.5" y="1713.5" width="12" height="2"/><rect x="620.5" y="1717.5" width="11" height="2"/><rect x="631.5" y="1711.5" width="12" height="4"/><rect x="643.5" y="1697.5" width="12" height="4"/><rect x="655.5" y="1691.5" width="12" height="4"/><rect x="667.5" y="1651.5" width="11" height="9"/><rect x="678.5" y="1688.5" width="12" height="9"/><rect x="690.5" y="1678.5" width="12" height="8"/><rect x="702.5" y="1670.5" width="12" height="12"/></g>
<g fill="#efdcbf"><rect x="101.5" y="1742.5" width="12" height="0"/><rect x="113.5" y="1742.5" width="12" height="0"/><rect x="125.5" y="1742.5" width="11" height="0"/><rect x="136.5" y="1742.5" width="12" height="0"/><rect x="148.5" y="1742.5" width="12" height="0"/><rect x="160.5" y="1742.5" width="12" height="0"/><rect x="172.5" y="1742.5" width="12" height="0"/><rect x="184.5" y="1742.5" width="11" height="0"/><rect x="195.5" y="1742.5" width="12" height="0"/><rect x="207.5" y="1742.5" width="12" height="0"/><rect x="219.5" y="1742.5" width="12" height="0"/><rect x="231.5" y="1742.5" width="11" height="0"/><rect x="242.5" y="1742.5" width="12" height="0"/><rect x="254.5" y="1742.5" width="12" height="0"/><rect x="266.5" y="1742.5" width="12" height="0"/><rect x="278.5" y="1742.5" width="12" height="0"/><rect x="290.5" y="1742.5" width="11" height="0"/><rect x="301.5" y="1742.5" width="12" height="0"/><rect x="313.5" y="1742.5" width="12" height="0"/><rect x="325.5" y="1742.5" width="12" height="0"/><rect x="337.5" y="1738.5" width="12" height="0"/><rect x="349.5" y="1740.5" width="11" height="0"/><rect x="360.5" y="1742.5" width="12" height="0"/><rect x="372.5" y="1742.5" width="12" height="0"/><rect x="384.5" y="1742.5" width="12" height="0"/><rect x="396.5" y="1742.5" width="11" height="0"/><rect x="407.5" y="1742.5" width="12" height="0"/><rect x="419.5" y="1740.5" width="12" height="0"/><rect x="431.5" y="1740.5" width="12" height="0"/><rect x="443.5" y="1740.5" width="12" height="0"/><rect x="455.5" y="1740.5" width="11" height="0"/><rect x="466.5" y="1736.5" width="12" height="0"/><rect x="478.5" y="1736.5" width="12" height="0"/><rect x="490.5" y="1734.5" width="12" height="0"/><rect x="502.5" y="1730.5" width="12" height="0"/><rect x="514.5" y="1740.5" width="11" height="0"/><rect x="525.5" y="1732.5" width="12" height="0"/><rect x="537.5" y="1726.5" width="12" height="2"/><rect x="549.5" y="1736.5" width="12" height="0"/><rect x="561.5" y="1730.5" width="11" height="0"/><rect x="572.5" y="1726.5" width="12" height="0"/><rect x="584.5" y="1722.5" width="12" height="0"/><rect x="596.5" y="1724.5" width="12" height="0"/><rect x="608.5" y="1713.5" width="12" height="0"/><rect x="620.5" y="1717.5" width="11" height="0"/><rect x="631.5" y="1709.5" width="12" height="2"/><rect x="643.5" y="1697.5" width="12" height="0"/><rect x="655.5" y="1691.5" width="12" height="0"/><rect x="667.5" y="1647.5" width="11" height="4"/><rect x="678.5" y="1678.5" width="12" height="10"/><rect x="690.5" y="1674.5" width="12" height="4"/><rect x="702.5" y="1664.5" width="12" height="6"/></g>
<g fill="#cae898"><rect x="101.5" y="1742.5" width="12" height="0"/><rect x="113.5" y="1742.5" width="12" height="0"/><rect x="125.5" y="1742.5" width="11" height="0"/><rect x="136.5" y="1742.5" width="12" height="0"/><rect x="148.5" y="1742.5" width="12" height="0"/><rect x="160.5" y="1742.5" width="12" height="0"/><rect x="172.5" y="1742.5" width="12" height="0"/><rect x="184.5" y="1742.5" width="11" height="0"/><rect x="195.5" y="1742.5" width="12" height="0"/><rect x="207.5" y="1742.5" width="12" height="0"/><rect x="219.5" y="1742.5" width="12" height="0"/><rect x="231.5" y="1742.5" width="11" height="0"/><rect x="242.5" y="1742.5" width="12" height="0"/><rect x="254.5" y="1742.5" width="12" height="0"/><rect x="266.5" y="1742.5" width="12" height="0"/><rect x="278.5" y="1742.5" width="12" height="0"/><rect x="290.5" y="1742.5" width="11" height="0"/><rect x="301.5" y="1742.5" width="12" height="0"/><rect x="313.5" y="1742.5" width="12" height="0"/><rect x="325.5" y="1742.5" width="12" height="0"/><rect x="337.5" y="1738.5" width="12" height="0"/><rect x="349.5" y="1740.5" width="11" height="0"/><rect x="360.5" y="1742.5" width="12" height="0"/><rect x="372.5" y="1742.5" width="12" height="0"/><rect x="384.5" y="1742.5" width="12" height="0"/><rect x="396.5" y="1742.5" width="11" height="0"/><rect x="407.5" y="1742.5" width="12" height="0"/><rect x="419.5" y="1740.5" width="12" height="0"/><rect x="431.5" y="1740.5" width="12" height="0"/><rect x="443.5" y="1740.5" width="12" height="0"/><rect x="455.5" y="1740.5" width="11" height="0"/><rect x="466.5" y="1736.5" width="12" height="0"/><rect x="478.5" y="1736.5" width="12" height="0"/><rect x="490.5" y="1734.5" width="12" height="0"/><rect x="502.5" y="1730.5" width="12" height="0"/><rect x="514.5" y="1740.5" width="11" height="0"/><rect x="525.5" y="1732.5" width="12" height="0"/><rect x="537.5" y="1720.5" width="12" height="6"/><rect x="549.5" y="1734.5" width="12" height="2"/><rect x="561.5" y="1730.5" width="11" height="0"/><rect x="572.5" y="1724.5" width="12" height="2"/><rect x="584.5" y="1719.5" width="12" height="3"/><rect x="596.5" y="1720.5" width="12" height="4"/><rect x="608.5" y="1705.5" width="12" height="8"/><rect x="620.5" y="1717.5" width="11" height="0"/><rect x="631.5" y="1709.5" width="12" height="0"/><rect x="643.5" y="1697.5" width="12" height="0"/><rect x="655.5" y="1691.5" width="12" height="0"/><rect x="667.5" y="1645.5" width="11" height="2"/><rect x="678.5" y="1678.5" width="12" height="0"/><rect x="690.5" y="1674.5" width="12" height="0"/><rect x="702.5" y="1664.5" width="12" height="0"/></g>
<g fill="#f1b9db"><rect x="101.5" y="1742.5" width="12" height="0"/><rect x="113.5" y="1742.5" width="12" height="0"/><rect x="125.5" y="1742.5" width="11" height="0"/><rect x="136.5" y="1742.5" width="12" height="0"/><rect x="148.5" y="1742.5" width="12" height="0"/><rect x="160.5" y="1742.5" width="12" height="0"/><rect x="172.5" y="1742.5" width="12" height="0"/><rect x="184.5" y="1742.5" width="11" height="0"/><rect x="195.5" y="1742.5" width="12" height="0"/><rect x="207.5" y="1742.5" width="12" height="0"/><rect x="219.5" y="1742.5" width="12" height="0"/><rect x="231.5" y="1742.5" width="11" height="0"/><rect x="242.5" y="1742.5" width="12" height="0"/><rect x="254.5" y="1742.5" width="12" height="0"/><rect x="266.5" y="1742.5" width="12" height="0"/><rect x="278.5" y="1742.5" width="12" height="0"/><rect x="290.5" y="1742.5" width="11" height="0"/><rect x="301.5" y="1742.5" width="12" height="0"/><rect x="313.5" y="1742.5" width="12" height="0"/><rect x="325.5" y="1742.5" width="12" height="0"/><rect x="337.5" y="1738.5" width="12" height="0"/><rect x="349.5" y="1740.5" width="11" height="0"/><rect x="360.5" y="1742.5" width="12" height="0"/><rect x="372.5" y="1742.5" width="12" height="0"/><rect x="384.5" y="1742.5" width="12" height="0"/><rect x="396.5" y="1742.5" width="11" height="0"/><rect x="407.5" y="1742.5" width="12" height="0"/><rect x="419.5" y="1740.5" width="12" height="0"/><rect x="431.5" y="1740.5" width="12" height="0"/><rect x="443.5" y="1740.5" width="12" height="0"/><rect x="455.5" y="1740.5" width="11" height="0"/><rect x="466.5" y="1736.5" width="12" height="0"/><rect x="478.5" y="1736.5" width="12" height="0"/><rect x="490.5" y="1734.5" width="12" height="0"/><rect x="502.5" y="1728.5" width="12" height="2"/><rect x="514.5" y="1740.5" width="11" height="0"/><rect x="525.5" y="1732.5" width="12" height="0"/><rect x="537.5" y="1720.5" width="12" height="0"/><rect x="549.5" y="1734.5" width="12" height="0"/><rect x="561.5" y="1728.5" width="11" height="2"/><rect x="572.5" y="1724.5" width="12" height="0"/><rect x="584.5" y="1719.5" width="12" height="0"/><rect x="596.5" y="1717.5" width="12" height="3"/><rect x="608.5" y="1701.5" width="12" height="4"/><rect x="620.5" y="1717.5" width="11" height="0"/><rect x="631.5" y="1703.5" width="12" height="6"/><rect x="643.5" y="1695.5" width="12" height="2"/><rect x="655.5" y="1689.5" width="12" height="2"/><rect x="667.5" y="1635.5" width="11" height="10"/><rect x="678.5" y="1670.5" width="12" height="8"/><rect x="690.5" y="1668.5" width="12" height="6"/><rect x="702.5" y="1651.5" width="12" height="13"/></g>
<g fill="#cae898"><rect x="101.5" y="1742.5" width="12" height="0"/><rect x="113.5" y="1742.5" width="12" height="0"/><rect x="125.5" y="1742.5" width="11" height="0"/><rect x="136.5" y="1742.5" width="12" height="0"/><rect x="148.5" y="1742.5" width="12" height="0"/><rect x="160.5" y="1742.5" width="12" height="0"/><rect x="172.5" y="1742.5" width="12" height="0"/><rect x="184.5" y="1742.5" width="11" height="0"/><rect x="195.5" y="1742.5" width="12" height="0"/><rect x="207.5" y="1742.5" width="12" height="0"/><rect x="219.5" y="1742.5" width="12" height="0"/><rect x="231.5" y="1742.5" width="11" height="0"/><rect x="242.5" y="1742.5" width="12" height="0"/><rect x="254.5" y="1742.5" width="12" height="0"/><rect x="266.5" y="1742.5" width="12" height="0"/><rect x="278.5" y="1742.5" width="12" height="0"/><rect x="290.5" y="1742.5" width="11" height="0"/><rect x="301.5" y="1742.5" width="12" height="0"/><rect x="313.5" y="1742.5" width="12" height="0"/><rect x="325.5" y="1742.5" width="12" height="0"/><rect x="337.5" y="1738.5" width="12" height="0"/><rect x="349.5" y="1740.5" width="11" height="0"/><rect x="360.5" y="1742.5" width="12" height="0"/><rect x="372.5" y="1742.5" width="12" height="0"/><rect x="384.5" y="1742.5" width="12" height="0"/><rect x="396.5" y="1742.5" width="11" height="0"/><rect x="407.5" y="1742.5" width="12" height="0"/><rect x="419.5" y="1740.5" width="12" height="0"/><rect x="431.5" y="1740.5" width="12" height="0"/><rect x="443.5" y="1740.5" width="12" height="0"/><rect x="455.5" y="1738.5" width="11" height="2"/><rect x="466.5" y="1736.5" width="12" height="0"/><rect x="478.5" y="1736.5" width="12" height="0"/><rect x="490.5" y="1732.5" width="12" height="2"/><rect x="502.5" y="1722.5" width="12" height="6"/><rect x="514.5" y="1738.5" width="11" height="2"/><rect x="525.5" y="1730.5" width="12" height="2"/><rect x="537.5" y="1717.5" width="12" height="3"/><rect x="549.5" y="1730.5" width="12" height="4"/><rect x="561.5" y="1726.5" width="11" height="2"/><rect x="572.5" y="1713.5" width="12" height="11"/><rect x="584.5" y="1707.5" width="12" height="12"/><rect x="596.5" y="1707.5" width="12" height="10"/><rect x="608.5" y="1695.5" width="12" height="6"/><rect x="620.5" y="1709.5" width="11" height="8"/><rect x="631.5" y="1680.5" width="12" height="23"/><rect x="643.5" y="1686.5" width="12" height="9"/><rect x="655.5" y="1672.5" width="12" height="17"/><rect x="667.5" y="1606.5" width="11" height="29"/><rect x="678.5" y="1631.5" width="12" height="39"/><rect x="690.5" y="1616.5" width="12" height="52"/><rect x="702.5" y="1612.5" width="12" height="39"/></g>
<g fill="#d1d1d1"><rect x="101.5" y="1742.5" width="12" height="0"/><rect x="113.5" y="1742.5" width="12" height="0"/><rect x="125.5" y="1742.5" width="11" height="0"/><rect x="136.5" y="1742.5" width="12" height="0"/><rect x="148.5" y="1742.5" width="12" height="0"/><rect x="160.5" y="1742.5" width="12" height="0"/><rect x="172.5" y="1742.5" width="12" height="0"/><rect x="184.5" y="1742.5" width="11" height="0"/><rect x="195.5" y="1742.5" width="12" height="0"/><rect x="207.5" y="1742.5" width="12" height="0"/><rect x="219.5" y="1742.5" width="12" height="0"/><rect x="231.5" y="1742.5" width="11" height="0"/><rect x="242.5" y="1742.5" width="12" height="0"/><rect x="254.5" y="1742.5" width="12" height="0"/><rect x="266.5" y="1742.5" width="12" height="0"/><rect x="278.5" y="1742.5" width="12" height="0"/><rect x="290.5" y="1742.5" width="11" height="0"/><rect x="301.5" y="1742.5" width="12" height="0"/><rect x="313.5" y="1742.5" width="12" height="0"/><rect x="325.5" y="1742.5" width="12" height="0"/><rect x="337.5" y="1738.5" width="12" height="0"/><rect x="349.5" y="1738.5" width="11" height="2"/><rect x="360.5" y="1742.5" width="12" height="0"/><rect x="372.5" y="1740.5" width="12" height="2"/><rect x="384.5" y="1740.5" width="12" height="2"/><rect x="396.5" y="1740.5" width="11" height="2"/><rect x="407.5" y="1740.5" width="12" height="2"/><rect x="419.5" y="1738.5" width="12" height="2"/><rect x="431.5" y="1738.5" width="12" height="2"/><rect x="443.5" y="1736.5" width="12" height="4"/><rect x="455.5" y="1734.5" width="11" height="4"/><rect x="466.5" y="1734.5" width="12" height="2"/><rect x="478.5" y="1734.5" width="12" height="2"/><rect x="490.5" y="1730.5" width="12" height="2"/><rect x="502.5" y="1719.5" width="12" height="3"/><rect x="514.5" y="1732.5" width="11" height="6"/><rect x="525.5" y="1719.5" width="12" height="11"/><rect x="537.5" y="1697.5" width="12" height="20"/><rect x="549.5" y="1713.5" width="12" height="17"/><rect x="561.5" y="1703.5" width="11" height="23"/><rect x="572.5" y="1693.5" width="12" height="20"/><rect x="584.5" y="1674.5" width="12" height="33"/><rect x="596.5" y="1672.5" width="12" height="35"/><rect x="608.5" y="1657.5" width="12" height="38"/><rect x="620.5" y="1658.5" width="11" height="51"/><rect x="631.5" y="1620.5" width="12" height="60"/><rect x="643.5" y="1585.5" width="12" height="101"/><rect x="655.5" y="1567.5" width="12" height="105"/><rect x="667.5" y="1490.5" width="11" height="116"/><rect x="678.5" y="1509.5" width="12" height="122"/><rect x="690.5" y="1500.5" width="12" height="116"/><rect x="702.5" y="1467.5" width="12" height="145"/></g>
<g fill="#ffe882"><rect x="101.5" y="1742.5" width="12" height="0"/><rect x="113.5" y="1742.5" width="12" height="0"/><rect x="125.5" y="1742.5" width="11" height="0"/><rect x="136.5" y="1742.5" width="12" height="0"/><rect x="148.5" y="1742.5" width="12" height="0"/><rect x="160.5" y="1742.5" width="12" height="0"/><rect x="172.5" y="1742.5" width="12" height="0"/><rect x="184.5" y="1742.5" width="11" height="0"/><rect x="195.5" y="1742.5" width="12" height="0"/><rect x="207.5" y="1742.5" width="12" height="0"/><rect x="219.5" y="1742.5" width="12" height="0"/><rect x="231.5" y="1740.5" width="11" height="2"/><rect x="242.5" y="1742.5" width="12" height="0"/><rect x="254.5" y="1742.5" width="12" height="0"/><rect x="266.5" y="1742.5" width="12" height="0"/><rect x="278.5" y="1738.5" width="12" height="4"/><rect x="290.5" y="1740.5" width="11" height="2"/><rect x="301.5" y="1738.5" width="12" height="4"/><rect x="313.5" y="1740.5" width="12" height="2"/><rect x="325.5" y="1740.5" width="12" height="2"/><rect x="337.5" y="1736.5" width="12" height="2"/><rect x="349.5" y="1732.5" width="11" height="6"/><rect x="360.5" y="1742.5" width="12" height="0"/><rect x="372.5" y="1736.5" width="12" height="4"/><rect x="384.5" y="1738.5" width="12" height="2"/><rect x="396.5" y="1734.5" width="11" height="6"/><rect x="407.5" y="1734.5" width="12" height="6"/><rect x="419.5" y="1724.5" width="12" height="14"/><rect x="431.5" y="1724.5" width="12" height="14"/><rect x="443.5" y="1720.5" width="12" height="16"/><rect x="455.5" y="1717.5" width="11" height="17"/><rect x="466.5" y="1713.5" width="12" height="21"/><rect x="478.5" y="1699.5" width="12" height="35"/><rect x="490.5" y="1707.5" width="12" height="23"/><rect x="502.5" y="1693.5" width="12" height="26"/><rect x="514.5" y="1689.5" width="11" height="43"/><rect x="525.5" y="1684.5" width="12" height="35"/><rect x="537.5" y="1633.5" width="12" height="64"/><rect x="549.5" y="1664.5" width="12" height="49"/><rect x="561.5" y="1637.5" width="11" height="66"/><rect x="572.5" y="1635.5" width="12" height="58"/><rect x="584.5" y="1606.5" width="12" height="68"/><rect x="596.5" y="1587.5" width="12" height="85"/><rect x="608.5" y="1604.5" width="12" height="53"/><rect x="620.5" y="1583.5" width="11" height="75"/><rect x="631.5" y="1538.5" width="12" height="82"/><rect x="643.5" y="1515.5" width="12" height="70"/><rect x="655.5" y="1521.5" width="12" height="46"/><rect x="667.5" y="1397.5" width="11" height="93"/><rect x="678.5" y="1476.5" width="12" height="33"/><rect x="690.5" y="1447.5" width="12" height="53"/><rect x="702.5" y="1416.5" width="12" height="51"/></g>
<g fill="#efdcbf"><rect x="101.5" y="1742.5" width="12" height="0"/><rect x="113.5" y="1742.5" width="12" height="0"/><rect x="125.5" y="1742.5" width="11" height="0"/><rect x="136.5" y="1742.5" width="12" height="0"/><rect x="148.5" y="1742.5" width="12" height="0"/><rect x="160.5" y="1742.5" width="12" height="0"/><rect x="172.5" y="1742.5" width="12" height="0"/><rect x="184.5" y="1742.5" width="11" height="0"/><rect x="195.5" y="1742.5" width="12" height="0"/><rect x="207.5" y="1742.5" width="12" height="0"/><rect x="219.5" y="1742.5" width="12" height="0"/><rect x="231.5" y="1740.5" width="11" height="0"/><rect x="242.5" y="1742.5" width="12" height="0"/><rect x="254.5" y="1742.5" width="12" height="0"/><rect x="266.5" y="1742.5" width="12" height="0"/><rect x="278.5" y="1736.5" width="12" height="2"/><rect x="290.5" y="1738.5" width="11" height="2"/><rect x="301.5" y="1736.5" width="12" height="2"/><rect x="313.5" y="1740.5" width="12" height="0"/><rect x="325.5" y="1736.5" width="12" height="4"/><rect x="337.5" y="1730.5" width="12" height="6"/><rect x="349.5" y="1728.5" width="11" height="4"/><rect x="360.5" y="1736.5" width="12" height="6"/><rect x="372.5" y="1728.5" width="12" height="8"/><rect x="384.5" y="1720.5" width="12" height="18"/><rect x="396.5" y="1719.5" width="11" height="15"/><rect x="407.5" y="1717.5" width="12" height="17"/><rect x="419.5" y="1703.5" width="12" height="21"/><rect x="431.5" y="1701.5" width="12" height="23"/><rect x="443.5" y="1666.5" width="12" height="54"/><rect x="455.5" y="1684.5" width="11" height="33"/><rect x="466.5" y="1649.5" width="12" height="64"/><rect x="478.5" y="1626.5" width="12" height="73"/><rect x="490.5" y="1631.5" width="12" height="76"/><rect x="502.5" y="1575.5" width="12" height="118"/><rect x="514.5" y="1596.5" width="11" height="93"/><rect x="525.5" y="1556.5" width="12" height="128"/><rect x="537.5" y="1496.5" width="12" height="137"/><rect x="549.5" y="1505.5" width="12" height="159"/><rect x="561.5" y="1459.5" width="11" height="178"/><rect x="572.5" y="1434.5" width="12" height="201"/><rect x="584.5" y="1281.5" width="12" height="325"/><rect x="596.5" y="1312.5" width="12" height="275"/><rect x="608.5" y="1246.5" width="12" height="358"/><rect x="620.5" y="1282.5" width="11" height="301"/><rect x="631.5" y="1211.5" width="12" height="327"/><rect x="643.5" y="1158.5" width="12" height="357"/><rect x="655.5" y="1174.5" width="12" height="347"/><rect x="667.5" y="1038.5" width="11" height="359"/><rect x="678.5" y="1180.5" width="12" height="296"/><rect x="690.5" y="1143.5" width="12" height="304"/><rect x="702.5" y="1147.5" width="12" height="269"/></g>
<g fill="#f1b9db"><rect x="101.5" y="1740.5" width="12" height="2"/><rect x="113.5" y="1742.5" width="12" height="0"/><rect x="125.5" y="1742.5" width="11" height="0"/><rect x="136.5" y="1742.5" width="12" height="0"/><rect x="148.5" y="1742.5" width="12" height="0"/><rect x="160.5" y="1742.5" width="12" height="0"/><rect x="172.5" y="1742.5" width="12" height="0"/><rect x="184.5" y="1742.5" width="11" height="0"/><rect x="195.5" y="1742.5" width="12" height="0"/><rect x="207.5" y="1742.5" width="12" height="0"/><rect x="219.5" y="1740.5" width="12" height="2"/><rect x="231.5" y="1738.5" width="11" height="2"/><rect x="242.5" y="1742.5" width="12" height="0"/><rect x="254.5" y="1742.5" width="12" height="0"/><rect x="266.5" y="1740.5" width="12" height="2"/><rect x="278.5" y="1734.5" width="12" height="2"/><rect x="290.5" y="1736.5" width="11" height="2"/><rect x="301.5" y="1736.5" width="12" height="0"/><rect x="313.5" y="1736.5" width="12" height="4"/><rect x="325.5" y="1734.5" width="12" height="2"/><rect x="337.5" y="1728.5" width="12" height="2"/><rect x="349.5" y="1719.5" width="11" height="9"/><rect x="360.5" y="1734.5" width="12" height="2"/><rect x="372.5" y="1719.5" width="12" height="9"/><rect x="384.5" y="1711.5" width="12" height="9"/><rect x="396.5" y="1701.5" width="11" height="18"/><rect x="407.5" y="1703.5" width="12" height="14"/><rect x="419.5" y="1686.5" width="12" height="17"/><rect x="431.5" y="1689.5" width="12" height="12"/><rect x="443.5" y="1647.5" width="12" height="19"/><rect x="455.5" y="1666.5" width="11" height="18"/><rect x="466.5" y="1622.5" width="12" height="27"/><rect x="478.5" y="1600.5" width="12" height="26"/><rect x="490.5" y="1610.5" width="12" height="21"/><rect x="502.5" y="1558.5" width="12" height="17"/><rect x="514.5" y="1567.5" width="11" height="29"/><rect x="525.5" y="1521.5" width="12" height="35"/><rect x="537.5" y="1457.5" width="12" height="39"/><rect x="549.5" y="1459.5" width="12" height="46"/><rect x="561.5" y="1408.5" width="11" height="51"/><rect x="572.5" y="1393.5" width="12" height="41"/><rect x="584.5" y="1228.5" width="12" height="53"/><rect x="596.5" y="1244.5" width="12" height="68"/><rect x="608.5" y="1186.5" width="12" height="60"/><rect x="620.5" y="1232.5" width="11" height="50"/><rect x="631.5" y="1145.5" width="12" height="66"/><rect x="643.5" y="1106.5" width="12" height="52"/><rect x="655.5" y="1116.5" width="12" height="58"/><rect x="667.5" y="968.5" width="11" height="70"/><rect x="678.5" y="1094.5" width="12" height="86"/><rect x="690.5" y="1100.5" width="12" height="43"/><rect x="702.5" y="1098.5" width="12" height="49"/></g>
</g>
<g stroke="#b0b0b0" stroke-width="1">
<line x1="162.5" x2="162.5" y1="930.5" y2="1742.5"/>
<line x1="272.5" x2="272.5" y1="930.5" y2="1742.5"/>
<line x1="383.5" x2="383.5" y1="930.5" y2="1742.5"/>
<line x1="493.5" x2="493.5" y1="930.5" y2="1742.5"/>
<line x1="604.5" x2="604.5" y1="930.5" y2="1742.5"/>
<line x1="714.5" x2="714.5" y1="930.5" y2="1742.5"/>
<line x1="71.5" x2="745.5" y1="1742.5" y2="1742.5"/>
<line x1="71.5" x2="745.5" y1="1645.5" y2="1645.5"/>
<line x1="71.5" x2="745.5" y1="1548.5" y2="1548.5"/>
<line x1="71.5" x2="745.5" y1="1451.5" y2="1451.5"/>
<line x1="71.5" x2="745.5" y1="1354.5" y2="1354.5"/>
<line x1="71.5" x2="745.5" y1="1257.5" y2="1257.5"/>
<line x1="71.5" x2="745.5" y1="1160.5" y2="1160.5"/>
<line x1="71.5" x2="745.5" y1="1063.5" y2="1063.5"/>
<line x1="71.5" x2="745.5" y1="967.5" y2="967.5"/>
</g>
</g>
<rect x="71.5" y="930.5" width="674.0" height="812.0" fill="none" stroke="#000" stroke-width="1.11"/>
<g stroke="#000" stroke-width="1.11">
<line x1="162.5" x2="162.5" y1="1742.5" y2="1747.36"/>
<line x1="272.5" x2="272.5" y1="1742.5" y2="1747.36"/>
<line x1="383.5" x2="383.5" y1="1742.5" y2="1747.36"/>
<line x1="493.5" x2="493.5" y1="1742.5" y2="1747.36"/>
<line x1="604.5" x2="604.5" y1="1742.5" y2="1747.36"/>
<line x1="714.5" x2="714.5" y1="1742.5" y2="1747.36"/>
<line x1="66.64" x2="71.5" y1="1742.5" y2="1742.5"/>
<line x1="66.64" x2="71.5" y1="1645.5" y2="1645.5"/>
<line x1="66.64" x2="71.5" y1="1548.5" y2="1548.5"/>
<line x1="66.64" x2="71.5" y1="1451.5" y2="1451.5"/>
<line x1="66.64" x2="71.5" y1="1354.5" y2="1354.5"/>
<line x1="66.64" x2="71.5" y1="1257.5" y2="1257.5"/>
<line x1="66.64" x2="71.5" y1="1160.5" y2="1160.5"/>
<line x1="66.64" x2="71.5" y1="1063.5" y2="1063.5"/>
<line x1="66.64" x2="71.5" y1="967.5" y2="967.5"/>
</g>
<g font-family="'DejaVu Sans','Liberation Sans',sans-serif" font-size="13.89" fill="#000">
<text transform="translate(162.8,1762.0) scale(0.96,1)" text-anchor="middle">−0.5</text>
<text transform="translate(272.8,1762.0) scale(0.96,1)" text-anchor="middle">−0.4</text>
<text transform="translate(383.8,1762.0) scale(0.96,1)" text-anchor="middle">−0.3</text>
<text transform="translate(493.8,1762.0) scale(0.96,1)" text-anchor="middle">−0.2</text>
<text transform="translate(604.8,1762.0) scale(0.96,1)" text-anchor="middle">−0.1</text>
<text transform="translate(714.8,1762.0) scale(0.96,1)" text-anchor="middle">0.0</text>
<text transform="translate(60.6,1748.6) scale(0.96,1)" text-anchor="end">0</text>
<text transform="translate(60.6,1651.6) scale(0.96,1)" text-anchor="end">50</text>
<text transform="translate(60.6,1554.6) scale(0.96,1)" text-anchor="end">100</text>
<text transform="translate(60.6,1457.6) scale(0.96,1)" text-anchor="end">150</text>
<text transform="translate(60.6,1360.6) scale(0.96,1)" text-anchor="end">200</text>
<text transform="translate(60.6,1263.6) scale(0.96,1)" text-anchor="end">250</text>
<text transform="translate(60.6,1166.6) scale(0.96,1)" text-anchor="end">300</text>
<text transform="translate(60.6,1069.6) scale(0.96,1)" text-anchor="end">350</text>
<text transform="translate(60.6,973.6) scale(0.96,1)" text-anchor="end">400</text>
<text x="408.2" y="1781.5" text-anchor="middle">Alpha</text>
<text transform="translate(26,1337.0) rotate(-90)" text-anchor="middle">Count</text>
</g>
<text transform="translate(408.5,922.2) scale(1,1.07)" text-anchor="middle" font-family="'DejaVu Sans','Liberation Sans',sans-serif" font-size="16.67" fill="#000">Negative Alpha Values by Model Country</text>
<rect x="78.4" y="937.6" width="110.0" height="296.8" rx="2.8" fill="#fff" fill-opacity="0.8" stroke="#ccc" stroke-opacity="0.8" stroke-width="1.11"/>
<g font-family="'DejaVu Sans','Liberation Sans',sans-serif" font-size="13.8" fill="#000">
<text x="83.9" y="952.9">modelCountry</text>
<rect x="102.85" y="965.75" width="27.3" height="9.3" fill="#f1b9db" stroke="#000" stroke-width="1.3"/>
<text x="142" y="973.7">IN</text>
<rect x="102.85" y="986.67" width="27.3" height="9.3" fill="#efdcbf" stroke="#000" stroke-width="1.3"/>
<text x="142" y="994.62">CN</text>
<rect x="102.85" y="1007.59" width="27.3" height="9.3" fill="#ffe882" stroke="#000" stroke-width="1.3"/>
<text x="142" y="1015.54">KR</text>
<rect x="102.85" y="1028.51" width="27.3" height="9.3" fill="#d1d1d1" stroke="#000" stroke-width="1.3"/>
<text x="142" y="1036.46">JP</text>
<rect x="102.85" y="1049.43" width="27.3" height="9.3" fill="#cae898" stroke="#000" stroke-width="1.3"/>
<text x="142" y="1057.38">TW</text>
<rect x="102.85" y="1070.35" width="27.3" height="9.3" fill="#f1b9db" stroke="#000" stroke-width="1.3"/>
<text x="142" y="1078.3">ID</text>
<rect x="102.85" y="1091.27" width="27.3" height="9.3" fill="#cae898" stroke="#000" stroke-width="1.3"/>
<text x="142" y="1099.22">NZ</text>
<rect x="102.85" y="1112.19" width="27.3" height="9.3" fill="#efdcbf" stroke="#000" stroke-width="1.3"/>
<text x="142" y="1120.14">SG</text>
<rect x="102.85" y="1133.11" width="27.3" height="9.3" fill="#a3dac9" stroke="#000" stroke-width="1.3"/>
<text x="142" y="1141.06">TH</text>
<rect x="102.85" y="1154.03" width="27.3" height="9.3" fill="#fdbba1" stroke="#000" stroke-width="1.3"/>
<text x="142" y="1161.98">AU</text>
<rect x="102.85" y="1174.95" width="27.3" height="9.3" fill="#bbc6e0" stroke="#000" stroke-width="1.3"/>
<text x="142" y="1182.9">XH</text>
<rect x="102.85" y="1195.87" width="27.3" height="9.3" fill="#ffe882" stroke="#000" stroke-width="1.3"/>
<text x="142" y="1203.82">HK</text>
<rect x="102.85" y="1216.79" width="27.3" height="9.3" fill="#fdbba1" stroke="#000" stroke-width="1.3"/>
<text x="142" y="1224.74">MY</text>
</g>
<clipPath id="clipBR"><rect x="811.5" y="930.5" width="674.0" height="812.0"/></clipPath>
<g clip-path="url(#clipBR)">
<g fill="none" stroke-width="2.78" stroke-opacity="0.5">
<g stroke="#fc8d62"><line x1="842.5" y1="1742.5" x2="853.5" y2="1742.5" stroke-linecap="square"/><line x1="853.5" y1="1742.5" x2="865.5" y2="1742.5" stroke-linecap="square"/><line x1="865.5" y1="1742.5" x2="877.5" y2="1742.5" stroke-linecap="square"/><line x1="877.5" y1="1742.5" x2="889.5" y2="1742.5" stroke-linecap="square"/><line x1="889.5" y1="1742.5" x2="901.5" y2="1742.5" stroke-linecap="square"/><line x1="901.5" y1="1742.5" x2="912.5" y2="1742.5" stroke-linecap="square"/><line x1="912.5" y1="1742.5" x2="924.5" y2="1742.5" stroke-linecap="square"/><line x1="924.5" y1="1742.5" x2="936.5" y2="1742.5" stroke-linecap="square"/><line x1="936.5" y1="1742.5" x2="948.5" y2="1742.5" stroke-linecap="square"/><line x1="948.5" y1="1742.5" x2="959.5" y2="1742.5" stroke-linecap="square"/><line x1="959.5" y1="1742.5" x2="971.5" y2="1742.5" stroke-linecap="square"/><line x1="971.5" y1="1742.5" x2="983.5" y2="1742.5" stroke-linecap="square"/><line x1="983.5" y1="1742.5" x2="995.5" y2="1742.5" stroke-linecap="square"/><line x1="995.5" y1="1742.5" x2="1007.5" y2="1742.5" stroke-linecap="square"/><line x1="1007.5" y1="1742.5" x2="1018.5" y2="1742.5" stroke-linecap="square"/><line x1="1018.5" y1="1742.5" x2="1030.5" y2="1742.5" stroke-linecap="square"/><line x1="1030.5" y1="1742.5" x2="1042.5" y2="1742.5" stroke-linecap="square"/><line x1="1042.5" y1="1742.5" x2="1054.5" y2="1742.5" stroke-linecap="square"/><line x1="1054.5" y1="1742.5" x2="1065.5" y2="1742.5" stroke-linecap="square"/><line x1="1065.5" y1="1742.5" x2="1077.5" y2="1742.5" stroke-linecap="square"/><line x1="1077.5" y1="1742.5" x2="1089.5" y2="1742.5" stroke-linecap="square"/><line x1="1089.5" y1="1742.5" x2="1101.5" y2="1742.5" stroke-linecap="square"/><line x1="1101.5" y1="1742.5" x2="1113.5" y2="1742.5" stroke-linecap="square"/><line x1="1113.5" y1="1742.5" x2="1124.5" y2="1742.5" stroke-linecap="square"/><line x1="1124.5" y1="1742.5" x2="1136.5" y2="1742.5" stroke-linecap="square"/><line x1="1136.5" y1="1742.5" x2="1148.5" y2="1742.5" stroke-linecap="square"/><line x1="1148.5" y1="1742.5" x2="1160.5" y2="1742.5" stroke-linecap="square"/><line x1="1160.5" y1="1742.5" x2="1172.5" y2="1742.5" stroke-linecap="square"/><line x1="1172.5" y1="1742.5" x2="1183.5" y2="1742.5" stroke-linecap="square"/><line x1="1183.5" y1="1742.5" x2="1195.5" y2="1742.5" stroke-linecap="square"/><line x1="1195.5" y1="1742.5" x2="1207.5" y2="1742.5" stroke-linecap="square"/><line x1="1207.5" y1="1742.5" x2="1219.5" y2="1742.5" stroke-linecap="square"/><line x1="1219.5" y1="1742.5" x2="1230.5" y2="1742.5" stroke-linecap="square"/><rect x="1230.5" y="1738.5" width="12" height="4"/><line x1="1242.5" y1="1742.5" x2="1254.5" y2="1742.5" stroke-linecap="square"/><line x1="1254.5" y1="1742.5" x2="1266.5" y2="1742.5" stroke-linecap="square"/><rect x="1266.5" y="1734.5" width="12" height="8"/><line x1="1278.5" y1="1742.5" x2="1289.5" y2="1742.5" stroke-linecap="square"/><line x1="1289.5" y1="1742.5" x2="1301.5" y2="1742.5" stroke-linecap="square"/><line x1="1301.5" y1="1742.5" x2="1313.5" y2="1742.5" stroke-linecap="square"/><rect x="1313.5" y="1738.5" width="12" height="4"/><rect x="1325.5" y="1734.5" width="11" height="8"/><line x1="1336.5" y1="1742.5" x2="1348.5" y2="1742.5" stroke-linecap="square"/><rect x="1348.5" y="1730.5" width="12" height="12"/><rect x="1360.5" y="1738.5" width="12" height="4"/><rect x="1372.5" y="1734.5" width="12" height="8"/><rect x="1384.5" y="1730.5" width="11" height="12"/><rect x="1395.5" y="1734.5" width="12" height="8"/><rect x="1407.5" y="1734.5" width="12" height="8"/><rect x="1419.5" y="1725.5" width="12" height="17"/><rect x="1431.5" y="1709.5" width="12" height="33"/><rect x="1443.5" y="1730.5" width="11" height="12"/></g>
<g stroke="#ffd92f"><line x1="842.5" y1="1742.5" x2="853.5" y2="1742.5" stroke-linecap="square"/><line x1="853.5" y1="1742.5" x2="865.5" y2="1742.5" stroke-linecap="square"/><line x1="865.5" y1="1742.5" x2="877.5" y2="1742.5" stroke-linecap="square"/><line x1="877.5" y1="1742.5" x2="889.5" y2="1742.5" stroke-linecap="square"/><line x1="889.5" y1="1742.5" x2="901.5" y2="1742.5" stroke-linecap="square"/><line x1="901.5" y1="1742.5" x2="912.5" y2="1742.5" stroke-linecap="square"/><line x1="912.5" y1="1742.5" x2="924.5" y2="1742.5" stroke-linecap="square"/><line x1="924.5" y1="1742.5" x2="936.5" y2="1742.5" stroke-linecap="square"/><line x1="936.5" y1="1742.5" x2="948.5" y2="1742.5" stroke-linecap="square"/><line x1="948.5" y1="1742.5" x2="959.5" y2="1742.5" stroke-linecap="square"/><line x1="959.5" y1="1742.5" x2="971.5" y2="1742.5" stroke-linecap="square"/><line x1="971.5" y1="1742.5" x2="983.5" y2="1742.5" stroke-linecap="square"/><line x1="983.5" y1="1742.5" x2="995.5" y2="1742.5" stroke-linecap="square"/><line x1="995.5" y1="1742.5" x2="1007.5" y2="1742.5" stroke-linecap="square"/><line x1="1007.5" y1="1742.5" x2="1018.5" y2="1742.5" stroke-linecap="square"/><line x1="1018.5" y1="1742.5" x2="1030.5" y2="1742.5" stroke-linecap="square"/><line x1="1030.5" y1="1742.5" x2="1042.5" y2="1742.5" stroke-linecap="square"/><line x1="1042.5" y1="1742.5" x2="1054.5" y2="1742.5" stroke-linecap="square"/><line x1="1054.5" y1="1742.5" x2="1065.5" y2="1742.5" stroke-linecap="square"/><line x1="1065.5" y1="1742.5" x2="1077.5" y2="1742.5" stroke-linecap="square"/><rect x="1077.5" y="1738.5" width="12" height="4"/><line x1="1089.5" y1="1742.5" x2="1101.5" y2="1742.5" stroke-linecap="square"/><line x1="1101.5" y1="1742.5" x2="1113.5" y2="1742.5" stroke-linecap="square"/><line x1="1113.5" y1="1742.5" x2="1124.5" y2="1742.5" stroke-linecap="square"/><line x1="1124.5" y1="1742.5" x2="1136.5" y2="1742.5" stroke-linecap="square"/><line x1="1136.5" y1="1742.5" x2="1148.5" y2="1742.5" stroke-linecap="square"/><line x1="1148.5" y1="1742.5" x2="1160.5" y2="1742.5" stroke-linecap="square"/><line x1="1160.5" y1="1742.5" x2="1172.5" y2="1742.5" stroke-linecap="square"/><line x1="1172.5" y1="1742.5" x2="1183.5" y2="1742.5" stroke-linecap="square"/><line x1="1183.5" y1="1742.5" x2="1195.5" y2="1742.5" stroke-linecap="square"/><line x1="1195.5" y1="1742.5" x2="1207.5" y2="1742.5" stroke-linecap="square"/><line x1="1207.5" y1="1742.5" x2="1219.5" y2="1742.5" stroke-linecap="square"/><rect x="1219.5" y="1738.5" width="11" height="4"/><line x1="1230.5" y1="1742.5" x2="1242.5" y2="1742.5" stroke-linecap="square"/><rect x="1242.5" y="1734.5" width="12" height="8"/><line x1="1254.5" y1="1742.5" x2="1266.5" y2="1742.5" stroke-linecap="square"/><line x1="1266.5" y1="1742.5" x2="1278.5" y2="1742.5" stroke-linecap="square"/><line x1="1278.5" y1="1742.5" x2="1289.5" y2="1742.5" stroke-linecap="square"/><line x1="1289.5" y1="1742.5" x2="1301.5" y2="1742.5" stroke-linecap="square"/><line x1="1301.5" y1="1742.5" x2="1313.5" y2="1742.5" stroke-linecap="square"/><rect x="1313.5" y="1738.5" width="12" height="4"/><rect x="1325.5" y="1738.5" width="11" height="4"/><rect x="1336.5" y="1738.5" width="12" height="4"/><line x1="1348.5" y1="1742.5" x2="1360.5" y2="1742.5" stroke-linecap="square"/><rect x="1360.5" y="1738.5" width="12" height="4"/><rect x="1372.5" y="1738.5" width="12" height="4"/><rect x="1384.5" y="1734.5" width="11" height="8"/><rect x="1395.5" y="1734.5" width="12" height="8"/><rect x="1407.5" y="1713.5" width="12" height="29"/><rect x="1419.5" y="1730.5" width="12" height="12"/><rect x="1431.5" y="1738.5" width="12" height="4"/><rect x="1443.5" y="1730.5" width="11" height="12"/></g>
<g stroke="#8da0cb"><line x1="842.5" y1="1742.5" x2="853.5" y2="1742.5" stroke-linecap="square"/><line x1="853.5" y1="1742.5" x2="865.5" y2="1742.5" stroke-linecap="square"/><line x1="865.5" y1="1742.5" x2="877.5" y2="1742.5" stroke-linecap="square"/><line x1="877.5" y1="1742.5" x2="889.5" y2="1742.5" stroke-linecap="square"/><line x1="889.5" y1="1742.5" x2="901.5" y2="1742.5" stroke-linecap="square"/><line x1="901.5" y1="1742.5" x2="912.5" y2="1742.5" stroke-linecap="square"/><line x1="912.5" y1="1742.5" x2="924.5" y2="1742.5" stroke-linecap="square"/><line x1="924.5" y1="1742.5" x2="936.5" y2="1742.5" stroke-linecap="square"/><line x1="936.5" y1="1742.5" x2="948.5" y2="1742.5" stroke-linecap="square"/><line x1="948.5" y1="1742.5" x2="959.5" y2="1742.5" stroke-linecap="square"/><line x1="959.5" y1="1742.5" x2="971.5" y2="1742.5" stroke-linecap="square"/><line x1="971.5" y1="1742.5" x2="983.5" y2="1742.5" stroke-linecap="square"/><line x1="983.5" y1="1742.5" x2="995.5" y2="1742.5" stroke-linecap="square"/><line x1="995.5" y1="1742.5" x2="1007.5" y2="1742.5" stroke-linecap="square"/><line x1="1007.5" y1="1742.5" x2="1018.5" y2="1742.5" stroke-linecap="square"/><line x1="1018.5" y1="1742.5" x2="1030.5" y2="1742.5" stroke-linecap="square"/><line x1="1030.5" y1="1742.5" x2="1042.5" y2="1742.5" stroke-linecap="square"/><line x1="1042.5" y1="1742.5" x2="1054.5" y2="1742.5" stroke-linecap="square"/><line x1="1054.5" y1="1742.5" x2="1065.5" y2="1742.5" stroke-linecap="square"/><line x1="1065.5" y1="1742.5" x2="1077.5" y2="1742.5" stroke-linecap="square"/><line x1="1077.5" y1="1742.5" x2="1089.5" y2="1742.5" stroke-linecap="square"/><line x1="1089.5" y1="1742.5" x2="1101.5" y2="1742.5" stroke-linecap="square"/><line x1="1101.5" y1="1742.5" x2="1113.5" y2="1742.5" stroke-linecap="square"/><line x1="1113.5" y1="1742.5" x2="1124.5" y2="1742.5" stroke-linecap="square"/><line x1="1124.5" y1="1742.5" x2="1136.5" y2="1742.5" stroke-linecap="square"/><line x1="1136.5" y1="1742.5" x2="1148.5" y2="1742.5" stroke-linecap="square"/><line x1="1148.5" y1="1742.5" x2="1160.5" y2="1742.5" stroke-linecap="square"/><line x1="1160.5" y1="1742.5" x2="1172.5" y2="1742.5" stroke-linecap="square"/><line x1="1172.5" y1="1742.5" x2="1183.5" y2="1742.5" stroke-linecap="square"/><rect x="1183.5" y="1738.5" width="12" height="4"/><line x1="1195.5" y1="1742.5" x2="1207.5" y2="1742.5" stroke-linecap="square"/><line x1="1207.5" y1="1742.5" x2="1219.5" y2="1742.5" stroke-linecap="square"/><rect x="1219.5" y="1738.5" width="11" height="4"/><rect x="1230.5" y="1738.5" width="12" height="4"/><rect x="1242.5" y="1734.5" width="12" height="8"/><line x1="1254.5" y1="1742.5" x2="1266.5" y2="1742.5" stroke-linecap="square"/><rect x="1266.5" y="1738.5" width="12" height="4"/><line x1="1278.5" y1="1742.5" x2="1289.5" y2="1742.5" stroke-linecap="square"/><rect x="1289.5" y="1738.5" width="12" height="4"/><rect x="1301.5" y="1734.5" width="12" height="8"/><line x1="1313.5" y1="1742.5" x2="1325.5" y2="1742.5" stroke-linecap="square"/><rect x="1325.5" y="1738.5" width="11" height="4"/><rect x="1336.5" y="1734.5" width="12" height="8"/><rect x="1348.5" y="1725.5" width="12" height="17"/><rect x="1360.5" y="1734.5" width="12" height="8"/><rect x="1372.5" y="1734.5" width="12" height="8"/><rect x="1384.5" y="1734.5" width="11" height="8"/><rect x="1395.5" y="1696.5" width="12" height="46"/><rect x="1407.5" y="1692.5" width="12" height="50"/><rect x="1419.5" y="1717.5" width="12" height="25"/><rect x="1431.5" y="1717.5" width="12" height="25"/><rect x="1443.5" y="1700.5" width="11" height="42"/></g>
<g stroke="#fc8d62"><line x1="842.5" y1="1742.5" x2="853.5" y2="1742.5" stroke-linecap="square"/><line x1="853.5" y1="1742.5" x2="865.5" y2="1742.5" stroke-linecap="square"/><line x1="865.5" y1="1742.5" x2="877.5" y2="1742.5" stroke-linecap="square"/><line x1="877.5" y1="1742.5" x2="889.5" y2="1742.5" stroke-linecap="square"/><line x1="889.5" y1="1742.5" x2="901.5" y2="1742.5" stroke-linecap="square"/><line x1="901.5" y1="1742.5" x2="912.5" y2="1742.5" stroke-linecap="square"/><line x1="912.5" y1="1742.5" x2="924.5" y2="1742.5" stroke-linecap="square"/><line x1="924.5" y1="1742.5" x2="936.5" y2="1742.5" stroke-linecap="square"/><line x1="936.5" y1="1742.5" x2="948.5" y2="1742.5" stroke-linecap="square"/><line x1="948.5" y1="1742.5" x2="959.5" y2="1742.5" stroke-linecap="square"/><line x1="959.5" y1="1742.5" x2="971.5" y2="1742.5" stroke-linecap="square"/><line x1="971.5" y1="1742.5" x2="983.5" y2="1742.5" stroke-linecap="square"/><line x1="983.5" y1="1742.5" x2="995.5" y2="1742.5" stroke-linecap="square"/><line x1="995.5" y1="1742.5" x2="1007.5" y2="1742.5" stroke-linecap="square"/><line x1="1007.5" y1="1742.5" x2="1018.5" y2="1742.5" stroke-linecap="square"/><line x1="1018.5" y1="1742.5" x2="1030.5" y2="1742.5" stroke-linecap="square"/><line x1="1030.5" y1="1742.5" x2="1042.5" y2="1742.5" stroke-linecap="square"/><line x1="1042.5" y1="1742.5" x2="1054.5" y2="1742.5" stroke-linecap="square"/><line x1="1054.5" y1="1742.5" x2="1065.5" y2="1742.5" stroke-linecap="square"/><line x1="1065.5" y1="1742.5" x2="1077.5" y2="1742.5" stroke-linecap="square"/><rect x="1077.5" y="1738.5" width="12" height="4"/><rect x="1089.5" y="1738.5" width="12" height="4"/><line x1="1101.5" y1="1742.5" x2="1113.5" y2="1742.5" stroke-linecap="square"/><line x1="1113.5" y1="1742.5" x2="1124.5" y2="1742.5" stroke-linecap="square"/><line x1="1124.5" y1="1742.5" x2="1136.5" y2="1742.5" stroke-linecap="square"/><line x1="1136.5" y1="1742.5" x2="1148.5" y2="1742.5" stroke-linecap="square"/><line x1="1148.5" y1="1742.5" x2="1160.5" y2="1742.5" stroke-linecap="square"/><rect x="1160.5" y="1738.5" width="12" height="4"/><rect x="1172.5" y="1738.5" width="11" height="4"/><line x1="1183.5" y1="1742.5" x2="1195.5" y2="1742.5" stroke-linecap="square"/><rect x="1195.5" y="1738.5" width="12" height="4"/><rect x="1207.5" y="1734.5" width="12" height="8"/><rect x="1219.5" y="1738.5" width="11" height="4"/><rect x="1230.5" y="1734.5" width="12" height="8"/><rect x="1242.5" y="1738.5" width="12" height="4"/><line x1="1254.5" y1="1742.5" x2="1266.5" y2="1742.5" stroke-linecap="square"/><rect x="1266.5" y="1738.5" width="12" height="4"/><rect x="1278.5" y="1717.5" width="11" height="25"/><rect x="1289.5" y="1734.5" width="12" height="8"/><rect x="1301.5" y="1734.5" width="12" height="8"/><rect x="1313.5" y="1721.5" width="12" height="21"/><rect x="1325.5" y="1721.5" width="11" height="21"/><rect x="1336.5" y="1717.5" width="12" height="25"/><rect x="1348.5" y="1713.5" width="12" height="29"/><rect x="1360.5" y="1709.5" width="12" height="33"/><rect x="1372.5" y="1704.5" width="12" height="38"/><rect x="1384.5" y="1684.5" width="11" height="58"/><rect x="1395.5" y="1704.5" width="12" height="38"/><rect x="1407.5" y="1654.5" width="12" height="88"/><rect x="1419.5" y="1700.5" width="12" height="42"/><rect x="1431.5" y="1684.5" width="12" height="58"/><rect x="1443.5" y="1679.5" width="11" height="63"/></g>
<g stroke="#66c2a5"><line x1="842.5" y1="1742.5" x2="853.5" y2="1742.5" stroke-linecap="square"/><line x1="853.5" y1="1742.5" x2="865.5" y2="1742.5" stroke-linecap="square"/><line x1="865.5" y1="1742.5" x2="877.5" y2="1742.5" stroke-linecap="square"/><line x1="877.5" y1="1742.5" x2="889.5" y2="1742.5" stroke-linecap="square"/><line x1="889.5" y1="1742.5" x2="901.5" y2="1742.5" stroke-linecap="square"/><line x1="901.5" y1="1742.5" x2="912.5" y2="1742.5" stroke-linecap="square"/><line x1="912.5" y1="1742.5" x2="924.5" y2="1742.5" stroke-linecap="square"/><line x1="924.5" y1="1742.5" x2="936.5" y2="1742.5" stroke-linecap="square"/><line x1="936.5" y1="1742.5" x2="948.5" y2="1742.5" stroke-linecap="square"/><line x1="948.5" y1="1742.5" x2="959.5" y2="1742.5" stroke-linecap="square"/><line x1="959.5" y1="1742.5" x2="971.5" y2="1742.5" stroke-linecap="square"/><line x1="971.5" y1="1742.5" x2="983.5" y2="1742.5" stroke-linecap="square"/><line x1="983.5" y1="1742.5" x2="995.5" y2="1742.5" stroke-linecap="square"/><line x1="995.5" y1="1742.5" x2="1007.5" y2="1742.5" stroke-linecap="square"/><line x1="1007.5" y1="1742.5" x2="1018.5" y2="1742.5" stroke-linecap="square"/><line x1="1018.5" y1="1742.5" x2="1030.5" y2="1742.5" stroke-linecap="square"/><line x1="1030.5" y1="1742.5" x2="1042.5" y2="1742.5" stroke-linecap="square"/><line x1="1042.5" y1="1742.5" x2="1054.5" y2="1742.5" stroke-linecap="square"/><line x1="1054.5" y1="1742.5" x2="1065.5" y2="1742.5" stroke-linecap="square"/><line x1="1065.5" y1="1742.5" x2="1077.5" y2="1742.5" stroke-linecap="square"/><line x1="1077.5" y1="1742.5" x2="1089.5" y2="1742.5" stroke-linecap="square"/><line x1="1089.5" y1="1742.5" x2="1101.5" y2="1742.5" stroke-linecap="square"/><line x1="1101.5" y1="1742.5" x2="1113.5" y2="1742.5" stroke-linecap="square"/><line x1="1113.5" y1="1742.5" x2="1124.5" y2="1742.5" stroke-linecap="square"/><line x1="1124.5" y1="1742.5" x2="1136.5" y2="1742.5" stroke-linecap="square"/><line x1="1136.5" y1="1742.5" x2="1148.5" y2="1742.5" stroke-linecap="square"/><line x1="1148.5" y1="1742.5" x2="1160.5" y2="1742.5" stroke-linecap="square"/><line x1="1160.5" y1="1742.5" x2="1172.5" y2="1742.5" stroke-linecap="square"/><line x1="1172.5" y1="1742.5" x2="1183.5" y2="1742.5" stroke-linecap="square"/><line x1="1183.5" y1="1742.5" x2="1195.5" y2="1742.5" stroke-linecap="square"/><line x1="1195.5" y1="1742.5" x2="1207.5" y2="1742.5" stroke-linecap="square"/><rect x="1207.5" y="1738.5" width="12" height="4"/><line x1="1219.5" y1="1742.5" x2="1230.5" y2="1742.5" stroke-linecap="square"/><line x1="1230.5" y1="1742.5" x2="1242.5" y2="1742.5" stroke-linecap="square"/><rect x="1242.5" y="1738.5" width="12" height="4"/><rect x="1254.5" y="1738.5" width="12" height="4"/><rect x="1266.5" y="1738.5" width="12" height="4"/><rect x="1278.5" y="1738.5" width="11" height="4"/><line x1="1289.5" y1="1742.5" x2="1301.5" y2="1742.5" stroke-linecap="square"/><rect x="1301.5" y="1734.5" width="12" height="8"/><rect x="1313.5" y="1738.5" width="12" height="4"/><rect x="1325.5" y="1738.5" width="11" height="4"/><line x1="1336.5" y1="1742.5" x2="1348.5" y2="1742.5" stroke-linecap="square"/><rect x="1348.5" y="1738.5" width="12" height="4"/><rect x="1360.5" y="1738.5" width="12" height="4"/><rect x="1372.5" y="1734.5" width="12" height="8"/><rect x="1384.5" y="1734.5" width="11" height="8"/><rect x="1395.5" y="1734.5" width="12" height="8"/><rect x="1407.5" y="1721.5" width="12" height="21"/><rect x="1419.5" y="1721.5" width="12" height="21"/><rect x="1431.5" y="1725.5" width="12" height="17"/><rect x="1443.5" y="1717.5" width="11" height="25"/></g>
<g stroke="#e5c494"><line x1="842.5" y1="1742.5" x2="853.5" y2="1742.5" stroke-linecap="square"/><line x1="853.5" y1="1742.5" x2="865.5" y2="1742.5" stroke-linecap="square"/><line x1="865.5" y1="1742.5" x2="877.5" y2="1742.5" stroke-linecap="square"/><line x1="877.5" y1="1742.5" x2="889.5" y2="1742.5" stroke-linecap="square"/><line x1="889.5" y1="1742.5" x2="901.5" y2="1742.5" stroke-linecap="square"/><line x1="901.5" y1="1742.5" x2="912.5" y2="1742.5" stroke-linecap="square"/><line x1="912.5" y1="1742.5" x2="924.5" y2="1742.5" stroke-linecap="square"/><line x1="924.5" y1="1742.5" x2="936.5" y2="1742.5" stroke-linecap="square"/><line x1="936.5" y1="1742.5" x2="948.5" y2="1742.5" stroke-linecap="square"/><line x1="948.5" y1="1742.5" x2="959.5" y2="1742.5" stroke-linecap="square"/><line x1="959.5" y1="1742.5" x2="971.5" y2="1742.5" stroke-linecap="square"/><line x1="971.5" y1="1742.5" x2="983.5" y2="1742.5" stroke-linecap="square"/><line x1="983.5" y1="1742.5" x2="995.5" y2="1742.5" stroke-linecap="square"/><line x1="995.5" y1="1742.5" x2="1007.5" y2="1742.5" stroke-linecap="square"/><line x1="1007.5" y1="1742.5" x2="1018.5" y2="1742.5" stroke-linecap="square"/><line x1="1018.5" y1="1742.5" x2="1030.5" y2="1742.5" stroke-linecap="square"/><line x1="1030.5" y1="1742.5" x2="1042.5" y2="1742.5" stroke-linecap="square"/><line x1="1042.5" y1="1742.5" x2="1054.5" y2="1742.5" stroke-linecap="square"/><line x1="1054.5" y1="1742.5" x2="1065.5" y2="1742.5" stroke-linecap="square"/><line x1="1065.5" y1="1742.5" x2="1077.5" y2="1742.5" stroke-linecap="square"/><line x1="1077.5" y1="1742.5" x2="1089.5" y2="1742.5" stroke-linecap="square"/><line x1="1089.5" y1="1742.5" x2="1101.5" y2="1742.5" stroke-linecap="square"/><line x1="1101.5" y1="1742.5" x2="1113.5" y2="1742.5" stroke-linecap="square"/><line x1="1113.5" y1="1742.5" x2="1124.5" y2="1742.5" stroke-linecap="square"/><line x1="1124.5" y1="1742.5" x2="1136.5" y2="1742.5" stroke-linecap="square"/><line x1="1136.5" y1="1742.5" x2="1148.5" y2="1742.5" stroke-linecap="square"/><line x1="1148.5" y1="1742.5" x2="1160.5" y2="1742.5" stroke-linecap="square"/><line x1="1160.5" y1="1742.5" x2="1172.5" y2="1742.5" stroke-linecap="square"/><line x1="1172.5" y1="1742.5" x2="1183.5" y2="1742.5" stroke-linecap="square"/><line x1="1183.5" y1="1742.5" x2="1195.5" y2="1742.5" stroke-linecap="square"/><line x1="1195.5" y1="1742.5" x2="1207.5" y2="1742.5" stroke-linecap="square"/><line x1="1207.5" y1="1742.5" x2="1219.5" y2="1742.5" stroke-linecap="square"/><line x1="1219.5" y1="1742.5" x2="1230.5" y2="1742.5" stroke-linecap="square"/><line x1="1230.5" y1="1742.5" x2="1242.5" y2="1742.5" stroke-linecap="square"/><line x1="1242.5" y1="1742.5" x2="1254.5" y2="1742.5" stroke-linecap="square"/><line x1="1254.5" y1="1742.5" x2="1266.5" y2="1742.5" stroke-linecap="square"/><line x1="1266.5" y1="1742.5" x2="1278.5" y2="1742.5" stroke-linecap="square"/><rect x="1278.5" y="1738.5" width="11" height="4"/><line x1="1289.5" y1="1742.5" x2="1301.5" y2="1742.5" stroke-linecap="square"/><line x1="1301.5" y1="1742.5" x2="1313.5" y2="1742.5" stroke-linecap="square"/><line x1="1313.5" y1="1742.5" x2="1325.5" y2="1742.5" stroke-linecap="square"/><line x1="1325.5" y1="1742.5" x2="1336.5" y2="1742.5" stroke-linecap="square"/><line x1="1336.5" y1="1742.5" x2="1348.5" y2="1742.5" stroke-linecap="square"/><line x1="1348.5" y1="1742.5" x2="1360.5" y2="1742.5" stroke-linecap="square"/><line x1="1360.5" y1="1742.5" x2="1372.5" y2="1742.5" stroke-linecap="square"/><rect x="1372.5" y="1738.5" width="12" height="4"/><line x1="1384.5" y1="1742.5" x2="1395.5" y2="1742.5" stroke-linecap="square"/><line x1="1395.5" y1="1742.5" x2="1407.5" y2="1742.5" stroke-linecap="square"/><rect x="1407.5" y="1734.5" width="12" height="8"/><rect x="1419.5" y="1721.5" width="12" height="21"/><rect x="1431.5" y="1734.5" width="12" height="8"/><rect x="1443.5" y="1730.5" width="11" height="12"/></g>
<g stroke="#a6d854"><line x1="842.5" y1="1742.5" x2="853.5" y2="1742.5" stroke-linecap="square"/><line x1="853.5" y1="1742.5" x2="865.5" y2="1742.5" stroke-linecap="square"/><line x1="865.5" y1="1742.5" x2="877.5" y2="1742.5" stroke-linecap="square"/><line x1="877.5" y1="1742.5" x2="889.5" y2="1742.5" stroke-linecap="square"/><line x1="889.5" y1="1742.5" x2="901.5" y2="1742.5" stroke-linecap="square"/><line x1="901.5" y1="1742.5" x2="912.5" y2="1742.5" stroke-linecap="square"/><line x1="912.5" y1="1742.5" x2="924.5" y2="1742.5" stroke-linecap="square"/><line x1="924.5" y1="1742.5" x2="936.5" y2="1742.5" stroke-linecap="square"/><line x1="936.5" y1="1742.5" x2="948.5" y2="1742.5" stroke-linecap="square"/><line x1="948.5" y1="1742.5" x2="959.5" y2="1742.5" stroke-linecap="square"/><line x1="959.5" y1="1742.5" x2="971.5" y2="1742.5" stroke-linecap="square"/><line x1="971.5" y1="1742.5" x2="983.5" y2="1742.5" stroke-linecap="square"/><line x1="983.5" y1="1742.5" x2="995.5" y2="1742.5" stroke-linecap="square"/><line x1="995.5" y1="1742.5" x2="1007.5" y2="1742.5" stroke-linecap="square"/><line x1="1007.5" y1="1742.5" x2="1018.5" y2="1742.5" stroke-linecap="square"/><line x1="1018.5" y1="1742.5" x2="1030.5" y2="1742.5" stroke-linecap="square"/><line x1="1030.5" y1="1742.5" x2="1042.5" y2="1742.5" stroke-linecap="square"/><line x1="1042.5" y1="1742.5" x2="1054.5" y2="1742.5" stroke-linecap="square"/><line x1="1054.5" y1="1742.5" x2="1065.5" y2="1742.5" stroke-linecap="square"/><line x1="1065.5" y1="1742.5" x2="1077.5" y2="1742.5" stroke-linecap="square"/><line x1="1077.5" y1="1742.5" x2="1089.5" y2="1742.5" stroke-linecap="square"/><line x1="1089.5" y1="1742.5" x2="1101.5" y2="1742.5" stroke-linecap="square"/><line x1="1101.5" y1="1742.5" x2="1113.5" y2="1742.5" stroke-linecap="square"/><line x1="1113.5" y1="1742.5" x2="1124.5" y2="1742.5" stroke-linecap="square"/><line x1="1124.5" y1="1742.5" x2="1136.5" y2="1742.5" stroke-linecap="square"/><line x1="1136.5" y1="1742.5" x2="1148.5" y2="1742.5" stroke-linecap="square"/><line x1="1148.5" y1="1742.5" x2="1160.5" y2="1742.5" stroke-linecap="square"/><line x1="1160.5" y1="1742.5" x2="1172.5" y2="1742.5" stroke-linecap="square"/><line x1="1172.5" y1="1742.5" x2="1183.5" y2="1742.5" stroke-linecap="square"/><line x1="1183.5" y1="1742.5" x2="1195.5" y2="1742.5" stroke-linecap="square"/><line x1="1195.5" y1="1742.5" x2="1207.5" y2="1742.5" stroke-linecap="square"/><line x1="1207.5" y1="1742.5" x2="1219.5" y2="1742.5" stroke-linecap="square"/><line x1="1219.5" y1="1742.5" x2="1230.5" y2="1742.5" stroke-linecap="square"/><line x1="1230.5" y1="1742.5" x2="1242.5" y2="1742.5" stroke-linecap="square"/><line x1="1242.5" y1="1742.5" x2="1254.5" y2="1742.5" stroke-linecap="square"/><line x1="1254.5" y1="1742.5" x2="1266.5" y2="1742.5" stroke-linecap="square"/><line x1="1266.5" y1="1742.5" x2="1278.5" y2="1742.5" stroke-linecap="square"/><rect x="1278.5" y="1730.5" width="11" height="12"/><rect x="1289.5" y="1738.5" width="12" height="4"/><line x1="1301.5" y1="1742.5" x2="1313.5" y2="1742.5" stroke-linecap="square"/><rect x="1313.5" y="1738.5" width="12" height="4"/><rect x="1325.5" y="1734.5" width="11" height="8"/><rect x="1336.5" y="1734.5" width="12" height="8"/><rect x="1348.5" y="1725.5" width="12" height="17"/><line x1="1360.5" y1="1742.5" x2="1372.5" y2="1742.5" stroke-linecap="square"/><line x1="1372.5" y1="1742.5" x2="1384.5" y2="1742.5" stroke-linecap="square"/><line x1="1384.5" y1="1742.5" x2="1395.5" y2="1742.5" stroke-linecap="square"/><line x1="1395.5" y1="1742.5" x2="1407.5" y2="1742.5" stroke-linecap="square"/><rect x="1407.5" y="1738.5" width="12" height="4"/><line x1="1419.5" y1="1742.5" x2="1431.5" y2="1742.5" stroke-linecap="square"/><line x1="1431.5" y1="1742.5" x2="1443.5" y2="1742.5" stroke-linecap="square"/><line x1="1443.5" y1="1742.5" x2="1454.5" y2="1742.5" stroke-linecap="square"/></g>
<g stroke="#e78ac3"><line x1="842.5" y1="1742.5" x2="853.5" y2="1742.5" stroke-linecap="square"/><line x1="853.5" y1="1742.5" x2="865.5" y2="1742.5" stroke-linecap="square"/><line x1="865.5" y1="1742.5" x2="877.5" y2="1742.5" stroke-linecap="square"/><line x1="877.5" y1="1742.5" x2="889.5" y2="1742.5" stroke-linecap="square"/><line x1="889.5" y1="1742.5" x2="901.5" y2="1742.5" stroke-linecap="square"/><line x1="901.5" y1="1742.5" x2="912.5" y2="1742.5" stroke-linecap="square"/><line x1="912.5" y1="1742.5" x2="924.5" y2="1742.5" stroke-linecap="square"/><line x1="924.5" y1="1742.5" x2="936.5" y2="1742.5" stroke-linecap="square"/><line x1="936.5" y1="1742.5" x2="948.5" y2="1742.5" stroke-linecap="square"/><line x1="948.5" y1="1742.5" x2="959.5" y2="1742.5" stroke-linecap="square"/><line x1="959.5" y1="1742.5" x2="971.5" y2="1742.5" stroke-linecap="square"/><line x1="971.5" y1="1742.5" x2="983.5" y2="1742.5" stroke-linecap="square"/><line x1="983.5" y1="1742.5" x2="995.5" y2="1742.5" stroke-linecap="square"/><line x1="995.5" y1="1742.5" x2="1007.5" y2="1742.5" stroke-linecap="square"/><line x1="1007.5" y1="1742.5" x2="1018.5" y2="1742.5" stroke-linecap="square"/><line x1="1018.5" y1="1742.5" x2="1030.5" y2="1742.5" stroke-linecap="square"/><line x1="1030.5" y1="1742.5" x2="1042.5" y2="1742.5" stroke-linecap="square"/><line x1="1042.5" y1="1742.5" x2="1054.5" y2="1742.5" stroke-linecap="square"/><line x1="1054.5" y1="1742.5" x2="1065.5" y2="1742.5" stroke-linecap="square"/><line x1="1065.5" y1="1742.5" x2="1077.5" y2="1742.5" stroke-linecap="square"/><line x1="1077.5" y1="1742.5" x2="1089.5" y2="1742.5" stroke-linecap="square"/><line x1="1089.5" y1="1742.5" x2="1101.5" y2="1742.5" stroke-linecap="square"/><line x1="1101.5" y1="1742.5" x2="1113.5" y2="1742.5" stroke-linecap="square"/><line x1="1113.5" y1="1742.5" x2="1124.5" y2="1742.5" stroke-linecap="square"/><line x1="1124.5" y1="1742.5" x2="1136.5" y2="1742.5" stroke-linecap="square"/><line x1="1136.5" y1="1742.5" x2="1148.5" y2="1742.5" stroke-linecap="square"/><line x1="1148.5" y1="1742.5" x2="1160.5" y2="1742.5" stroke-linecap="square"/><line x1="1160.5" y1="1742.5" x2="1172.5" y2="1742.5" stroke-linecap="square"/><line x1="1172.5" y1="1742.5" x2="1183.5" y2="1742.5" stroke-linecap="square"/><line x1="1183.5" y1="1742.5" x2="1195.5" y2="1742.5" stroke-linecap="square"/><line x1="1195.5" y1="1742.5" x2="1207.5" y2="1742.5" stroke-linecap="square"/><line x1="1207.5" y1="1742.5" x2="1219.5" y2="1742.5" stroke-linecap="square"/><line x1="1219.5" y1="1742.5" x2="1230.5" y2="1742.5" stroke-linecap="square"/><line x1="1230.5" y1="1742.5" x2="1242.5" y2="1742.5" stroke-linecap="square"/><rect x="1242.5" y="1738.5" width="12" height="4"/><line x1="1254.5" y1="1742.5" x2="1266.5" y2="1742.5" stroke-linecap="square"/><line x1="1266.5" y1="1742.5" x2="1278.5" y2="1742.5" stroke-linecap="square"/><line x1="1278.5" y1="1742.5" x2="1289.5" y2="1742.5" stroke-linecap="square"/><line x1="1289.5" y1="1742.5" x2="1301.5" y2="1742.5" stroke-linecap="square"/><rect x="1301.5" y="1738.5" width="12" height="4"/><line x1="1313.5" y1="1742.5" x2="1325.5" y2="1742.5" stroke-linecap="square"/><line x1="1325.5" y1="1742.5" x2="1336.5" y2="1742.5" stroke-linecap="square"/><rect x="1336.5" y="1734.5" width="12" height="8"/><rect x="1348.5" y="1734.5" width="12" height="8"/><line x1="1360.5" y1="1742.5" x2="1372.5" y2="1742.5" stroke-linecap="square"/><rect x="1372.5" y="1730.5" width="12" height="12"/><rect x="1384.5" y="1738.5" width="11" height="4"/><rect x="1395.5" y="1738.5" width="12" height="4"/><rect x="1407.5" y="1721.5" width="12" height="21"/><rect x="1419.5" y="1725.5" width="12" height="17"/><rect x="1431.5" y="1730.5" width="12" height="12"/><rect x="1443.5" y="1713.5" width="11" height="29"/></g>
<g stroke="#a6d854"><line x1="842.5" y1="1742.5" x2="853.5" y2="1742.5" stroke-linecap="square"/><line x1="853.5" y1="1742.5" x2="865.5" y2="1742.5" stroke-linecap="square"/><line x1="865.5" y1="1742.5" x2="877.5" y2="1742.5" stroke-linecap="square"/><line x1="877.5" y1="1742.5" x2="889.5" y2="1742.5" stroke-linecap="square"/><line x1="889.5" y1="1742.5" x2="901.5" y2="1742.5" stroke-linecap="square"/><line x1="901.5" y1="1742.5" x2="912.5" y2="1742.5" stroke-linecap="square"/><line x1="912.5" y1="1742.5" x2="924.5" y2="1742.5" stroke-linecap="square"/><line x1="924.5" y1="1742.5" x2="936.5" y2="1742.5" stroke-linecap="square"/><line x1="936.5" y1="1742.5" x2="948.5" y2="1742.5" stroke-linecap="square"/><line x1="948.5" y1="1742.5" x2="959.5" y2="1742.5" stroke-linecap="square"/><line x1="959.5" y1="1742.5" x2="971.5" y2="1742.5" stroke-linecap="square"/><line x1="971.5" y1="1742.5" x2="983.5" y2="1742.5" stroke-linecap="square"/><line x1="983.5" y1="1742.5" x2="995.5" y2="1742.5" stroke-linecap="square"/><line x1="995.5" y1="1742.5" x2="1007.5" y2="1742.5" stroke-linecap="square"/><line x1="1007.5" y1="1742.5" x2="1018.5" y2="1742.5" stroke-linecap="square"/><line x1="1018.5" y1="1742.5" x2="1030.5" y2="1742.5" stroke-linecap="square"/><line x1="1030.5" y1="1742.5" x2="1042.5" y2="1742.5" stroke-linecap="square"/><line x1="1042.5" y1="1742.5" x2="1054.5" y2="1742.5" stroke-linecap="square"/><line x1="1054.5" y1="1742.5" x2="1065.5" y2="1742.5" stroke-linecap="square"/><line x1="1065.5" y1="1742.5" x2="1077.5" y2="1742.5" stroke-linecap="square"/><line x1="1077.5" y1="1742.5" x2="1089.5" y2="1742.5" stroke-linecap="square"/><line x1="1089.5" y1="1742.5" x2="1101.5" y2="1742.5" stroke-linecap="square"/><line x1="1101.5" y1="1742.5" x2="1113.5" y2="1742.5" stroke-linecap="square"/><line x1="1113.5" y1="1742.5" x2="1124.5" y2="1742.5" stroke-linecap="square"/><line x1="1124.5" y1="1742.5" x2="1136.5" y2="1742.5" stroke-linecap="square"/><line x1="1136.5" y1="1742.5" x2="1148.5" y2="1742.5" stroke-linecap="square"/><line x1="1148.5" y1="1742.5" x2="1160.5" y2="1742.5" stroke-linecap="square"/><line x1="1160.5" y1="1742.5" x2="1172.5" y2="1742.5" stroke-linecap="square"/><line x1="1172.5" y1="1742.5" x2="1183.5" y2="1742.5" stroke-linecap="square"/><line x1="1183.5" y1="1742.5" x2="1195.5" y2="1742.5" stroke-linecap="square"/><rect x="1195.5" y="1738.5" width="12" height="4"/><line x1="1207.5" y1="1742.5" x2="1219.5" y2="1742.5" stroke-linecap="square"/><line x1="1219.5" y1="1742.5" x2="1230.5" y2="1742.5" stroke-linecap="square"/><rect x="1230.5" y="1738.5" width="12" height="4"/><rect x="1242.5" y="1730.5" width="12" height="12"/><rect x="1254.5" y="1738.5" width="12" height="4"/><rect x="1266.5" y="1738.5" width="12" height="4"/><rect x="1278.5" y="1734.5" width="11" height="8"/><rect x="1289.5" y="1734.5" width="12" height="8"/><rect x="1301.5" y="1738.5" width="12" height="4"/><rect x="1313.5" y="1717.5" width="12" height="25"/><rect x="1325.5" y="1717.5" width="11" height="25"/><rect x="1336.5" y="1721.5" width="12" height="21"/><rect x="1348.5" y="1730.5" width="12" height="12"/><rect x="1360.5" y="1725.5" width="12" height="17"/><rect x="1372.5" y="1692.5" width="12" height="50"/><rect x="1384.5" y="1721.5" width="11" height="21"/><rect x="1395.5" y="1704.5" width="12" height="38"/><rect x="1407.5" y="1679.5" width="12" height="63"/><rect x="1419.5" y="1658.5" width="12" height="84"/><rect x="1431.5" y="1629.5" width="12" height="113"/><rect x="1443.5" y="1658.5" width="11" height="84"/></g>
<g stroke="#b3b3b3"><line x1="842.5" y1="1742.5" x2="853.5" y2="1742.5" stroke-linecap="square"/><line x1="853.5" y1="1742.5" x2="865.5" y2="1742.5" stroke-linecap="square"/><line x1="865.5" y1="1742.5" x2="877.5" y2="1742.5" stroke-linecap="square"/><line x1="877.5" y1="1742.5" x2="889.5" y2="1742.5" stroke-linecap="square"/><line x1="889.5" y1="1742.5" x2="901.5" y2="1742.5" stroke-linecap="square"/><line x1="901.5" y1="1742.5" x2="912.5" y2="1742.5" stroke-linecap="square"/><line x1="912.5" y1="1742.5" x2="924.5" y2="1742.5" stroke-linecap="square"/><line x1="924.5" y1="1742.5" x2="936.5" y2="1742.5" stroke-linecap="square"/><line x1="936.5" y1="1742.5" x2="948.5" y2="1742.5" stroke-linecap="square"/><line x1="948.5" y1="1742.5" x2="959.5" y2="1742.5" stroke-linecap="square"/><line x1="959.5" y1="1742.5" x2="971.5" y2="1742.5" stroke-linecap="square"/><line x1="971.5" y1="1742.5" x2="983.5" y2="1742.5" stroke-linecap="square"/><line x1="983.5" y1="1742.5" x2="995.5" y2="1742.5" stroke-linecap="square"/><line x1="995.5" y1="1742.5" x2="1007.5" y2="1742.5" stroke-linecap="square"/><line x1="1007.5" y1="1742.5" x2="1018.5" y2="1742.5" stroke-linecap="square"/><line x1="1018.5" y1="1742.5" x2="1030.5" y2="1742.5" stroke-linecap="square"/><line x1="1030.5" y1="1742.5" x2="1042.5" y2="1742.5" stroke-linecap="square"/><line x1="1042.5" y1="1742.5" x2="1054.5" y2="1742.5" stroke-linecap="square"/><line x1="1054.5" y1="1742.5" x2="1065.5" y2="1742.5" stroke-linecap="square"/><line x1="1065.5" y1="1742.5" x2="1077.5" y2="1742.5" stroke-linecap="square"/><line x1="1077.5" y1="1742.5" x2="1089.5" y2="1742.5" stroke-linecap="square"/><rect x="1089.5" y="1738.5" width="12" height="4"/><line x1="1101.5" y1="1742.5" x2="1113.5" y2="1742.5" stroke-linecap="square"/><rect x="1113.5" y="1738.5" width="11" height="4"/><rect x="1124.5" y="1738.5" width="12" height="4"/><rect x="1136.5" y="1738.5" width="12" height="4"/><rect x="1148.5" y="1738.5" width="12" height="4"/><rect x="1160.5" y="1738.5" width="12" height="4"/><rect x="1172.5" y="1738.5" width="11" height="4"/><rect x="1183.5" y="1734.5" width="12" height="8"/><rect x="1195.5" y="1734.5" width="12" height="8"/><rect x="1207.5" y="1738.5" width="12" height="4"/><rect x="1219.5" y="1738.5" width="11" height="4"/><rect x="1230.5" y="1738.5" width="12" height="4"/><rect x="1242.5" y="1734.5" width="12" height="8"/><rect x="1254.5" y="1730.5" width="12" height="12"/><rect x="1266.5" y="1717.5" width="12" height="25"/><rect x="1278.5" y="1700.5" width="11" height="42"/><rect x="1289.5" y="1704.5" width="12" height="38"/><rect x="1301.5" y="1692.5" width="12" height="50"/><rect x="1313.5" y="1700.5" width="12" height="42"/><rect x="1325.5" y="1671.5" width="11" height="71"/><rect x="1336.5" y="1667.5" width="12" height="75"/><rect x="1348.5" y="1658.5" width="12" height="84"/><rect x="1360.5" y="1633.5" width="12" height="109"/><rect x="1372.5" y="1613.5" width="12" height="129"/><rect x="1384.5" y="1525.5" width="11" height="217"/><rect x="1395.5" y="1516.5" width="12" height="226"/><rect x="1407.5" y="1491.5" width="12" height="251"/><rect x="1419.5" y="1479.5" width="12" height="263"/><rect x="1431.5" y="1491.5" width="12" height="251"/><rect x="1443.5" y="1429.5" width="11" height="313"/></g>
<g stroke="#ffd92f"><line x1="842.5" y1="1742.5" x2="853.5" y2="1742.5" stroke-linecap="square"/><line x1="853.5" y1="1742.5" x2="865.5" y2="1742.5" stroke-linecap="square"/><line x1="865.5" y1="1742.5" x2="877.5" y2="1742.5" stroke-linecap="square"/><line x1="877.5" y1="1742.5" x2="889.5" y2="1742.5" stroke-linecap="square"/><line x1="889.5" y1="1742.5" x2="901.5" y2="1742.5" stroke-linecap="square"/><line x1="901.5" y1="1742.5" x2="912.5" y2="1742.5" stroke-linecap="square"/><line x1="912.5" y1="1742.5" x2="924.5" y2="1742.5" stroke-linecap="square"/><line x1="924.5" y1="1742.5" x2="936.5" y2="1742.5" stroke-linecap="square"/><line x1="936.5" y1="1742.5" x2="948.5" y2="1742.5" stroke-linecap="square"/><line x1="948.5" y1="1742.5" x2="959.5" y2="1742.5" stroke-linecap="square"/><line x1="959.5" y1="1742.5" x2="971.5" y2="1742.5" stroke-linecap="square"/><rect x="971.5" y="1738.5" width="12" height="4"/><line x1="983.5" y1="1742.5" x2="995.5" y2="1742.5" stroke-linecap="square"/><line x1="995.5" y1="1742.5" x2="1007.5" y2="1742.5" stroke-linecap="square"/><line x1="1007.5" y1="1742.5" x2="1018.5" y2="1742.5" stroke-linecap="square"/><rect x="1018.5" y="1734.5" width="12" height="8"/><rect x="1030.5" y="1738.5" width="12" height="4"/><rect x="1042.5" y="1734.5" width="12" height="8"/><rect x="1054.5" y="1738.5" width="11" height="4"/><rect x="1065.5" y="1738.5" width="12" height="4"/><rect x="1077.5" y="1738.5" width="12" height="4"/><rect x="1089.5" y="1730.5" width="12" height="12"/><line x1="1101.5" y1="1742.5" x2="1113.5" y2="1742.5" stroke-linecap="square"/><rect x="1113.5" y="1734.5" width="11" height="8"/><rect x="1124.5" y="1738.5" width="12" height="4"/><rect x="1136.5" y="1730.5" width="12" height="12"/><rect x="1148.5" y="1730.5" width="12" height="12"/><rect x="1160.5" y="1713.5" width="12" height="29"/><rect x="1172.5" y="1713.5" width="11" height="29"/><rect x="1183.5" y="1709.5" width="12" height="33"/><rect x="1195.5" y="1704.5" width="12" height="38"/><rect x="1207.5" y="1696.5" width="12" height="46"/><rect x="1219.5" y="1667.5" width="11" height="75"/><rect x="1230.5" y="1692.5" width="12" height="50"/><rect x="1242.5" y="1688.5" width="12" height="54"/><rect x="1254.5" y="1650.5" width="12" height="92"/><rect x="1266.5" y="1667.5" width="12" height="75"/><rect x="1278.5" y="1604.5" width="11" height="138"/><rect x="1289.5" y="1638.5" width="12" height="104"/><rect x="1301.5" y="1600.5" width="12" height="142"/><rect x="1313.5" y="1617.5" width="12" height="125"/><rect x="1325.5" y="1596.5" width="11" height="146"/><rect x="1336.5" y="1558.5" width="12" height="184"/><rect x="1348.5" y="1629.5" width="12" height="113"/><rect x="1360.5" y="1579.5" width="12" height="163"/><rect x="1372.5" y="1567.5" width="12" height="175"/><rect x="1384.5" y="1592.5" width="11" height="150"/><rect x="1395.5" y="1642.5" width="12" height="100"/><rect x="1407.5" y="1541.5" width="12" height="201"/><rect x="1419.5" y="1671.5" width="12" height="71"/><rect x="1431.5" y="1629.5" width="12" height="113"/><rect x="1443.5" y="1633.5" width="11" height="109"/></g>
<g stroke="#e5c494"><line x1="842.5" y1="1742.5" x2="853.5" y2="1742.5" stroke-linecap="square"/><line x1="853.5" y1="1742.5" x2="865.5" y2="1742.5" stroke-linecap="square"/><line x1="865.5" y1="1742.5" x2="877.5" y2="1742.5" stroke-linecap="square"/><line x1="877.5" y1="1742.5" x2="889.5" y2="1742.5" stroke-linecap="square"/><line x1="889.5" y1="1742.5" x2="901.5" y2="1742.5" stroke-linecap="square"/><line x1="901.5" y1="1742.5" x2="912.5" y2="1742.5" stroke-linecap="square"/><line x1="912.5" y1="1742.5" x2="924.5" y2="1742.5" stroke-linecap="square"/><line x1="924.5" y1="1742.5" x2="936.5" y2="1742.5" stroke-linecap="square"/><line x1="936.5" y1="1742.5" x2="948.5" y2="1742.5" stroke-linecap="square"/><line x1="948.5" y1="1742.5" x2="959.5" y2="1742.5" stroke-linecap="square"/><line x1="959.5" y1="1742.5" x2="971.5" y2="1742.5" stroke-linecap="square"/><line x1="971.5" y1="1742.5" x2="983.5" y2="1742.5" stroke-linecap="square"/><line x1="983.5" y1="1742.5" x2="995.5" y2="1742.5" stroke-linecap="square"/><line x1="995.5" y1="1742.5" x2="1007.5" y2="1742.5" stroke-linecap="square"/><line x1="1007.5" y1="1742.5" x2="1018.5" y2="1742.5" stroke-linecap="square"/><rect x="1018.5" y="1738.5" width="12" height="4"/><rect x="1030.5" y="1738.5" width="12" height="4"/><rect x="1042.5" y="1738.5" width="12" height="4"/><line x1="1054.5" y1="1742.5" x2="1065.5" y2="1742.5" stroke-linecap="square"/><rect x="1065.5" y="1734.5" width="12" height="8"/><rect x="1077.5" y="1730.5" width="12" height="12"/><rect x="1089.5" y="1734.5" width="12" height="8"/><rect x="1101.5" y="1730.5" width="12" height="12"/><rect x="1113.5" y="1725.5" width="11" height="17"/><rect x="1124.5" y="1704.5" width="12" height="38"/><rect x="1136.5" y="1709.5" width="12" height="33"/><rect x="1148.5" y="1704.5" width="12" height="38"/><rect x="1160.5" y="1696.5" width="12" height="46"/><rect x="1172.5" y="1692.5" width="11" height="50"/><rect x="1183.5" y="1625.5" width="12" height="117"/><rect x="1195.5" y="1671.5" width="12" height="71"/><rect x="1207.5" y="1604.5" width="12" height="138"/><rect x="1219.5" y="1583.5" width="11" height="159"/><rect x="1230.5" y="1579.5" width="12" height="163"/><rect x="1242.5" y="1487.5" width="12" height="255"/><rect x="1254.5" y="1541.5" width="12" height="201"/><rect x="1266.5" y="1466.5" width="12" height="276"/><rect x="1278.5" y="1445.5" width="11" height="297"/><rect x="1289.5" y="1399.5" width="12" height="343"/><rect x="1301.5" y="1358.5" width="12" height="384"/><rect x="1313.5" y="1307.5" width="12" height="435"/><rect x="1325.5" y="1040.5" width="11" height="702"/><rect x="1336.5" y="1149.5" width="12" height="593"/><rect x="1348.5" y="969.5" width="12" height="773"/><rect x="1360.5" y="1094.5" width="12" height="648"/><rect x="1372.5" y="1036.5" width="12" height="706"/><rect x="1384.5" y="973.5" width="11" height="769"/><rect x="1395.5" y="994.5" width="12" height="748"/><rect x="1407.5" y="969.5" width="12" height="773"/><rect x="1419.5" y="1103.5" width="12" height="639"/><rect x="1431.5" y="1086.5" width="12" height="656"/><rect x="1443.5" y="1161.5" width="11" height="581"/></g>
<g stroke="#e78ac3"><rect x="842.5" y="1738.5" width="11" height="4"/><line x1="853.5" y1="1742.5" x2="865.5" y2="1742.5" stroke-linecap="square"/><line x1="865.5" y1="1742.5" x2="877.5" y2="1742.5" stroke-linecap="square"/><line x1="877.5" y1="1742.5" x2="889.5" y2="1742.5" stroke-linecap="square"/><line x1="889.5" y1="1742.5" x2="901.5" y2="1742.5" stroke-linecap="square"/><line x1="901.5" y1="1742.5" x2="912.5" y2="1742.5" stroke-linecap="square"/><line x1="912.5" y1="1742.5" x2="924.5" y2="1742.5" stroke-linecap="square"/><line x1="924.5" y1="1742.5" x2="936.5" y2="1742.5" stroke-linecap="square"/><line x1="936.5" y1="1742.5" x2="948.5" y2="1742.5" stroke-linecap="square"/><line x1="948.5" y1="1742.5" x2="959.5" y2="1742.5" stroke-linecap="square"/><rect x="959.5" y="1738.5" width="12" height="4"/><rect x="971.5" y="1738.5" width="12" height="4"/><line x1="983.5" y1="1742.5" x2="995.5" y2="1742.5" stroke-linecap="square"/><line x1="995.5" y1="1742.5" x2="1007.5" y2="1742.5" stroke-linecap="square"/><rect x="1007.5" y="1738.5" width="11" height="4"/><rect x="1018.5" y="1738.5" width="12" height="4"/><rect x="1030.5" y="1738.5" width="12" height="4"/><line x1="1042.5" y1="1742.5" x2="1054.5" y2="1742.5" stroke-linecap="square"/><rect x="1054.5" y="1734.5" width="11" height="8"/><rect x="1065.5" y="1738.5" width="12" height="4"/><rect x="1077.5" y="1738.5" width="12" height="4"/><rect x="1089.5" y="1721.5" width="12" height="21"/><rect x="1101.5" y="1738.5" width="12" height="4"/><rect x="1113.5" y="1721.5" width="11" height="21"/><rect x="1124.5" y="1721.5" width="12" height="21"/><rect x="1136.5" y="1704.5" width="12" height="38"/><rect x="1148.5" y="1713.5" width="12" height="29"/><rect x="1160.5" y="1704.5" width="12" height="38"/><rect x="1172.5" y="1717.5" width="11" height="25"/><rect x="1183.5" y="1700.5" width="12" height="42"/><rect x="1195.5" y="1704.5" width="12" height="38"/><rect x="1207.5" y="1684.5" width="12" height="58"/><rect x="1219.5" y="1688.5" width="11" height="54"/><rect x="1230.5" y="1696.5" width="12" height="46"/><rect x="1242.5" y="1704.5" width="12" height="38"/><rect x="1254.5" y="1679.5" width="12" height="63"/><rect x="1266.5" y="1667.5" width="12" height="75"/><rect x="1278.5" y="1658.5" width="11" height="84"/><rect x="1289.5" y="1642.5" width="12" height="100"/><rect x="1301.5" y="1633.5" width="12" height="109"/><rect x="1313.5" y="1654.5" width="12" height="88"/><rect x="1325.5" y="1629.5" width="11" height="113"/><rect x="1336.5" y="1596.5" width="12" height="146"/><rect x="1348.5" y="1613.5" width="12" height="129"/><rect x="1360.5" y="1633.5" width="12" height="109"/><rect x="1372.5" y="1600.5" width="12" height="142"/><rect x="1384.5" y="1629.5" width="11" height="113"/><rect x="1395.5" y="1617.5" width="12" height="125"/><rect x="1407.5" y="1592.5" width="12" height="150"/><rect x="1419.5" y="1558.5" width="12" height="184"/><rect x="1431.5" y="1650.5" width="12" height="92"/><rect x="1443.5" y="1638.5" width="11" height="104"/></g>
</g>
<g stroke="#b0b0b0" stroke-width="1">
<line x1="902.5" x2="902.5" y1="930.5" y2="1742.5"/>
<line x1="1012.5" x2="1012.5" y1="930.5" y2="1742.5"/>
<line x1="1123.5" x2="1123.5" y1="930.5" y2="1742.5"/>
<line x1="1233.5" x2="1233.5" y1="930.5" y2="1742.5"/>
<line x1="1343.5" x2="1343.5" y1="930.5" y2="1742.5"/>
<line x1="1454.5" x2="1454.5" y1="930.5" y2="1742.5"/>
<line x1="811.5" x2="1485.5" y1="1742.5" y2="1742.5"/>
<line x1="811.5" x2="1485.5" y1="1634.5" y2="1634.5"/>
<line x1="811.5" x2="1485.5" y1="1527.5" y2="1527.5"/>
<line x1="811.5" x2="1485.5" y1="1419.5" y2="1419.5"/>
<line x1="811.5" x2="1485.5" y1="1311.5" y2="1311.5"/>
<line x1="811.5" x2="1485.5" y1="1203.5" y2="1203.5"/>
<line x1="811.5" x2="1485.5" y1="1096.5" y2="1096.5"/>
<line x1="811.5" x2="1485.5" y1="988.5" y2="988.5"/>
</g>
<g fill="none" stroke-width="2.08" stroke-linecap="square" stroke-linejoin="round">
<polyline stroke="#fc8d62" points="1236.33,1740.35 1237.43,1740.31 1238.52,1740.28 1239.62,1740.25 1240.72,1740.22 1241.81,1740.18 1242.91,1740.15 1244,1740.12 1245.1,1740.09 1246.19,1740.06 1247.29,1740.04 1248.38,1740.01 1249.48,1739.98 1250.57,1739.96 1251.67,1739.93 1252.77,1739.91 1253.86,1739.89 1254.96,1739.86 1256.05,1739.84 1257.15,1739.82 1258.24,1739.8 1259.34,1739.78 1260.43,1739.77 1261.53,1739.75 1262.62,1739.73 1263.72,1739.72 1264.82,1739.7 1265.91,1739.69 1267.01,1739.68 1268.1,1739.66 1269.2,1739.65 1270.29,1739.64 1271.39,1739.63 1272.48,1739.62 1273.58,1739.61 1274.67,1739.6 1275.77,1739.59 1276.86,1739.57 1277.96,1739.56 1279.06,1739.55 1280.15,1739.54 1281.25,1739.53 1282.34,1739.51 1283.44,1739.5 1284.53,1739.48 1285.63,1739.46 1286.72,1739.44 1287.82,1739.42 1288.91,1739.4 1290.01,1739.38 1291.11,1739.35 1292.2,1739.33 1293.3,1739.3 1294.39,1739.27 1295.49,1739.24 1296.58,1739.2 1297.68,1739.16 1298.77,1739.12 1299.87,1739.08 1300.96,1739.04 1302.06,1738.99 1303.16,1738.94 1304.25,1738.89 1305.35,1738.83 1306.44,1738.78 1307.54,1738.72 1308.63,1738.66 1309.73,1738.59 1310.82,1738.53 1311.92,1738.46 1313.01,1738.39 1314.11,1738.32 1315.2,1738.24 1316.3,1738.17 1317.4,1738.09 1318.49,1738.01 1319.59,1737.93 1320.68,1737.85 1321.78,1737.76 1322.87,1737.68 1323.97,1737.59 1325.06,1737.5 1326.16,1737.41 1327.25,1737.32 1328.35,1737.23 1329.45,1737.14 1330.54,1737.05 1331.64,1736.96 1332.73,1736.86 1333.83,1736.77 1334.92,1736.68 1336.02,1736.58 1337.11,1736.49 1338.21,1736.39 1339.3,1736.3 1340.4,1736.2 1341.49,1736.11 1342.59,1736.01 1343.69,1735.92 1344.78,1735.82 1345.88,1735.73 1346.97,1735.63 1348.07,1735.54 1349.16,1735.44 1350.26,1735.35 1351.35,1735.25 1352.45,1735.16 1353.54,1735.06 1354.64,1734.97 1355.74,1734.87 1356.83,1734.77 1357.93,1734.68 1359.02,1734.58 1360.12,1734.49 1361.21,1734.39 1362.31,1734.29 1363.4,1734.19 1364.5,1734.09 1365.59,1734 1366.69,1733.9 1367.79,1733.8 1368.88,1733.69 1369.98,1733.59 1371.07,1733.49 1372.17,1733.38 1373.26,1733.28 1374.36,1733.17 1375.45,1733.06 1376.55,1732.96 1377.64,1732.85 1378.74,1732.73 1379.83,1732.62 1380.93,1732.51 1382.03,1732.39 1383.12,1732.27 1384.22,1732.15 1385.31,1732.03 1386.41,1731.91 1387.5,1731.79 1388.6,1731.67 1389.69,1731.54 1390.79,1731.42 1391.88,1731.29 1392.98,1731.16 1394.08,1731.03 1395.17,1730.9 1396.27,1730.77 1397.36,1730.64 1398.46,1730.52 1399.55,1730.39 1400.65,1730.26 1401.74,1730.13 1402.84,1730.01 1403.93,1729.89 1405.03,1729.76 1406.12,1729.65 1407.22,1729.53 1408.32,1729.42 1409.41,1729.31 1410.51,1729.21 1411.6,1729.11 1412.7,1729.02 1413.79,1728.93 1414.89,1728.85 1415.98,1728.78 1417.08,1728.71 1418.17,1728.65 1419.27,1728.6 1420.37,1728.56 1421.46,1728.53 1422.56,1728.5 1423.65,1728.49 1424.75,1728.49 1425.84,1728.5 1426.94,1728.51 1428.03,1728.54 1429.13,1728.59 1430.22,1728.64 1431.32,1728.7 1432.42,1728.78 1433.51,1728.87 1434.61,1728.97 1435.7,1729.08 1436.8,1729.2 1437.89,1729.34 1438.99,1729.48 1440.08,1729.64 1441.18,1729.81 1442.27,1729.99 1443.37,1730.18 1444.46,1730.38 1445.56,1730.58 1446.66,1730.8 1447.75,1731.02 1448.85,1731.26 1449.94,1731.5 1451.04,1731.74 1452.13,1731.99 1453.23,1732.25 1454.32,1732.51"/>
<polyline stroke="#ffd92f" points="1083.15,1741.25 1085.02,1741.25 1086.88,1741.25 1088.75,1741.25 1090.61,1741.25 1092.48,1741.25 1094.34,1741.26 1096.21,1741.26 1098.07,1741.27 1099.94,1741.27 1101.8,1741.28 1103.67,1741.28 1105.53,1741.29 1107.4,1741.3 1109.26,1741.3 1111.13,1741.31 1113,1741.32 1114.86,1741.33 1116.73,1741.33 1118.59,1741.34 1120.46,1741.35 1122.32,1741.36 1124.19,1741.36 1126.05,1741.37 1127.92,1741.37 1129.78,1741.38 1131.65,1741.38 1133.51,1741.39 1135.38,1741.39 1137.24,1741.39 1139.11,1741.39 1140.97,1741.39 1142.84,1741.39 1144.7,1741.39 1146.57,1741.39 1148.43,1741.39 1150.3,1741.38 1152.16,1741.37 1154.03,1741.37 1155.89,1741.36 1157.76,1741.35 1159.62,1741.34 1161.49,1741.32 1163.36,1741.31 1165.22,1741.29 1167.09,1741.28 1168.95,1741.26 1170.82,1741.24 1172.68,1741.22 1174.55,1741.19 1176.41,1741.17 1178.28,1741.15 1180.14,1741.12 1182.01,1741.09 1183.87,1741.06 1185.74,1741.04 1187.6,1741.01 1189.47,1740.98 1191.33,1740.94 1193.2,1740.91 1195.06,1740.88 1196.93,1740.85 1198.79,1740.81 1200.66,1740.78 1202.52,1740.75 1204.39,1740.72 1206.25,1740.68 1208.12,1740.65 1209.98,1740.62 1211.85,1740.59 1213.72,1740.55 1215.58,1740.52 1217.45,1740.49 1219.31,1740.46 1221.18,1740.44 1223.04,1740.41 1224.91,1740.38 1226.77,1740.36 1228.64,1740.33 1230.5,1740.31 1232.37,1740.29 1234.23,1740.27 1236.1,1740.25 1237.96,1740.23 1239.83,1740.21 1241.69,1740.2 1243.56,1740.18 1245.42,1740.16 1247.29,1740.15 1249.15,1740.14 1251.02,1740.13 1252.88,1740.11 1254.75,1740.1 1256.61,1740.09 1258.48,1740.08 1260.34,1740.07 1262.21,1740.06 1264.08,1740.05 1265.94,1740.03 1267.81,1740.02 1269.67,1740.01 1271.54,1740 1273.4,1739.98 1275.27,1739.96 1277.13,1739.95 1279,1739.93 1280.86,1739.91 1282.73,1739.88 1284.59,1739.86 1286.46,1739.83 1288.32,1739.8 1290.19,1739.77 1292.05,1739.74 1293.92,1739.7 1295.78,1739.66 1297.65,1739.62 1299.51,1739.57 1301.38,1739.52 1303.24,1739.47 1305.11,1739.41 1306.97,1739.35 1308.84,1739.29 1310.7,1739.23 1312.57,1739.16 1314.43,1739.08 1316.3,1739.01 1318.17,1738.93 1320.03,1738.84 1321.9,1738.76 1323.76,1738.66 1325.63,1738.57 1327.49,1738.47 1329.36,1738.37 1331.22,1738.26 1333.09,1738.15 1334.95,1738.04 1336.82,1737.92 1338.68,1737.8 1340.55,1737.67 1342.41,1737.55 1344.28,1737.42 1346.14,1737.28 1348.01,1737.15 1349.87,1737.01 1351.74,1736.87 1353.6,1736.72 1355.47,1736.58 1357.33,1736.43 1359.2,1736.28 1361.06,1736.14 1362.93,1735.99 1364.79,1735.84 1366.66,1735.69 1368.53,1735.54 1370.39,1735.4 1372.26,1735.25 1374.12,1735.11 1375.99,1734.97 1377.85,1734.83 1379.72,1734.7 1381.58,1734.57 1383.45,1734.44 1385.31,1734.32 1387.18,1734.21 1389.04,1734.1 1390.91,1734 1392.77,1733.9 1394.64,1733.82 1396.5,1733.74 1398.37,1733.67 1400.23,1733.61 1402.1,1733.56 1403.96,1733.51 1405.83,1733.48 1407.69,1733.46 1409.56,1733.44 1411.42,1733.44 1413.29,1733.45 1415.15,1733.47 1417.02,1733.5 1418.89,1733.54 1420.75,1733.59 1422.62,1733.65 1424.48,1733.72 1426.35,1733.8 1428.21,1733.89 1430.08,1733.99 1431.94,1734.1 1433.81,1734.21 1435.67,1734.34 1437.54,1734.47 1439.4,1734.61 1441.27,1734.76 1443.13,1734.92 1445,1735.08 1446.86,1735.24 1448.73,1735.41 1450.59,1735.59 1452.46,1735.77 1454.32,1735.95"/>
<polyline stroke="#8da0cb" points="1189.2,1740.37 1190.53,1740.32 1191.87,1740.27 1193.2,1740.22 1194.53,1740.16 1195.86,1740.11 1197.19,1740.06 1198.53,1740 1199.86,1739.94 1201.19,1739.89 1202.52,1739.83 1203.86,1739.77 1205.19,1739.71 1206.52,1739.64 1207.85,1739.58 1209.19,1739.52 1210.52,1739.45 1211.85,1739.39 1213.18,1739.33 1214.51,1739.26 1215.85,1739.2 1217.18,1739.13 1218.51,1739.07 1219.84,1739.01 1221.18,1738.95 1222.51,1738.88 1223.84,1738.82 1225.17,1738.77 1226.5,1738.71 1227.84,1738.66 1229.17,1738.61 1230.5,1738.56 1231.83,1738.51 1233.17,1738.47 1234.5,1738.43 1235.83,1738.39 1237.16,1738.36 1238.5,1738.32 1239.83,1738.3 1241.16,1738.27 1242.49,1738.25 1243.82,1738.23 1245.16,1738.22 1246.49,1738.21 1247.82,1738.2 1249.15,1738.19 1250.49,1738.19 1251.82,1738.19 1253.15,1738.19 1254.48,1738.19 1255.81,1738.19 1257.15,1738.2 1258.48,1738.2 1259.81,1738.21 1261.14,1738.22 1262.48,1738.23 1263.81,1738.23 1265.14,1738.24 1266.47,1738.25 1267.81,1738.25 1269.14,1738.25 1270.47,1738.26 1271.8,1738.26 1273.13,1738.26 1274.47,1738.25 1275.8,1738.24 1277.13,1738.24 1278.46,1738.22 1279.8,1738.21 1281.13,1738.19 1282.46,1738.17 1283.79,1738.15 1285.12,1738.12 1286.46,1738.09 1287.79,1738.06 1289.12,1738.02 1290.45,1737.98 1291.79,1737.94 1293.12,1737.89 1294.45,1737.84 1295.78,1737.78 1297.12,1737.72 1298.45,1737.66 1299.78,1737.6 1301.11,1737.53 1302.44,1737.45 1303.78,1737.38 1305.11,1737.29 1306.44,1737.21 1307.77,1737.12 1309.11,1737.03 1310.44,1736.93 1311.77,1736.83 1313.1,1736.72 1314.43,1736.61 1315.77,1736.49 1317.1,1736.37 1318.43,1736.25 1319.76,1736.12 1321.1,1735.98 1322.43,1735.84 1323.76,1735.7 1325.09,1735.55 1326.43,1735.4 1327.76,1735.24 1329.09,1735.07 1330.42,1734.91 1331.75,1734.73 1333.09,1734.55 1334.42,1734.37 1335.75,1734.18 1337.08,1733.99 1338.42,1733.79 1339.75,1733.59 1341.08,1733.38 1342.41,1733.16 1343.74,1732.94 1345.08,1732.71 1346.41,1732.48 1347.74,1732.23 1349.07,1731.99 1350.41,1731.73 1351.74,1731.46 1353.07,1731.19 1354.4,1730.9 1355.74,1730.61 1357.07,1730.31 1358.4,1729.99 1359.73,1729.66 1361.06,1729.33 1362.4,1728.98 1363.73,1728.62 1365.06,1728.24 1366.39,1727.86 1367.73,1727.46 1369.06,1727.04 1370.39,1726.62 1371.72,1726.18 1373.05,1725.73 1374.39,1725.27 1375.72,1724.8 1377.05,1724.32 1378.38,1723.82 1379.72,1723.32 1381.05,1722.82 1382.38,1722.3 1383.71,1721.79 1385.05,1721.27 1386.38,1720.75 1387.71,1720.23 1389.04,1719.71 1390.37,1719.2 1391.71,1718.69 1393.04,1718.2 1394.37,1717.71 1395.7,1717.24 1397.04,1716.78 1398.37,1716.34 1399.7,1715.92 1401.03,1715.52 1402.36,1715.14 1403.7,1714.79 1405.03,1714.46 1406.36,1714.17 1407.69,1713.9 1409.03,1713.66 1410.36,1713.46 1411.69,1713.29 1413.02,1713.16 1414.36,1713.06 1415.69,1713 1417.02,1712.97 1418.35,1712.98 1419.68,1713.03 1421.02,1713.11 1422.35,1713.23 1423.68,1713.39 1425.01,1713.58 1426.35,1713.81 1427.68,1714.08 1429.01,1714.37 1430.34,1714.7 1431.67,1715.07 1433.01,1715.46 1434.34,1715.88 1435.67,1716.33 1437,1716.81 1438.34,1717.31 1439.67,1717.84 1441,1718.38 1442.33,1718.95 1443.67,1719.53 1445,1720.13 1446.33,1720.75 1447.66,1721.38 1448.99,1722.02 1450.33,1722.67 1451.66,1723.32 1452.99,1723.98 1454.32,1724.65"/>
<polyline stroke="#fc8d62" points="1083.15,1740.27 1085.02,1740.25 1086.88,1740.23 1088.75,1740.23 1090.61,1740.23 1092.48,1740.23 1094.34,1740.24 1096.21,1740.26 1098.07,1740.28 1099.94,1740.31 1101.8,1740.34 1103.67,1740.38 1105.53,1740.42 1107.4,1740.46 1109.26,1740.5 1111.13,1740.54 1113,1740.58 1114.86,1740.61 1116.73,1740.65 1118.59,1740.68 1120.46,1740.71 1122.32,1740.73 1124.19,1740.75 1126.05,1740.76 1127.92,1740.77 1129.78,1740.77 1131.65,1740.76 1133.51,1740.74 1135.38,1740.72 1137.24,1740.69 1139.11,1740.65 1140.97,1740.61 1142.84,1740.56 1144.7,1740.5 1146.57,1740.44 1148.43,1740.37 1150.3,1740.29 1152.16,1740.21 1154.03,1740.13 1155.89,1740.04 1157.76,1739.95 1159.62,1739.86 1161.49,1739.76 1163.36,1739.66 1165.22,1739.56 1167.09,1739.46 1168.95,1739.35 1170.82,1739.25 1172.68,1739.14 1174.55,1739.03 1176.41,1738.92 1178.28,1738.81 1180.14,1738.7 1182.01,1738.59 1183.87,1738.48 1185.74,1738.37 1187.6,1738.26 1189.47,1738.15 1191.33,1738.04 1193.2,1737.93 1195.06,1737.82 1196.93,1737.71 1198.79,1737.61 1200.66,1737.5 1202.52,1737.4 1204.39,1737.3 1206.25,1737.21 1208.12,1737.12 1209.98,1737.03 1211.85,1736.94 1213.72,1736.86 1215.58,1736.79 1217.45,1736.71 1219.31,1736.64 1221.18,1736.58 1223.04,1736.51 1224.91,1736.45 1226.77,1736.39 1228.64,1736.33 1230.5,1736.27 1232.37,1736.21 1234.23,1736.14 1236.1,1736.07 1237.96,1735.99 1239.83,1735.91 1241.69,1735.82 1243.56,1735.72 1245.42,1735.61 1247.29,1735.49 1249.15,1735.35 1251.02,1735.2 1252.88,1735.04 1254.75,1734.87 1256.61,1734.68 1258.48,1734.47 1260.34,1734.25 1262.21,1734.02 1264.08,1733.78 1265.94,1733.52 1267.81,1733.25 1269.67,1732.97 1271.54,1732.68 1273.4,1732.38 1275.27,1732.08 1277.13,1731.76 1279,1731.44 1280.86,1731.11 1282.73,1730.78 1284.59,1730.44 1286.46,1730.1 1288.32,1729.75 1290.19,1729.4 1292.05,1729.04 1293.92,1728.68 1295.78,1728.31 1297.65,1727.94 1299.51,1727.55 1301.38,1727.16 1303.24,1726.76 1305.11,1726.36 1306.97,1725.94 1308.84,1725.51 1310.7,1725.06 1312.57,1724.61 1314.43,1724.14 1316.3,1723.66 1318.17,1723.17 1320.03,1722.66 1321.9,1722.14 1323.76,1721.6 1325.63,1721.05 1327.49,1720.48 1329.36,1719.9 1331.22,1719.31 1333.09,1718.69 1334.95,1718.07 1336.82,1717.43 1338.68,1716.77 1340.55,1716.1 1342.41,1715.42 1344.28,1714.72 1346.14,1714.01 1348.01,1713.28 1349.87,1712.53 1351.74,1711.78 1353.6,1711.01 1355.47,1710.22 1357.33,1709.42 1359.2,1708.61 1361.06,1707.79 1362.93,1706.96 1364.79,1706.12 1366.66,1705.27 1368.53,1704.42 1370.39,1703.56 1372.26,1702.7 1374.12,1701.83 1375.99,1700.98 1377.85,1700.12 1379.72,1699.28 1381.58,1698.45 1383.45,1697.63 1385.31,1696.83 1387.18,1696.06 1389.04,1695.32 1390.91,1694.6 1392.77,1693.93 1394.64,1693.29 1396.5,1692.71 1398.37,1692.17 1400.23,1691.68 1402.1,1691.26 1403.96,1690.9 1405.83,1690.61 1407.69,1690.4 1409.56,1690.26 1411.42,1690.2 1413.29,1690.23 1415.15,1690.34 1417.02,1690.54 1418.89,1690.84 1420.75,1691.23 1422.62,1691.71 1424.48,1692.29 1426.35,1692.97 1428.21,1693.74 1430.08,1694.6 1431.94,1695.56 1433.81,1696.6 1435.67,1697.73 1437.54,1698.93 1439.4,1700.22 1441.27,1701.57 1443.13,1702.98 1445,1704.45 1446.86,1705.97 1448.73,1707.52 1450.59,1709.11 1452.46,1710.72 1454.32,1712.35"/>
<polyline stroke="#66c2a5" points="1212.77,1740.36 1213.98,1740.32 1215.2,1740.28 1216.41,1740.24 1217.62,1740.19 1218.84,1740.15 1220.05,1740.11 1221.26,1740.07 1222.48,1740.02 1223.69,1739.98 1224.91,1739.94 1226.12,1739.89 1227.33,1739.85 1228.55,1739.8 1229.76,1739.76 1230.98,1739.71 1232.19,1739.67 1233.4,1739.62 1234.62,1739.57 1235.83,1739.53 1237.04,1739.48 1238.26,1739.44 1239.47,1739.39 1240.69,1739.34 1241.9,1739.3 1243.11,1739.25 1244.33,1739.21 1245.54,1739.16 1246.76,1739.12 1247.97,1739.07 1249.18,1739.03 1250.4,1738.99 1251.61,1738.94 1252.82,1738.9 1254.04,1738.86 1255.25,1738.82 1256.47,1738.78 1257.68,1738.74 1258.89,1738.7 1260.11,1738.66 1261.32,1738.62 1262.54,1738.58 1263.75,1738.55 1264.96,1738.51 1266.18,1738.48 1267.39,1738.44 1268.6,1738.41 1269.82,1738.38 1271.03,1738.35 1272.25,1738.32 1273.46,1738.29 1274.67,1738.26 1275.89,1738.23 1277.1,1738.2 1278.32,1738.18 1279.53,1738.15 1280.74,1738.13 1281.96,1738.11 1283.17,1738.08 1284.38,1738.06 1285.6,1738.04 1286.81,1738.02 1288.03,1738.01 1289.24,1737.99 1290.45,1737.97 1291.67,1737.95 1292.88,1737.94 1294.1,1737.92 1295.31,1737.91 1296.52,1737.9 1297.74,1737.88 1298.95,1737.87 1300.16,1737.86 1301.38,1737.85 1302.59,1737.84 1303.81,1737.82 1305.02,1737.81 1306.23,1737.8 1307.45,1737.79 1308.66,1737.78 1309.88,1737.77 1311.09,1737.76 1312.3,1737.75 1313.52,1737.74 1314.73,1737.72 1315.94,1737.71 1317.16,1737.7 1318.37,1737.68 1319.59,1737.67 1320.8,1737.65 1322.01,1737.63 1323.23,1737.61 1324.44,1737.59 1325.66,1737.57 1326.87,1737.55 1328.08,1737.52 1329.3,1737.49 1330.51,1737.46 1331.72,1737.43 1332.94,1737.39 1334.15,1737.35 1335.37,1737.31 1336.58,1737.27 1337.79,1737.22 1339.01,1737.17 1340.22,1737.11 1341.44,1737.05 1342.65,1736.99 1343.86,1736.93 1345.08,1736.86 1346.29,1736.79 1347.5,1736.71 1348.72,1736.63 1349.93,1736.54 1351.15,1736.45 1352.36,1736.36 1353.57,1736.26 1354.79,1736.15 1356,1736.05 1357.22,1735.93 1358.43,1735.82 1359.64,1735.7 1360.86,1735.57 1362.07,1735.44 1363.28,1735.31 1364.5,1735.17 1365.71,1735.03 1366.93,1734.88 1368.14,1734.73 1369.35,1734.58 1370.57,1734.42 1371.78,1734.26 1373,1734.09 1374.21,1733.92 1375.42,1733.75 1376.64,1733.58 1377.85,1733.4 1379.07,1733.23 1380.28,1733.05 1381.49,1732.86 1382.71,1732.68 1383.92,1732.5 1385.13,1732.31 1386.35,1732.13 1387.56,1731.94 1388.78,1731.76 1389.99,1731.57 1391.2,1731.39 1392.42,1731.21 1393.63,1731.03 1394.85,1730.86 1396.06,1730.68 1397.27,1730.51 1398.49,1730.35 1399.7,1730.18 1400.91,1730.03 1402.13,1729.87 1403.34,1729.73 1404.56,1729.59 1405.77,1729.45 1406.98,1729.32 1408.2,1729.2 1409.41,1729.09 1410.63,1728.99 1411.84,1728.89 1413.05,1728.81 1414.27,1728.73 1415.48,1728.66 1416.69,1728.6 1417.91,1728.55 1419.12,1728.52 1420.34,1728.49 1421.55,1728.48 1422.76,1728.47 1423.98,1728.48 1425.19,1728.5 1426.41,1728.53 1427.62,1728.57 1428.83,1728.62 1430.05,1728.68 1431.26,1728.76 1432.47,1728.85 1433.69,1728.95 1434.9,1729.06 1436.12,1729.18 1437.33,1729.31 1438.54,1729.45 1439.76,1729.6 1440.97,1729.76 1442.19,1729.93 1443.4,1730.12 1444.61,1730.3 1445.83,1730.5 1447.04,1730.71 1448.25,1730.92 1449.47,1731.14 1450.68,1731.37 1451.9,1731.6 1453.11,1731.83 1454.32,1732.08"/>
<polyline stroke="#e5c494" points="1283.47,1740.92 1284.33,1740.92 1285.18,1740.92 1286.04,1740.92 1286.9,1740.92 1287.76,1740.93 1288.62,1740.93 1289.48,1740.94 1290.34,1740.94 1291.19,1740.95 1292.05,1740.96 1292.91,1740.97 1293.77,1740.98 1294.63,1740.99 1295.49,1741 1296.35,1741.01 1297.2,1741.02 1298.06,1741.03 1298.92,1741.05 1299.78,1741.06 1300.64,1741.07 1301.5,1741.09 1302.36,1741.1 1303.21,1741.12 1304.07,1741.13 1304.93,1741.15 1305.79,1741.16 1306.65,1741.17 1307.51,1741.19 1308.37,1741.2 1309.22,1741.22 1310.08,1741.23 1310.94,1741.25 1311.8,1741.26 1312.66,1741.27 1313.52,1741.29 1314.38,1741.3 1315.23,1741.31 1316.09,1741.32 1316.95,1741.33 1317.81,1741.35 1318.67,1741.36 1319.53,1741.37 1320.39,1741.37 1321.24,1741.38 1322.1,1741.39 1322.96,1741.4 1323.82,1741.4 1324.68,1741.41 1325.54,1741.41 1326.4,1741.42 1327.25,1741.42 1328.11,1741.42 1328.97,1741.42 1329.83,1741.42 1330.69,1741.42 1331.55,1741.42 1332.41,1741.41 1333.26,1741.41 1334.12,1741.41 1334.98,1741.4 1335.84,1741.39 1336.7,1741.39 1337.56,1741.38 1338.42,1741.37 1339.27,1741.36 1340.13,1741.34 1340.99,1741.33 1341.85,1741.32 1342.71,1741.3 1343.57,1741.28 1344.43,1741.27 1345.28,1741.25 1346.14,1741.23 1347,1741.21 1347.86,1741.19 1348.72,1741.16 1349.58,1741.14 1350.44,1741.11 1351.29,1741.09 1352.15,1741.06 1353.01,1741.03 1353.87,1741 1354.73,1740.97 1355.59,1740.94 1356.45,1740.9 1357.3,1740.87 1358.16,1740.83 1359.02,1740.79 1359.88,1740.75 1360.74,1740.71 1361.6,1740.66 1362.46,1740.62 1363.31,1740.57 1364.17,1740.53 1365.03,1740.48 1365.89,1740.42 1366.75,1740.37 1367.61,1740.31 1368.47,1740.26 1369.32,1740.2 1370.18,1740.14 1371.04,1740.07 1371.9,1740.01 1372.76,1739.94 1373.62,1739.87 1374.48,1739.79 1375.33,1739.72 1376.19,1739.64 1377.05,1739.56 1377.91,1739.48 1378.77,1739.39 1379.63,1739.3 1380.49,1739.21 1381.34,1739.12 1382.2,1739.02 1383.06,1738.92 1383.92,1738.82 1384.78,1738.72 1385.64,1738.61 1386.5,1738.5 1387.35,1738.39 1388.21,1738.28 1389.07,1738.16 1389.93,1738.04 1390.79,1737.92 1391.65,1737.79 1392.51,1737.67 1393.36,1737.54 1394.22,1737.41 1395.08,1737.28 1395.94,1737.15 1396.8,1737.01 1397.66,1736.87 1398.52,1736.74 1399.37,1736.6 1400.23,1736.46 1401.09,1736.32 1401.95,1736.18 1402.81,1736.04 1403.67,1735.91 1404.53,1735.77 1405.38,1735.63 1406.24,1735.5 1407.1,1735.36 1407.96,1735.23 1408.82,1735.1 1409.68,1734.97 1410.54,1734.84 1411.39,1734.72 1412.25,1734.6 1413.11,1734.49 1413.97,1734.37 1414.83,1734.27 1415.69,1734.16 1416.55,1734.06 1417.4,1733.97 1418.26,1733.88 1419.12,1733.8 1419.98,1733.72 1420.84,1733.64 1421.7,1733.58 1422.56,1733.52 1423.41,1733.47 1424.27,1733.42 1425.13,1733.38 1425.99,1733.34 1426.85,1733.32 1427.71,1733.3 1428.57,1733.29 1429.42,1733.28 1430.28,1733.28 1431.14,1733.29 1432,1733.31 1432.86,1733.33 1433.72,1733.36 1434.58,1733.4 1435.43,1733.44 1436.29,1733.5 1437.15,1733.55 1438.01,1733.62 1438.87,1733.69 1439.73,1733.77 1440.59,1733.85 1441.44,1733.94 1442.3,1734.04 1443.16,1734.14 1444.02,1734.24 1444.88,1734.36 1445.74,1734.47 1446.6,1734.59 1447.46,1734.72 1448.31,1734.84 1449.17,1734.98 1450.03,1735.11 1450.89,1735.25 1451.75,1735.39 1452.61,1735.53 1453.47,1735.68 1454.32,1735.83"/>
<polyline stroke="#a6d854" points="1279.54,1738.02 1280.42,1737.95 1281.3,1737.89 1282.17,1737.82 1283.05,1737.77 1283.93,1737.71 1284.81,1737.66 1285.69,1737.61 1286.57,1737.56 1287.44,1737.51 1288.32,1737.47 1289.2,1737.43 1290.08,1737.39 1290.96,1737.36 1291.84,1737.32 1292.71,1737.29 1293.59,1737.26 1294.47,1737.23 1295.35,1737.2 1296.23,1737.17 1297.11,1737.14 1297.98,1737.11 1298.86,1737.09 1299.74,1737.06 1300.62,1737.03 1301.5,1737 1302.38,1736.97 1303.25,1736.94 1304.13,1736.91 1305.01,1736.87 1305.89,1736.83 1306.77,1736.79 1307.65,1736.75 1308.52,1736.71 1309.4,1736.67 1310.28,1736.62 1311.16,1736.57 1312.04,1736.51 1312.92,1736.46 1313.79,1736.4 1314.67,1736.34 1315.55,1736.28 1316.43,1736.21 1317.31,1736.14 1318.19,1736.08 1319.06,1736 1319.94,1735.93 1320.82,1735.86 1321.7,1735.78 1322.58,1735.71 1323.45,1735.63 1324.33,1735.56 1325.21,1735.48 1326.09,1735.41 1326.97,1735.33 1327.85,1735.26 1328.72,1735.19 1329.6,1735.12 1330.48,1735.05 1331.36,1734.99 1332.24,1734.93 1333.12,1734.87 1333.99,1734.82 1334.87,1734.77 1335.75,1734.72 1336.63,1734.69 1337.51,1734.65 1338.39,1734.62 1339.26,1734.6 1340.14,1734.58 1341.02,1734.57 1341.9,1734.57 1342.78,1734.57 1343.66,1734.58 1344.53,1734.6 1345.41,1734.62 1346.29,1734.66 1347.17,1734.69 1348.05,1734.74 1348.93,1734.79 1349.8,1734.85 1350.68,1734.92 1351.56,1734.99 1352.44,1735.07 1353.32,1735.16 1354.2,1735.25 1355.07,1735.35 1355.95,1735.45 1356.83,1735.56 1357.71,1735.68 1358.59,1735.79 1359.47,1735.92 1360.34,1736.05 1361.22,1736.18 1362.1,1736.31 1362.98,1736.45 1363.86,1736.59 1364.74,1736.73 1365.61,1736.87 1366.49,1737.01 1367.37,1737.16 1368.25,1737.3 1369.13,1737.45 1370.01,1737.59 1370.88,1737.73 1371.76,1737.87 1372.64,1738.01 1373.52,1738.15 1374.4,1738.28 1375.28,1738.42 1376.15,1738.55 1377.03,1738.67 1377.91,1738.79 1378.79,1738.91 1379.67,1739.02 1380.55,1739.13 1381.42,1739.24 1382.3,1739.34 1383.18,1739.44 1384.06,1739.53 1384.94,1739.62 1385.82,1739.7 1386.69,1739.78 1387.57,1739.85 1388.45,1739.92 1389.33,1739.99 1390.21,1740.05 1391.09,1740.1 1391.96,1740.16 1392.84,1740.2 1393.72,1740.25 1394.6,1740.29 1395.48,1740.33 1396.35,1740.36 1397.23,1740.39 1398.11,1740.42 1398.99,1740.45 1399.87,1740.47 1400.75,1740.49 1401.62,1740.51 1402.5,1740.53 1403.38,1740.55 1404.26,1740.56 1405.14,1740.58 1406.02,1740.59 1406.89,1740.6 1407.77,1740.62 1408.65,1740.63 1409.53,1740.64 1410.41,1740.65 1411.29,1740.66 1412.16,1740.67 1413.04,1740.68 1413.92,1740.7 1414.8,1740.71 1415.68,1740.72 1416.56,1740.73 1417.43,1740.75 1418.31,1740.76 1419.19,1740.78 1420.07,1740.8 1420.95,1740.81 1421.83,1740.83 1422.7,1740.85 1423.58,1740.87 1424.46,1740.89 1425.34,1740.91 1426.22,1740.93 1427.1,1740.95 1427.97,1740.97 1428.85,1740.99 1429.73,1741.01 1430.61,1741.04 1431.49,1741.06 1432.37,1741.08 1433.24,1741.11 1434.12,1741.13 1435,1741.15 1435.88,1741.18 1436.76,1741.2 1437.64,1741.22 1438.51,1741.24 1439.39,1741.26 1440.27,1741.29 1441.15,1741.31 1442.03,1741.33 1442.91,1741.35 1443.78,1741.37 1444.66,1741.39 1445.54,1741.4 1446.42,1741.42 1447.3,1741.44 1448.18,1741.46 1449.05,1741.47 1449.93,1741.49 1450.81,1741.5 1451.69,1741.52 1452.57,1741.53 1453.45,1741.54 1454.32,1741.55"/>
<polyline stroke="#e78ac3" points="1248.12,1740.85 1249.15,1740.85 1250.19,1740.85 1251.23,1740.84 1252.26,1740.84 1253.3,1740.84 1254.33,1740.84 1255.37,1740.84 1256.41,1740.84 1257.44,1740.85 1258.48,1740.85 1259.52,1740.85 1260.55,1740.85 1261.59,1740.86 1262.62,1740.86 1263.66,1740.86 1264.7,1740.87 1265.73,1740.87 1266.77,1740.87 1267.81,1740.88 1268.84,1740.88 1269.88,1740.88 1270.91,1740.88 1271.95,1740.88 1272.99,1740.88 1274.02,1740.87 1275.06,1740.87 1276.1,1740.87 1277.13,1740.86 1278.17,1740.85 1279.2,1740.84 1280.24,1740.83 1281.28,1740.82 1282.31,1740.81 1283.35,1740.79 1284.38,1740.78 1285.42,1740.76 1286.46,1740.74 1287.49,1740.72 1288.53,1740.69 1289.57,1740.67 1290.6,1740.64 1291.64,1740.61 1292.67,1740.58 1293.71,1740.55 1294.75,1740.52 1295.78,1740.48 1296.82,1740.44 1297.86,1740.41 1298.89,1740.36 1299.93,1740.32 1300.96,1740.28 1302,1740.23 1303.04,1740.18 1304.07,1740.13 1305.11,1740.08 1306.15,1740.03 1307.18,1739.97 1308.22,1739.92 1309.25,1739.86 1310.29,1739.8 1311.33,1739.74 1312.36,1739.67 1313.4,1739.61 1314.43,1739.54 1315.47,1739.47 1316.51,1739.4 1317.54,1739.33 1318.58,1739.25 1319.62,1739.18 1320.65,1739.1 1321.69,1739.02 1322.72,1738.94 1323.76,1738.86 1324.8,1738.78 1325.83,1738.69 1326.87,1738.61 1327.91,1738.53 1328.94,1738.44 1329.98,1738.35 1331.01,1738.26 1332.05,1738.18 1333.09,1738.09 1334.12,1738 1335.16,1737.91 1336.2,1737.82 1337.23,1737.73 1338.27,1737.64 1339.3,1737.56 1340.34,1737.47 1341.38,1737.38 1342.41,1737.29 1343.45,1737.2 1344.49,1737.12 1345.52,1737.03 1346.56,1736.95 1347.59,1736.86 1348.63,1736.78 1349.67,1736.69 1350.7,1736.61 1351.74,1736.53 1352.77,1736.45 1353.81,1736.37 1354.85,1736.29 1355.88,1736.21 1356.92,1736.12 1357.96,1736.04 1358.99,1735.96 1360.03,1735.88 1361.06,1735.8 1362.1,1735.72 1363.14,1735.64 1364.17,1735.56 1365.21,1735.47 1366.25,1735.39 1367.28,1735.3 1368.32,1735.22 1369.35,1735.13 1370.39,1735.04 1371.43,1734.94 1372.46,1734.85 1373.5,1734.75 1374.54,1734.65 1375.57,1734.55 1376.61,1734.44 1377.64,1734.33 1378.68,1734.22 1379.72,1734.1 1380.75,1733.98 1381.79,1733.86 1382.82,1733.74 1383.86,1733.61 1384.9,1733.48 1385.93,1733.34 1386.97,1733.2 1388.01,1733.06 1389.04,1732.91 1390.08,1732.76 1391.11,1732.61 1392.15,1732.45 1393.19,1732.29 1394.22,1732.13 1395.26,1731.97 1396.3,1731.81 1397.33,1731.64 1398.37,1731.47 1399.4,1731.3 1400.44,1731.13 1401.48,1730.96 1402.51,1730.79 1403.55,1730.62 1404.59,1730.46 1405.62,1730.29 1406.66,1730.12 1407.69,1729.96 1408.73,1729.8 1409.77,1729.65 1410.8,1729.5 1411.84,1729.35 1412.88,1729.21 1413.91,1729.07 1414.95,1728.94 1415.98,1728.82 1417.02,1728.7 1418.06,1728.59 1419.09,1728.49 1420.13,1728.4 1421.16,1728.32 1422.2,1728.25 1423.24,1728.19 1424.27,1728.13 1425.31,1728.09 1426.35,1728.06 1427.38,1728.05 1428.42,1728.04 1429.45,1728.05 1430.49,1728.07 1431.53,1728.1 1432.56,1728.14 1433.6,1728.2 1434.64,1728.27 1435.67,1728.35 1436.71,1728.44 1437.74,1728.55 1438.78,1728.67 1439.82,1728.8 1440.85,1728.95 1441.89,1729.11 1442.93,1729.28 1443.96,1729.46 1445,1729.65 1446.03,1729.85 1447.07,1730.06 1448.11,1730.28 1449.14,1730.51 1450.18,1730.75 1451.21,1731 1452.25,1731.25 1453.29,1731.51 1454.32,1731.78"/>
<polyline stroke="#a6d854" points="1200.98,1740.3 1202.26,1740.24 1203.53,1740.18 1204.8,1740.12 1206.08,1740.06 1207.35,1739.99 1208.62,1739.92 1209.9,1739.84 1211.17,1739.76 1212.44,1739.68 1213.72,1739.59 1214.99,1739.49 1216.26,1739.39 1217.53,1739.28 1218.81,1739.17 1220.08,1739.05 1221.35,1738.93 1222.63,1738.8 1223.9,1738.66 1225.17,1738.52 1226.45,1738.38 1227.72,1738.23 1228.99,1738.08 1230.26,1737.93 1231.54,1737.78 1232.81,1737.63 1234.08,1737.47 1235.36,1737.32 1236.63,1737.17 1237.9,1737.02 1239.18,1736.88 1240.45,1736.74 1241.72,1736.61 1243,1736.48 1244.27,1736.36 1245.54,1736.24 1246.81,1736.13 1248.09,1736.03 1249.36,1735.94 1250.63,1735.85 1251.91,1735.77 1253.18,1735.69 1254.45,1735.62 1255.73,1735.55 1257,1735.49 1258.27,1735.44 1259.55,1735.38 1260.82,1735.33 1262.09,1735.28 1263.36,1735.23 1264.64,1735.19 1265.91,1735.14 1267.18,1735.08 1268.46,1735.03 1269.73,1734.97 1271,1734.9 1272.28,1734.83 1273.55,1734.75 1274.82,1734.67 1276.1,1734.58 1277.37,1734.47 1278.64,1734.36 1279.91,1734.24 1281.19,1734.1 1282.46,1733.96 1283.73,1733.8 1285.01,1733.62 1286.28,1733.44 1287.55,1733.24 1288.83,1733.03 1290.1,1732.8 1291.37,1732.56 1292.64,1732.3 1293.92,1732.03 1295.19,1731.75 1296.46,1731.45 1297.74,1731.14 1299.01,1730.81 1300.28,1730.48 1301.56,1730.14 1302.83,1729.78 1304.1,1729.42 1305.38,1729.05 1306.65,1728.67 1307.92,1728.3 1309.19,1727.92 1310.47,1727.53 1311.74,1727.16 1313.01,1726.78 1314.29,1726.41 1315.56,1726.04 1316.83,1725.69 1318.11,1725.34 1319.38,1725.01 1320.65,1724.68 1321.93,1724.38 1323.2,1724.08 1324.47,1723.8 1325.74,1723.54 1327.02,1723.29 1328.29,1723.05 1329.56,1722.83 1330.84,1722.63 1332.11,1722.43 1333.38,1722.25 1334.66,1722.08 1335.93,1721.91 1337.2,1721.76 1338.48,1721.6 1339.75,1721.45 1341.02,1721.3 1342.29,1721.15 1343.57,1720.99 1344.84,1720.82 1346.11,1720.65 1347.39,1720.46 1348.66,1720.26 1349.93,1720.04 1351.21,1719.81 1352.48,1719.56 1353.75,1719.29 1355.02,1719 1356.3,1718.69 1357.57,1718.36 1358.84,1718.01 1360.12,1717.63 1361.39,1717.23 1362.66,1716.81 1363.94,1716.37 1365.21,1715.91 1366.48,1715.43 1367.76,1714.92 1369.03,1714.4 1370.3,1713.85 1371.57,1713.29 1372.85,1712.7 1374.12,1712.1 1375.39,1711.47 1376.67,1710.83 1377.94,1710.16 1379.21,1709.46 1380.49,1708.74 1381.76,1708 1383.03,1707.23 1384.31,1706.43 1385.58,1705.61 1386.85,1704.75 1388.12,1703.85 1389.4,1702.93 1390.67,1701.97 1391.94,1700.97 1393.22,1699.94 1394.49,1698.87 1395.76,1697.77 1397.04,1696.63 1398.31,1695.46 1399.58,1694.26 1400.86,1693.02 1402.13,1691.77 1403.4,1690.49 1404.67,1689.19 1405.95,1687.89 1407.22,1686.58 1408.49,1685.26 1409.77,1683.96 1411.04,1682.67 1412.31,1681.41 1413.59,1680.18 1414.86,1678.98 1416.13,1677.84 1417.4,1676.76 1418.68,1675.75 1419.95,1674.82 1421.22,1673.97 1422.5,1673.22 1423.77,1672.58 1425.04,1672.05 1426.32,1671.64 1427.59,1671.36 1428.86,1671.21 1430.14,1671.2 1431.41,1671.34 1432.68,1671.62 1433.95,1672.05 1435.23,1672.63 1436.5,1673.36 1437.77,1674.24 1439.05,1675.26 1440.32,1676.43 1441.59,1677.73 1442.87,1679.16 1444.14,1680.72 1445.41,1682.39 1446.69,1684.16 1447.96,1686.03 1449.23,1687.98 1450.5,1690 1451.78,1692.09 1453.05,1694.22 1454.32,1696.39"/>
<polyline stroke="#b3b3b3" points="1094.94,1739.94 1096.74,1739.84 1098.55,1739.74 1100.35,1739.64 1102.16,1739.54 1103.97,1739.44 1105.77,1739.34 1107.58,1739.23 1109.38,1739.13 1111.19,1739.02 1113,1738.92 1114.8,1738.81 1116.61,1738.7 1118.41,1738.59 1120.22,1738.48 1122.03,1738.38 1123.83,1738.28 1125.64,1738.19 1127.44,1738.1 1129.25,1738.01 1131.05,1737.94 1132.86,1737.87 1134.67,1737.81 1136.47,1737.75 1138.28,1737.7 1140.08,1737.66 1141.89,1737.62 1143.7,1737.58 1145.5,1737.55 1147.31,1737.51 1149.11,1737.48 1150.92,1737.45 1152.73,1737.41 1154.53,1737.36 1156.34,1737.32 1158.14,1737.26 1159.95,1737.2 1161.76,1737.13 1163.56,1737.05 1165.37,1736.96 1167.17,1736.86 1168.98,1736.75 1170.79,1736.64 1172.59,1736.51 1174.4,1736.39 1176.2,1736.26 1178.01,1736.12 1179.82,1736 1181.62,1735.87 1183.43,1735.75 1185.23,1735.64 1187.04,1735.55 1188.85,1735.47 1190.65,1735.41 1192.46,1735.37 1194.26,1735.34 1196.07,1735.34 1197.88,1735.36 1199.68,1735.39 1201.49,1735.45 1203.29,1735.51 1205.1,1735.59 1206.91,1735.68 1208.71,1735.77 1210.52,1735.86 1212.32,1735.95 1214.13,1736.03 1215.94,1736.09 1217.74,1736.14 1219.55,1736.17 1221.35,1736.16 1223.16,1736.13 1224.97,1736.07 1226.77,1735.97 1228.58,1735.82 1230.38,1735.64 1232.19,1735.4 1234,1735.12 1235.8,1734.78 1237.61,1734.39 1239.41,1733.95 1241.22,1733.44 1243.03,1732.87 1244.83,1732.24 1246.64,1731.54 1248.44,1730.78 1250.25,1729.95 1252.05,1729.05 1253.86,1728.09 1255.67,1727.07 1257.47,1725.99 1259.28,1724.85 1261.08,1723.66 1262.89,1722.43 1264.7,1721.16 1266.5,1719.85 1268.31,1718.53 1270.11,1717.2 1271.92,1715.86 1273.73,1714.53 1275.53,1713.21 1277.34,1711.91 1279.14,1710.64 1280.95,1709.41 1282.76,1708.21 1284.56,1707.06 1286.37,1705.94 1288.17,1704.87 1289.98,1703.84 1291.79,1702.84 1293.59,1701.87 1295.4,1700.92 1297.2,1699.98 1299.01,1699.06 1300.82,1698.13 1302.62,1697.19 1304.43,1696.23 1306.23,1695.24 1308.04,1694.22 1309.85,1693.15 1311.65,1692.03 1313.46,1690.85 1315.26,1689.61 1317.07,1688.31 1318.88,1686.94 1320.68,1685.51 1322.49,1684.02 1324.29,1682.47 1326.1,1680.87 1327.91,1679.2 1329.71,1677.49 1331.52,1675.73 1333.32,1673.92 1335.13,1672.05 1336.94,1670.14 1338.74,1668.16 1340.55,1666.12 1342.35,1664.01 1344.16,1661.8 1345.97,1659.5 1347.77,1657.09 1349.58,1654.54 1351.38,1651.85 1353.19,1649 1355,1645.97 1356.8,1642.75 1358.61,1639.32 1360.41,1635.67 1362.22,1631.8 1364.03,1627.7 1365.83,1623.36 1367.64,1618.8 1369.44,1614.02 1371.25,1609.03 1373.05,1603.84 1374.86,1598.5 1376.67,1593.01 1378.47,1587.41 1380.28,1581.75 1382.08,1576.04 1383.89,1570.33 1385.7,1564.66 1387.5,1559.07 1389.31,1553.58 1391.11,1548.24 1392.92,1543.06 1394.73,1538.08 1396.53,1533.32 1398.34,1528.78 1400.14,1524.49 1401.95,1520.45 1403.76,1516.67 1405.56,1513.15 1407.37,1509.9 1409.17,1506.92 1410.98,1504.22 1412.79,1501.81 1414.59,1499.7 1416.4,1497.9 1418.2,1496.45 1420.01,1495.37 1421.82,1494.7 1423.62,1494.48 1425.43,1494.76 1427.23,1495.6 1429.04,1497.05 1430.85,1499.18 1432.65,1502.03 1434.46,1505.68 1436.26,1510.16 1438.07,1515.5 1439.88,1521.73 1441.68,1528.85 1443.49,1536.84 1445.29,1545.65 1447.1,1555.23 1448.91,1565.49 1450.71,1576.32 1452.52,1587.58 1454.32,1599.16"/>
<polyline stroke="#ffd92f" points="977.1,1740.58 979.5,1740.52 981.9,1740.46 984.3,1740.39 986.7,1740.32 989.09,1740.24 991.49,1740.15 993.89,1740.05 996.29,1739.93 998.69,1739.8 1001.08,1739.65 1003.48,1739.49 1005.88,1739.31 1008.28,1739.12 1010.68,1738.92 1013.07,1738.71 1015.47,1738.5 1017.87,1738.28 1020.27,1738.06 1022.67,1737.85 1025.07,1737.64 1027.46,1737.44 1029.86,1737.25 1032.26,1737.08 1034.66,1736.92 1037.06,1736.78 1039.45,1736.66 1041.85,1736.56 1044.25,1736.47 1046.65,1736.4 1049.05,1736.34 1051.44,1736.29 1053.84,1736.25 1056.24,1736.22 1058.64,1736.19 1061.04,1736.17 1063.43,1736.15 1065.83,1736.13 1068.23,1736.1 1070.63,1736.08 1073.03,1736.05 1075.43,1736.01 1077.82,1735.98 1080.22,1735.94 1082.62,1735.9 1085.02,1735.85 1087.42,1735.8 1089.81,1735.75 1092.21,1735.69 1094.61,1735.63 1097.01,1735.56 1099.41,1735.47 1101.8,1735.38 1104.2,1735.26 1106.6,1735.12 1109,1734.96 1111.4,1734.76 1113.79,1734.54 1116.19,1734.27 1118.59,1733.96 1120.99,1733.6 1123.39,1733.19 1125.79,1732.73 1128.18,1732.22 1130.58,1731.65 1132.98,1731.02 1135.38,1730.34 1137.78,1729.6 1140.17,1728.81 1142.57,1727.97 1144.97,1727.08 1147.37,1726.14 1149.77,1725.16 1152.16,1724.15 1154.56,1723.1 1156.96,1722.03 1159.36,1720.93 1161.76,1719.81 1164.15,1718.68 1166.55,1717.53 1168.95,1716.37 1171.35,1715.19 1173.75,1714.01 1176.14,1712.81 1178.54,1711.6 1180.94,1710.38 1183.34,1709.14 1185.74,1707.88 1188.14,1706.61 1190.53,1705.32 1192.93,1704.01 1195.33,1702.68 1197.73,1701.33 1200.13,1699.97 1202.52,1698.6 1204.92,1697.22 1207.32,1695.84 1209.72,1694.45 1212.12,1693.07 1214.51,1691.69 1216.91,1690.31 1219.31,1688.94 1221.71,1687.57 1224.11,1686.19 1226.5,1684.79 1228.9,1683.38 1231.3,1681.94 1233.7,1680.46 1236.1,1678.92 1238.5,1677.33 1240.89,1675.66 1243.29,1673.91 1245.69,1672.07 1248.09,1670.14 1250.49,1668.11 1252.88,1665.99 1255.28,1663.78 1257.68,1661.48 1260.08,1659.1 1262.48,1656.66 1264.87,1654.16 1267.27,1651.62 1269.67,1649.05 1272.07,1646.47 1274.47,1643.89 1276.86,1641.32 1279.26,1638.79 1281.66,1636.29 1284.06,1633.84 1286.46,1631.44 1288.86,1629.11 1291.25,1626.84 1293.65,1624.64 1296.05,1622.5 1298.45,1620.43 1300.85,1618.42 1303.24,1616.48 1305.64,1614.6 1308.04,1612.77 1310.44,1611.01 1312.84,1609.3 1315.23,1607.65 1317.63,1606.07 1320.03,1604.55 1322.43,1603.1 1324.83,1601.72 1327.22,1600.42 1329.62,1599.2 1332.02,1598.06 1334.42,1597 1336.82,1596.02 1339.22,1595.13 1341.61,1594.32 1344.01,1593.59 1346.41,1592.94 1348.81,1592.37 1351.21,1591.87 1353.6,1591.45 1356,1591.1 1358.4,1590.83 1360.8,1590.63 1363.2,1590.52 1365.59,1590.5 1367.99,1590.57 1370.39,1590.75 1372.79,1591.03 1375.19,1591.42 1377.58,1591.93 1379.98,1592.56 1382.38,1593.32 1384.78,1594.2 1387.18,1595.21 1389.58,1596.36 1391.97,1597.63 1394.37,1599.04 1396.77,1600.58 1399.17,1602.26 1401.57,1604.08 1403.96,1606.05 1406.36,1608.17 1408.76,1610.45 1411.16,1612.89 1413.56,1615.51 1415.95,1618.31 1418.35,1621.29 1420.75,1624.47 1423.15,1627.84 1425.55,1631.41 1427.94,1635.17 1430.34,1639.13 1432.74,1643.28 1435.14,1647.61 1437.54,1652.1 1439.94,1656.75 1442.33,1661.52 1444.73,1666.39 1447.13,1671.33 1449.53,1676.31 1451.93,1681.29 1454.32,1686.23"/>
<polyline stroke="#e5c494" points="1024.24,1739.02 1026.4,1738.82 1028.56,1738.65 1030.72,1738.5 1032.88,1738.38 1035.04,1738.29 1037.2,1738.21 1039.36,1738.16 1041.53,1738.12 1043.69,1738.07 1045.85,1738.03 1048.01,1737.96 1050.17,1737.87 1052.33,1737.74 1054.49,1737.57 1056.65,1737.35 1058.82,1737.08 1060.98,1736.76 1063.14,1736.39 1065.3,1735.98 1067.46,1735.53 1069.62,1735.07 1071.78,1734.6 1073.94,1734.13 1076.11,1733.66 1078.27,1733.22 1080.43,1732.8 1082.59,1732.39 1084.75,1732.01 1086.91,1731.63 1089.07,1731.25 1091.23,1730.86 1093.4,1730.44 1095.56,1729.98 1097.72,1729.46 1099.88,1728.86 1102.04,1728.18 1104.2,1727.41 1106.36,1726.54 1108.52,1725.56 1110.69,1724.49 1112.85,1723.33 1115.01,1722.09 1117.17,1720.78 1119.33,1719.43 1121.49,1718.06 1123.65,1716.69 1125.81,1715.33 1127.98,1714.01 1130.14,1712.74 1132.3,1711.52 1134.46,1710.36 1136.62,1709.26 1138.78,1708.21 1140.94,1707.2 1143.1,1706.2 1145.27,1705.19 1147.43,1704.16 1149.59,1703.07 1151.75,1701.89 1153.91,1700.6 1156.07,1699.16 1158.23,1697.57 1160.39,1695.78 1162.56,1693.8 1164.72,1691.59 1166.88,1689.17 1169.04,1686.53 1171.2,1683.69 1173.36,1680.67 1175.52,1677.5 1177.68,1674.22 1179.85,1670.85 1182.01,1667.44 1184.17,1664.01 1186.33,1660.58 1188.49,1657.16 1190.65,1653.74 1192.81,1650.31 1194.97,1646.84 1197.14,1643.29 1199.3,1639.64 1201.46,1635.86 1203.62,1631.91 1205.78,1627.79 1207.94,1623.49 1210.1,1619.02 1212.26,1614.38 1214.43,1609.6 1216.59,1604.7 1218.75,1599.69 1220.91,1594.6 1223.07,1589.43 1225.23,1584.19 1227.39,1578.9 1229.55,1573.57 1231.72,1568.21 1233.88,1562.84 1236.04,1557.5 1238.2,1552.19 1240.36,1546.96 1242.52,1541.83 1244.68,1536.81 1246.84,1531.91 1249.01,1527.12 1251.17,1522.42 1253.33,1517.77 1255.49,1513.13 1257.65,1508.44 1259.81,1503.64 1261.97,1498.7 1264.13,1493.56 1266.3,1488.2 1268.46,1482.6 1270.62,1476.75 1272.78,1470.65 1274.94,1464.31 1277.1,1457.74 1279.26,1450.95 1281.42,1443.94 1283.59,1436.71 1285.75,1429.22 1287.91,1421.46 1290.07,1413.37 1292.23,1404.9 1294.39,1395.98 1296.55,1386.53 1298.71,1376.47 1300.88,1365.72 1303.04,1354.2 1305.2,1341.87 1307.36,1328.69 1309.52,1314.67 1311.68,1299.84 1313.84,1284.3 1316,1268.17 1318.17,1251.61 1320.33,1234.84 1322.49,1218.05 1324.65,1201.48 1326.81,1185.35 1328.97,1169.84 1331.13,1155.11 1333.29,1141.31 1335.46,1128.5 1337.62,1116.74 1339.78,1106.04 1341.94,1096.4 1344.1,1087.79 1346.26,1080.16 1348.42,1073.46 1350.58,1067.63 1352.75,1062.58 1354.91,1058.22 1357.07,1054.45 1359.23,1051.15 1361.39,1048.19 1363.55,1045.44 1365.71,1042.76 1367.87,1040.03 1370.04,1037.17 1372.2,1034.12 1374.36,1030.83 1376.52,1027.33 1378.68,1023.67 1380.84,1019.91 1383,1016.17 1385.16,1012.56 1387.33,1009.22 1389.49,1006.28 1391.65,1003.85 1393.81,1002.05 1395.97,1000.98 1398.13,1000.72 1400.29,1001.33 1402.45,1002.86 1404.62,1005.34 1406.78,1008.78 1408.94,1013.18 1411.1,1018.54 1413.26,1024.85 1415.42,1032.11 1417.58,1040.33 1419.74,1049.55 1421.9,1059.83 1424.07,1071.3 1426.23,1084.09 1428.39,1098.41 1430.55,1114.47 1432.71,1132.51 1434.87,1152.76 1437.03,1175.4 1439.19,1200.57 1441.36,1228.29 1443.52,1258.48 1445.68,1290.93 1447.84,1325.3 1450,1361.11 1452.16,1397.79 1454.32,1434.7"/>
<polyline stroke="#e78ac3" points="841.6,1740.99 844.68,1740.97 847.75,1740.97 850.83,1740.97 853.91,1740.99 856.99,1741.01 860.07,1741.04 863.15,1741.08 866.23,1741.13 869.31,1741.17 872.39,1741.22 875.47,1741.27 878.54,1741.32 881.62,1741.37 884.7,1741.41 887.78,1741.45 890.86,1741.48 893.94,1741.51 897.02,1741.53 900.1,1741.54 903.18,1741.55 906.26,1741.54 909.34,1741.53 912.41,1741.51 915.49,1741.48 918.57,1741.45 921.65,1741.4 924.73,1741.34 927.81,1741.27 930.89,1741.2 933.97,1741.11 937.05,1741.02 940.13,1740.92 943.2,1740.81 946.28,1740.7 949.36,1740.59 952.44,1740.48 955.52,1740.37 958.6,1740.27 961.68,1740.17 964.76,1740.07 967.84,1739.98 970.92,1739.9 973.99,1739.83 977.07,1739.76 980.15,1739.69 983.23,1739.63 986.31,1739.57 989.39,1739.51 992.47,1739.44 995.55,1739.38 998.63,1739.3 1001.71,1739.22 1004.79,1739.14 1007.86,1739.05 1010.94,1738.95 1014.02,1738.84 1017.1,1738.73 1020.18,1738.61 1023.26,1738.48 1026.34,1738.34 1029.42,1738.2 1032.5,1738.04 1035.58,1737.87 1038.65,1737.69 1041.73,1737.49 1044.81,1737.27 1047.89,1737.03 1050.97,1736.76 1054.05,1736.47 1057.13,1736.15 1060.21,1735.8 1063.29,1735.41 1066.37,1734.99 1069.44,1734.54 1072.52,1734.05 1075.6,1733.52 1078.68,1732.95 1081.76,1732.35 1084.84,1731.7 1087.92,1731.02 1091,1730.29 1094.08,1729.53 1097.16,1728.72 1100.24,1727.88 1103.31,1726.99 1106.39,1726.07 1109.47,1725.12 1112.55,1724.15 1115.63,1723.15 1118.71,1722.13 1121.79,1721.1 1124.87,1720.07 1127.95,1719.04 1131.03,1718.03 1134.1,1717.03 1137.18,1716.05 1140.26,1715.11 1143.34,1714.19 1146.42,1713.31 1149.5,1712.46 1152.58,1711.63 1155.66,1710.83 1158.74,1710.05 1161.82,1709.29 1164.89,1708.52 1167.97,1707.76 1171.05,1706.99 1174.13,1706.21 1177.21,1705.41 1180.29,1704.59 1183.37,1703.75 1186.45,1702.89 1189.53,1702.02 1192.61,1701.14 1195.68,1700.25 1198.76,1699.36 1201.84,1698.48 1204.92,1697.61 1208,1696.75 1211.08,1695.91 1214.16,1695.07 1217.24,1694.24 1220.32,1693.41 1223.4,1692.56 1226.48,1691.68 1229.55,1690.75 1232.63,1689.77 1235.71,1688.71 1238.79,1687.55 1241.87,1686.29 1244.95,1684.92 1248.03,1683.41 1251.11,1681.78 1254.19,1680.03 1257.27,1678.15 1260.34,1676.15 1263.42,1674.06 1266.5,1671.88 1269.58,1669.62 1272.66,1667.32 1275.74,1664.98 1278.82,1662.62 1281.9,1660.26 1284.98,1657.91 1288.06,1655.59 1291.13,1653.31 1294.21,1651.06 1297.29,1648.86 1300.37,1646.7 1303.45,1644.59 1306.53,1642.53 1309.61,1640.51 1312.69,1638.54 1315.77,1636.62 1318.85,1634.75 1321.93,1632.93 1325,1631.17 1328.08,1629.49 1331.16,1627.88 1334.24,1626.35 1337.32,1624.92 1340.4,1623.58 1343.48,1622.35 1346.56,1621.23 1349.64,1620.2 1352.72,1619.27 1355.79,1618.43 1358.87,1617.67 1361.95,1616.98 1365.03,1616.34 1368.11,1615.75 1371.19,1615.18 1374.27,1614.65 1377.35,1614.13 1380.43,1613.64 1383.51,1613.19 1386.58,1612.79 1389.66,1612.46 1392.74,1612.25 1395.82,1612.18 1398.9,1612.31 1401.98,1612.68 1405.06,1613.35 1408.14,1614.35 1411.22,1615.75 1414.3,1617.59 1417.38,1619.89 1420.45,1622.69 1423.53,1626 1426.61,1629.81 1429.69,1634.12 1432.77,1638.89 1435.85,1644.09 1438.93,1649.65 1442.01,1655.5 1445.09,1661.58 1448.17,1667.8 1451.24,1674.08 1454.32,1680.32"/>
</g>
</g>
<rect x="811.5" y="930.5" width="674.0" height="812.0" fill="none" stroke="#000" stroke-width="1.11"/>
<g stroke="#000" stroke-width="1.11">
<line x1="902.5" x2="902.5" y1="1742.5" y2="1747.36"/>
<line x1="1012.5" x2="1012.5" y1="1742.5" y2="1747.36"/>
<line x1="1123.5" x2="1123.5" y1="1742.5" y2="1747.36"/>
<line x1="1233.5" x2="1233.5" y1="1742.5" y2="1747.36"/>
<line x1="1343.5" x2="1343.5" y1="1742.5" y2="1747.36"/>
<line x1="1454.5" x2="1454.5" y1="1742.5" y2="1747.36"/>
<line x1="806.64" x2="811.5" y1="1742.5" y2="1742.5"/>
<line x1="806.64" x2="811.5" y1="1634.5" y2="1634.5"/>
<line x1="806.64" x2="811.5" y1="1527.5" y2="1527.5"/>
<line x1="806.64" x2="811.5" y1="1419.5" y2="1419.5"/>
<line x1="806.64" x2="811.5" y1="1311.5" y2="1311.5"/>
<line x1="806.64" x2="811.5" y1="1203.5" y2="1203.5"/>
<line x1="806.64" x2="811.5" y1="1096.5" y2="1096.5"/>
<line x1="806.64" x2="811.5" y1="988.5" y2="988.5"/>
</g>
<g font-family="'DejaVu Sans','Liberation Sans',sans-serif" font-size="13.89" fill="#000">
<text transform="translate(902.8,1762.0) scale(0.96,1)" text-anchor="middle">−0.5</text>
<text transform="translate(1012.8,1762.0) scale(0.96,1)" text-anchor="middle">−0.4</text>
<text transform="translate(1123.8,1762.0) scale(0.96,1)" text-anchor="middle">−0.3</text>
<text transform="translate(1233.8,1762.0) scale(0.96,1)" text-anchor="middle">−0.2</text>
<text transform="translate(1343.8,1762.0) scale(0.96,1)" text-anchor="middle">−0.1</text>
<text transform="translate(1454.8,1762.0) scale(0.96,1)" text-anchor="middle">0.0</text>
<text transform="translate(800.6,1747.3) scale(0.96,1)" text-anchor="end">0.0</text>
<text transform="translate(800.6,1639.3) scale(0.96,1)" text-anchor="end">0.5</text>
<text transform="translate(800.6,1532.3) scale(0.96,1)" text-anchor="end">1.0</text>
<text transform="translate(800.6,1424.3) scale(0.96,1)" text-anchor="end">1.5</text>
<text transform="translate(800.6,1316.3) scale(0.96,1)" text-anchor="end">2.0</text>
<text transform="translate(800.6,1208.3) scale(0.96,1)" text-anchor="end">2.5</text>
<text transform="translate(800.6,1101.3) scale(0.96,1)" text-anchor="end">3.0</text>
<text transform="translate(800.6,993.3) scale(0.96,1)" text-anchor="end">3.5</text>
<text x="1148.2" y="1781.5" text-anchor="middle">Alpha</text>
<text transform="translate(771,1337.8) rotate(-90)" text-anchor="middle">Density</text>
</g>
<text transform="translate(1148.5,922.2) scale(1,1.07)" text-anchor="middle" font-family="'DejaVu Sans','Liberation Sans',sans-serif" font-size="16.67" fill="#000">Negative Alpha Values by Model Country</text>
<rect x="818.4" y="937.6" width="110.0" height="296.8" rx="2.8" fill="#fff" fill-opacity="0.8" stroke="#ccc" stroke-opacity="0.8" stroke-width="1.11"/>
<g font-family="'DejaVu Sans','Liberation Sans',sans-serif" font-size="13.8" fill="#000">
<text x="823.9" y="952.9">modelCountry</text>
<rect x="842.5" y="965.5" width="28" height="9" fill="none" stroke="#e78ac3" stroke-opacity="0.5" stroke-width="2.78"/>
<text x="882" y="973.7">IN</text>
<rect x="842.5" y="986.42" width="28" height="9" fill="none" stroke="#e5c494" stroke-opacity="0.5" stroke-width="2.78"/>
<text x="882" y="994.62">CN</text>
<rect x="842.5" y="1007.34" width="28" height="9" fill="none" stroke="#ffd92f" stroke-opacity="0.5" stroke-width="2.78"/>
<text x="882" y="1015.54">KR</text>
<rect x="842.5" y="1028.26" width="28" height="9" fill="none" stroke="#b3b3b3" stroke-opacity="0.5" stroke-width="2.78"/>
<text x="882" y="1036.46">JP</text>
<rect x="842.5" y="1049.18" width="28" height="9" fill="none" stroke="#a6d854" stroke-opacity="0.5" stroke-width="2.78"/>
<text x="882" y="1057.38">TW</text>
<rect x="842.5" y="1070.1" width="28" height="9" fill="none" stroke="#e78ac3" stroke-opacity="0.5" stroke-width="2.78"/>
<text x="882" y="1078.3">ID</text>
<rect x="842.5" y="1091.02" width="28" height="9" fill="none" stroke="#a6d854" stroke-opacity="0.5" stroke-width="2.78"/>
<text x="882" y="1099.22">NZ</text>
<rect x="842.5" y="1111.94" width="28" height="9" fill="none" stroke="#e5c494" stroke-opacity="0.5" stroke-width="2.78"/>
<text x="882" y="1120.14">SG</text>
<rect x="842.5" y="1132.86" width="28" height="9" fill="none" stroke="#66c2a5" stroke-opacity="0.5" stroke-width="2.78"/>
<text x="882" y="1141.06">TH</text>
<rect x="842.5" y="1153.78" width="28" height="9" fill="none" stroke="#fc8d62" stroke-opacity="0.5" stroke-width="2.78"/>
<text x="882" y="1161.98">AU</text>
<rect x="842.5" y="1174.7" width="28" height="9" fill="none" stroke="#8da0cb" stroke-opacity="0.5" stroke-width="2.78"/>
<text x="882" y="1182.9">XH</text>
<rect x="842.5" y="1195.62" width="28" height="9" fill="none" stroke="#ffd92f" stroke-opacity="0.5" stroke-width="2.78"/>
<text x="882" y="1203.82">HK</text>
<rect x="842.5" y="1216.54" width="28" height="9" fill="none" stroke="#fc8d62" stroke-opacity="0.5" stroke-width="2.78"/>
<text x="882" y="1224.74">MY</text>
</g></svg></body></html>
